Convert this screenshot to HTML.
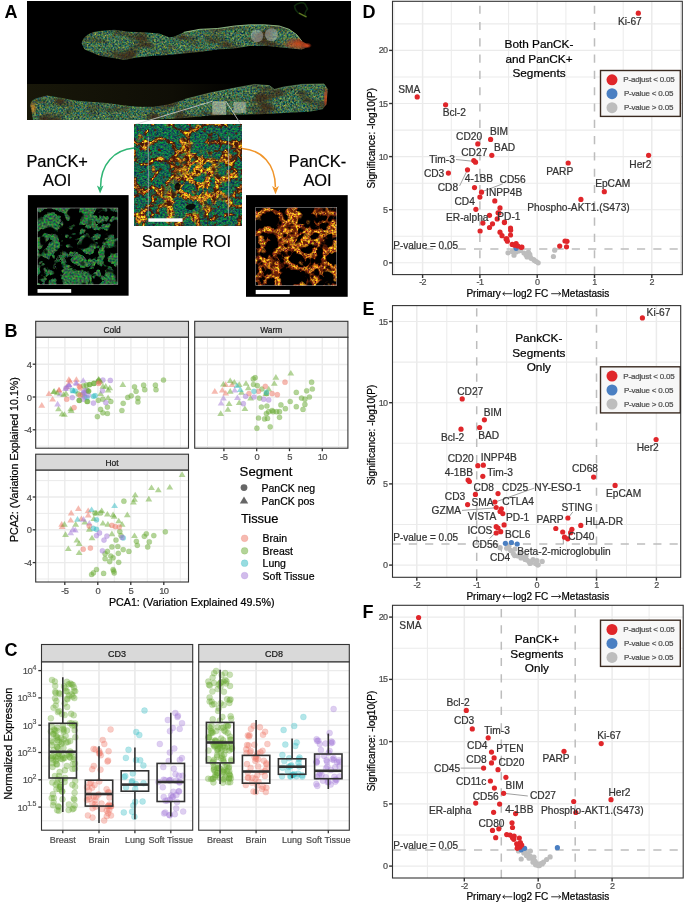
<!DOCTYPE html>
<html><head><meta charset="utf-8"><style>
html,body{margin:0;padding:0;background:#fff;width:685px;height:905px;overflow:hidden}
svg{display:block;will-change:transform;filter:blur(0.3px)}
text{font-family:"Liberation Sans",sans-serif}
</style></head><body>
<svg width="685" height="905" viewBox="0 0 685 905" font-family="Liberation Sans, sans-serif">
<defs>

<filter id="roi" x="0" y="0" width="1" height="1" filterUnits="objectBoundingBox" color-interpolation-filters="sRGB">
 <feTurbulence type="turbulence" baseFrequency="0.055" numOctaves="3" seed="11" result="T"/>
 <feTurbulence type="fractalNoise" baseFrequency="0.07" numOctaves="2" seed="3" result="B"/>
 <feTurbulence type="fractalNoise" baseFrequency="0.22" numOctaves="2" seed="9" result="N"/>
 <feColorMatrix in="T" type="matrix" values="0 0 0 0 0  0 0 0 0 0  0 0 0 0 0  -12 0 0 0 2.05" result="m1"/>
 <feColorMatrix in="B" type="matrix" values="0 0 0 0 0  0 0 0 0 0  0 0 0 0 0  10 0 0 0 -6.6" result="m2"/>
 <feComposite in="m1" in2="m2" operator="arithmetic" k2="1" k3="1" result="mk"/>
 <feColorMatrix in="N" type="matrix" values="0 0 0 0 0  0 0 0 0 0  0 0 0 0 0  6 0 0 0 -1.9" result="brk"/>
 <feComposite in="mk" in2="brk" operator="in" result="mask"/>
 <feColorMatrix in="T" type="matrix" values="0 0 0 0 0  0 0 0 0 0  0 0 0 0 0  -12 0 0 0 3.05" result="m3"/>
 <feComposite in="m3" in2="m2" operator="arithmetic" k2="1" k3="1" result="mask2"/>
 <feColorMatrix in="N" type="matrix" values="0 0 0 0 0  0 0 0 0 0  0 0 0 0 0  0 -8 0 0 2.7" result="dmask"/>
 <feTurbulence type="fractalNoise" baseFrequency="0.5" numOctaves="2" seed="4" result="fine"/>
 <feColorMatrix in="fine" type="matrix" values="1.7 0 0 0 0.0  1.7 0.8 0 0 -0.68  0 0 0.4 0 -0.08  0 0 0 0 1" result="yel"/>
 <feColorMatrix in="fine" type="matrix" values="0.4 0 0 0 -0.12  0 0.9 0 0 -0.05  0 -0.2 0.25 0 0.28  0 0 0 0 1" result="grn"/>
 <feFlood flood-color="#4a1608" result="dr"/>
 <feComposite in="dr" in2="mask2" operator="in" result="drm"/>
 <feFlood flood-color="#5a1608" result="dk"/>
 <feComposite in="dk" in2="dmask" operator="in" result="dkm"/>
 <feComposite in="yel" in2="mask" operator="in" result="ym"/>
 <feComposite in="dkm" in2="grn" operator="over" result="g1"/>
 <feComposite in="drm" in2="g1" operator="over" result="g2"/>
 <feComposite in="ym" in2="g2" operator="over"/>
</filter>
<filter id="roi2" x="0" y="0" width="1" height="1" filterUnits="objectBoundingBox" color-interpolation-filters="sRGB">
 <feTurbulence type="turbulence" baseFrequency="0.055" numOctaves="3" seed="11" result="T"/>
 <feTurbulence type="fractalNoise" baseFrequency="0.07" numOctaves="2" seed="3" result="B"/>
 <feTurbulence type="fractalNoise" baseFrequency="0.22" numOctaves="2" seed="9" result="N"/>
 <feColorMatrix in="T" type="matrix" values="0 0 0 0 0  0 0 0 0 0  0 0 0 0 0  -12 0 0 0 3.9" result="m1"/>
 <feColorMatrix in="B" type="matrix" values="0 0 0 0 0  0 0 0 0 0  0 0 0 0 0  10 0 0 0 -6.0" result="m2"/>
 <feComposite in="m1" in2="m2" operator="arithmetic" k2="1" k3="1" result="mk"/>
 <feColorMatrix in="N" type="matrix" values="0 0 0 0 0  0 0 0 0 0  0 0 0 0 0  6 0 0 0 -1.9" result="brk"/>
 <feComposite in="mk" in2="brk" operator="in" result="mask"/>
 <feColorMatrix in="T" type="matrix" values="0 0 0 0 0  0 0 0 0 0  0 0 0 0 0  -12 0 0 0 4.2" result="m3"/>
 <feComposite in="m3" in2="m2" operator="arithmetic" k2="1" k3="1" result="mask2"/>
 <feColorMatrix in="N" type="matrix" values="0 0 0 0 0  0 0 0 0 0  0 0 0 0 0  0 -8 0 0 2.7" result="dmask"/>
 <feTurbulence type="fractalNoise" baseFrequency="0.5" numOctaves="2" seed="4" result="fine"/>
 <feColorMatrix in="fine" type="matrix" values="1.7 0 0 0 0.0  1.7 0.8 0 0 -0.68  0 0 0.4 0 -0.08  0 0 0 0 1" result="yel"/>
 <feColorMatrix in="fine" type="matrix" values="0.4 0 0 0 -0.12  0 0.9 0 0 -0.05  0 -0.2 0.25 0 0.28  0 0 0 0 1" result="grn"/>
 <feFlood flood-color="#4a1608" result="dr"/>
 <feComposite in="dr" in2="mask2" operator="in" result="drm"/>
 <feFlood flood-color="#5a1608" result="dk"/>
 <feComposite in="dk" in2="dmask" operator="in" result="dkm"/>
 <feComposite in="yel" in2="mask" operator="in" result="ym"/>
 <feComposite in="dkm" in2="grn" operator="over" result="g1"/>
 <feComposite in="drm" in2="g1" operator="over" result="g2"/>
 <feComposite in="ym" in2="g2" operator="over"/>
</filter>
<filter id="aoin" x="0" y="0" width="1" height="1" color-interpolation-filters="sRGB">
 <feTurbulence type="turbulence" baseFrequency="0.055" numOctaves="3" seed="11" result="T"/>
 <feTurbulence type="fractalNoise" baseFrequency="0.07" numOctaves="2" seed="3" result="B"/>
 <feTurbulence type="fractalNoise" baseFrequency="0.22" numOctaves="2" seed="9" result="N"/>
 <feColorMatrix in="T" type="matrix" values="0 0 0 0 0  0 0 0 0 0  0 0 0 0 0  -12 0 0 0 2.45" result="m1"/>
 <feColorMatrix in="B" type="matrix" values="0 0 0 0 0  0 0 0 0 0  0 0 0 0 0  10 0 0 0 -6.0" result="m2"/>
 <feComposite in="m1" in2="m2" operator="arithmetic" k2="1" k3="1" result="mk"/>
 <feColorMatrix in="N" type="matrix" values="0 0 0 0 0  0 0 0 0 0  0 0 0 0 0  6 0 0 0 -1.9" result="brk"/>
 <feComposite in="mk" in2="brk" operator="in" result="mask"/>
 <feColorMatrix in="T" type="matrix" values="0 0 0 0 0  0 0 0 0 0  0 0 0 0 0  -12 0 0 0 3.5" result="m3"/>
 <feComposite in="m3" in2="m2" operator="arithmetic" k2="1" k3="1" result="mask2"/>
 <feColorMatrix in="N" type="matrix" values="0 0 0 0 0  0 0 0 0 0  0 0 0 0 0  0 -8 0 0 3.0" result="dmask"/>
 <feTurbulence type="fractalNoise" baseFrequency="0.5" numOctaves="2" seed="4" result="fine"/>
 <feColorMatrix in="fine" type="matrix" values="1.7 0 0 0 -0.02  1.6 0.8 0 0 -0.7  0 0 0.4 0 -0.08  0 0 0 0 1" result="yel"/>
 <feColorMatrix in="fine" type="matrix" values="0.4 0 0 0 -0.1  0 0.9 0 0 -0.05  0 -0.2 0.25 0 0.2  0 0 0 0 1" result="grn"/>
 <feFlood flood-color="#6a2008" result="dr"/>
 <feComposite in="dr" in2="mask2" operator="in" result="drm"/>
 <feFlood flood-color="#2a0c06" result="dk"/>
 <feComposite in="dk" in2="dmask" operator="in" result="dkm"/>
 <feComposite in="yel" in2="mask" operator="in" result="ym"/>
 <feFlood flood-color="#000" result="g1"/>
 <feComposite in="drm" in2="g1" operator="over" result="g2"/>
 <feComposite in="ym" in2="g2" operator="over"/>
</filter>
<filter id="aoin2" x="0" y="0" width="1" height="1" color-interpolation-filters="sRGB">
 <feTurbulence type="turbulence" baseFrequency="0.055" numOctaves="3" seed="11" result="T"/>
 <feTurbulence type="fractalNoise" baseFrequency="0.07" numOctaves="2" seed="3" result="B"/>
 <feTurbulence type="fractalNoise" baseFrequency="0.22" numOctaves="2" seed="9" result="N"/>
 <feColorMatrix in="T" type="matrix" values="0 0 0 0 0  0 0 0 0 0  0 0 0 0 0  -12 0 0 0 3.05" result="m1"/>
 <feColorMatrix in="B" type="matrix" values="0 0 0 0 0  0 0 0 0 0  0 0 0 0 0  10 0 0 0 -6.0" result="m2"/>
 <feComposite in="m1" in2="m2" operator="arithmetic" k2="1" k3="1" result="mk"/>
 <feColorMatrix in="N" type="matrix" values="0 0 0 0 0  0 0 0 0 0  0 0 0 0 0  6 0 0 0 -1.9" result="brk"/>
 <feComposite in="mk" in2="brk" operator="in" result="mask"/>
 <feColorMatrix in="T" type="matrix" values="0 0 0 0 0  0 0 0 0 0  0 0 0 0 0  -12 0 0 0 3.8" result="m3"/>
 <feComposite in="m3" in2="m2" operator="arithmetic" k2="1" k3="1" result="mask2"/>
 <feColorMatrix in="N" type="matrix" values="0 0 0 0 0  0 0 0 0 0  0 0 0 0 0  0 -8 0 0 3.0" result="dmask"/>
 <feTurbulence type="fractalNoise" baseFrequency="0.5" numOctaves="2" seed="4" result="fine"/>
 <feColorMatrix in="fine" type="matrix" values="1.7 0 0 0 -0.02  1.6 0.8 0 0 -0.7  0 0 0.4 0 -0.08  0 0 0 0 1" result="yel"/>
 <feColorMatrix in="fine" type="matrix" values="0.4 0 0 0 -0.1  0 0.9 0 0 -0.05  0 -0.2 0.25 0 0.2  0 0 0 0 1" result="grn"/>
 <feFlood flood-color="#6a2008" result="dr"/>
 <feComposite in="dr" in2="mask2" operator="in" result="drm"/>
 <feFlood flood-color="#2a0c06" result="dk"/>
 <feComposite in="dk" in2="dmask" operator="in" result="dkm"/>
 <feComposite in="yel" in2="mask" operator="in" result="ym"/>
 <feFlood flood-color="#000" result="g1"/>
 <feComposite in="drm" in2="g1" operator="over" result="g2"/>
 <feComposite in="ym" in2="g2" operator="over"/>
</filter>
<filter id="aoip" x="0" y="0" width="1" height="1" color-interpolation-filters="sRGB">
 <feTurbulence type="turbulence" baseFrequency="0.055" numOctaves="3" seed="11" result="T"/>
 <feTurbulence type="fractalNoise" baseFrequency="0.07" numOctaves="2" seed="3" result="B"/>
 <feColorMatrix in="T" type="matrix" values="0 0 0 0 0  0 0 0 0 0  0 0 0 0 0  12 0 0 0 -2.5" result="m1"/>
 <feColorMatrix in="B" type="matrix" values="0 0 0 0 0  0 0 0 0 0  0 0 0 0 0  -10 0 0 0 6.9" result="m2"/>
 <feComposite in="m1" in2="m2" operator="in" result="mask"/>
 <feTurbulence type="fractalNoise" baseFrequency="0.5" numOctaves="2" seed="4" result="fine"/>
 <feColorMatrix in="fine" type="matrix" values="0.7 0 0 0 -0.17  0 0.9 0 0 0.0  0 -0.2 0.3 0 0.2  0 0 0 0 1" result="grn"/>
 <feComposite in="grn" in2="mask" operator="in" result="gm"/>
 <feFlood flood-color="#000" result="blk"/>
 <feComposite in="gm" in2="blk" operator="over"/>
</filter>



<filter id="tis" x="0" y="0" width="1" height="1" filterUnits="objectBoundingBox" color-interpolation-filters="sRGB">
 <feTurbulence type="fractalNoise" baseFrequency="0.55" numOctaves="2" seed="8" result="fine"/>
 <feColorMatrix in="fine" type="matrix" values="0.9 0.3 0 0 -0.35  0.35 0.7 0 0 -0.1  -0.2 0.2 0.5 0 0.05  0 0 0 0 1" result="c"/>
 <feTurbulence type="fractalNoise" baseFrequency="0.9" numOctaves="1" seed="5" result="sp"/>
 <feColorMatrix in="sp" type="matrix" values="0 0 0 0 0  0 0 0 0 0  0 0 0 0 0  10 0 0 0 -7.2" result="spm"/>
 <feFlood flood-color="#d8b838" result="yl"/>
 <feComposite in="yl" in2="spm" operator="in" result="ys"/>
 <feComposite in="ys" in2="c" operator="over" result="c2"/>
 <feTurbulence type="fractalNoise" baseFrequency="0.04 0.08" numOctaves="2" seed="21" result="low"/>
 <feColorMatrix in="low" type="matrix" values="0 0 0 0 0  0 0 0 0 0  0 0 0 0 0  -4 0 0 0 2.1" result="dk"/>
 <feFlood flood-color="#3a1a0c" flood-opacity="0.7" result="brown"/>
 <feComposite in="brown" in2="dk" operator="in" result="bm"/>
 <feComposite in="bm" in2="c2" operator="over"/>
</filter>
<filter id="blur6" x="-50%" y="-50%" width="200%" height="200%"><feGaussianBlur stdDeviation="6"/></filter>
<mask id="ymask" maskUnits="userSpaceOnUse" x="0" y="0" width="106.2" height="100.7"><path d="M60,22 C72,24 78,40 88,52 C96,62 90,80 76,80 C66,80 60,90 48,92 C34,94 26,86 30,74 C34,62 44,58 48,46 C52,34 50,22 60,22Z" fill="#fff" filter="url(#blur6)"/></mask>
<filter id="blur1" x="-50%" y="-50%" width="200%" height="200%"><feGaussianBlur stdDeviation="0.6"/></filter>
<radialGradient id="redglow" cx="0.5" cy="0.5" r="0.5"><stop offset="0" stop-color="#e04a1a" stop-opacity="0.85"/><stop offset="0.6" stop-color="#c83a18" stop-opacity="0.5"/><stop offset="1" stop-color="#a02a10" stop-opacity="0"/></radialGradient>
<radialGradient id="orglow" cx="0.5" cy="0.5" r="0.5"><stop offset="0" stop-color="#f09a20" stop-opacity="0.8"/><stop offset="1" stop-color="#d06010" stop-opacity="0"/></radialGradient>
<clipPath id="cpU"><path d="M81.6,43.4 C83,36 90,32 99.5,31 L114.4,29.8 L129.2,31.8 L144.1,32.3 L159,33.5 L169,37.2 L173.9,36.7 L183.8,32.3 L199.9,29.3 L217.3,28.5 L234.6,26 L249.5,24.8 L264.4,24.8 L279.3,26 L289.2,29.3 L296.7,34.7 L301.7,41 L310,46 L301.7,49.6 L291.7,48.4 L279.3,47.2 L266.9,45.9 L249.5,45.9 L234.6,48.4 L217.3,49.6 L199.9,52.1 L183.8,53.4 L169,55.1 L154,55.8 L136.7,57.6 L124.3,60 L114.4,58.3 L99.5,55.8 L84.6,49.6 Z"/></clipPath>
<clipPath id="cpL"><path d="M31.2,109.2 C29,104 31,100 37.4,98 L47.3,95.6 L62.2,98 L74.6,100.5 L89.5,101.8 L106.9,103 L124.3,105.5 L139.2,106.7 L154,106.7 L169,104.2 L185,99.3 L209.8,93 L234.6,88.1 L254.5,84.4 L269.4,85.6 L274.4,89.4 L284.3,86.9 L301.7,84.4 L324,83.9 L327.7,89.4 L326.5,104.2 L322.7,109.2 L309.1,111.7 L284.3,112.9 L259.5,114.2 L234.6,114.7 L209.8,115.4 L185,118 L150,120 L100,120 L60,120 L33,120 Z"/></clipPath>
<linearGradient id="olive" x1="0" x2="1" y1="0" y2="0"><stop offset="0" stop-color="#181709"/><stop offset="0.45" stop-color="#0f0e06"/><stop offset="0.7" stop-color="#000"/></linearGradient>
<marker id="ahg" viewBox="0 0 10 10" refX="5" refY="9" markerWidth="6.6" markerHeight="7.5" markerUnits="userSpaceOnUse" orient="auto-start-reverse"><path d="M0,0 L5,3 L10,0 L5,10 Z" fill="#2fb574"/></marker>
</defs>
<text x="4.6" y="12.3" font-size="18" text-anchor="start" fill="#000" font-weight="bold" dominant-baseline="central" >A</text>
<text x="4.6" y="330.8" font-size="18" text-anchor="start" fill="#000" font-weight="bold" dominant-baseline="central" >B</text>
<text x="4.6" y="650.4" font-size="18" text-anchor="start" fill="#000" font-weight="bold" dominant-baseline="central" >C</text>
<text x="362.6" y="12.3" font-size="18" text-anchor="start" fill="#000" font-weight="bold" dominant-baseline="central" >D</text>
<text x="362.6" y="308.8" font-size="18" text-anchor="start" fill="#000" font-weight="bold" dominant-baseline="central" >E</text>
<text x="362.6" y="612.2" font-size="18" text-anchor="start" fill="#000" font-weight="bold" dominant-baseline="central" >F</text>
<rect x="27.0" y="1.0" width="324.0" height="119.0" fill="#000" stroke="none" stroke-width="1" />
<rect x="27.0" y="84.0" width="324.0" height="36.0" fill="url(#olive)" stroke="none" stroke-width="1" />
<g clip-path="url(#cpU)"><rect x="80" y="24" width="232" height="37" fill="#000" filter="url(#tis)"/></g>
<g clip-path="url(#cpL)"><rect x="28" y="83" width="302" height="37" fill="#000" filter="url(#tis)"/></g>
<path d="M183.8,32.3 L199.9,29.3 L217.3,28.5 L234.6,26 L249.5,24.8 L264.4,24.8 L279.3,26 L289.2,29.3 L296.7,34.7 L301.7,41" fill="none" stroke="#b8e8a8" stroke-width="1" opacity="0.7"/>
<path d="M185,99.3 L209.8,93 L234.6,88.1 L254.5,84.4 L269.4,85.6 L274.4,89.4 L284.3,86.9 L301.7,84.4 L324,83.9 L327.7,89.4" fill="none" stroke="#a8e0a0" stroke-width="0.8" opacity="0.45"/>
<path d="M294.5,6 C297,2.5 303,2 305,4 L307.5,9 C305,12 303.5,14.5 306.5,17 L300,14 C297,12.5 295,10 294.5,6Z" fill="none" stroke="#2f7a26" stroke-width="1.6" opacity="0.35" filter="url(#blur1)"/>
<path d="M299,13 L306.5,17" stroke="#a0b030" stroke-width="1.2" opacity="0.6" filter="url(#blur1)"/>
<g clip-path="url(#cpU)"><ellipse cx="298" cy="44" rx="16" ry="7" fill="url(#redglow)"/></g>
<ellipse cx="307" cy="45.5" rx="5" ry="3" fill="url(#redglow)"/>
<g clip-path="url(#cpL)"><ellipse cx="33" cy="108" rx="4" ry="8" fill="url(#orglow)"/><ellipse cx="326" cy="98" rx="3" ry="12" fill="url(#redglow)"/></g>
<circle cx="257" cy="36" r="6.2" fill="#b8c0c0" opacity="0.5"/>
<circle cx="271.4" cy="34.7" r="6.5" fill="#b8c0c0" opacity="0.5"/>
<rect x="212.3" y="101.3" width="13.7" height="13.4" fill="#d0d0c0" stroke="none" stroke-width="1" opacity="0.55"/>
<rect x="233.4" y="101.8" width="12.4" height="11.1" fill="#d0d0c0" stroke="none" stroke-width="1" opacity="0.5"/>
<line x1="212.3" y1="101.3" x2="135.4" y2="124.4" stroke="#d0d0d0" stroke-width="0.8" />
<line x1="226.0" y1="101.3" x2="240.9" y2="124.4" stroke="#d0d0d0" stroke-width="0.8" />
<g transform="translate(134.9,124.5)"><rect x="0" y="0" width="106.2" height="100.7" fill="#000" filter="url(#roi)"/><g mask="url(#ymask)"><rect x="0" y="0" width="106.2" height="100.7" fill="#000" filter="url(#roi2)"/></g><line x1="13.4" y1="12" x2="13.4" y2="92" stroke="#bbb" stroke-width="0.7"/><line x1="93.7" y1="12" x2="93.7" y2="92" stroke="#bbb" stroke-width="0.7"/><path d="M41,59 C44,57.5 46.5,60 45.5,63 C44.5,66 42,66.5 40.5,64.5 C39.5,62.5 39.5,60.5 41,59Z" fill="#0a0604" opacity="0.9"/><path d="M51,82 C53,78.5 58,78.5 60,80.5 C61.5,83 58,86 55,85.5 C52,85 50,84 51,82Z" fill="#0a0604" opacity="0.9"/><rect x="13.4" y="93.8" width="34.2" height="3.5" fill="#fff"/></g>
<rect x="27.9" y="195.1" width="100.7" height="100.6" fill="#000" stroke="none" stroke-width="1" />
<g transform="translate(24.1,196)"><rect x="13.4" y="12" width="80.3" height="76.7" fill="#000" filter="url(#aoip)"/><rect x="13.4" y="12" width="80.3" height="76.7" fill="none" stroke="#9a9a9a" stroke-width="0.6"/></g>
<rect x="37.5" y="289.1" width="33.7" height="3.7" fill="#fff" stroke="none" stroke-width="1" />
<rect x="246.0" y="195.1" width="101.7" height="101.7" fill="#000" stroke="none" stroke-width="1" />
<g transform="translate(242.3,195.3)"><rect x="13.4" y="12" width="81" height="78.3" fill="#000" filter="url(#aoin)"/><g mask="url(#ymask)"><rect x="13.4" y="12" width="81" height="78.3" fill="#000" filter="url(#aoin2)"/></g><rect x="13.4" y="12" width="81" height="78.3" fill="none" stroke="#9a9a9a" stroke-width="0.6"/></g>
<rect x="255.7" y="289.9" width="34.0" height="4.2" fill="#fff" stroke="none" stroke-width="1" />
<path d="M134,148.1 C114,150 100.5,164 100.6,187" fill="none" stroke="#2fb574" stroke-width="1.5"/>
<path d="M96.9,185.6 L100.1,187.6 L103.5,185.6 L100.1,193.6 Z" fill="#2fb574"/>
<path d="M242,148.5 C262,150 275.3,164 275.4,187" fill="none" stroke="#f0952a" stroke-width="1.5"/>
<path d="M272.1,186 L275.5,188 L278.9,186 L275.5,194.2 Z" fill="#f0952a"/>
<text x="57.2" y="161.0" font-size="16.4" text-anchor="middle" fill="#000" font-weight="normal" dominant-baseline="central" stroke="#000" stroke-width="0.22" >PanCK+</text>
<text x="57.2" y="180.4" font-size="16.4" text-anchor="middle" fill="#000" font-weight="normal" dominant-baseline="central" stroke="#000" stroke-width="0.22" >AOI</text>
<text x="317.5" y="160.8" font-size="16.4" text-anchor="middle" fill="#000" font-weight="normal" dominant-baseline="central" stroke="#000" stroke-width="0.22" >PanCK-</text>
<text x="317.5" y="180.0" font-size="16.4" text-anchor="middle" fill="#000" font-weight="normal" dominant-baseline="central" stroke="#000" stroke-width="0.22" >AOI</text>
<text x="186.5" y="240.7" font-size="16.4" text-anchor="middle" fill="#000" font-weight="normal" dominant-baseline="central" stroke="#000" stroke-width="0.22" >Sample ROI</text>
<rect x="35.7" y="321.3" width="152.8" height="16.0" fill="#d9d9d9" stroke="#333333" stroke-width="1.1" />
<text x="112.1" y="329.6" font-size="8.4" text-anchor="middle" fill="#1a1a1a" font-weight="normal" dominant-baseline="central" stroke="#1a1a1a" stroke-width="0.22" >Cold</text>
<rect x="35.7" y="337.3" width="152.8" height="110.9" fill="#fff" stroke="none" stroke-width="1" />
<line x1="48.4" y1="337.3" x2="48.4" y2="448.2" stroke="#ebebeb" stroke-width="1" />
<line x1="64.9" y1="337.3" x2="64.9" y2="448.2" stroke="#ebebeb" stroke-width="1.4" />
<line x1="81.4" y1="337.3" x2="81.4" y2="448.2" stroke="#ebebeb" stroke-width="1" />
<line x1="97.9" y1="337.3" x2="97.9" y2="448.2" stroke="#ebebeb" stroke-width="1.4" />
<line x1="114.4" y1="337.3" x2="114.4" y2="448.2" stroke="#ebebeb" stroke-width="1" />
<line x1="130.9" y1="337.3" x2="130.9" y2="448.2" stroke="#ebebeb" stroke-width="1.4" />
<line x1="147.4" y1="337.3" x2="147.4" y2="448.2" stroke="#ebebeb" stroke-width="1" />
<line x1="163.9" y1="337.3" x2="163.9" y2="448.2" stroke="#ebebeb" stroke-width="1.4" />
<line x1="180.4" y1="337.3" x2="180.4" y2="448.2" stroke="#ebebeb" stroke-width="1" />
<line x1="35.7" y1="446.2" x2="188.5" y2="446.2" stroke="#ebebeb" stroke-width="1" />
<line x1="35.7" y1="429.8" x2="188.5" y2="429.8" stroke="#ebebeb" stroke-width="1.4" />
<line x1="35.7" y1="413.4" x2="188.5" y2="413.4" stroke="#ebebeb" stroke-width="1" />
<line x1="35.7" y1="397.0" x2="188.5" y2="397.0" stroke="#ebebeb" stroke-width="1.4" />
<line x1="35.7" y1="380.6" x2="188.5" y2="380.6" stroke="#ebebeb" stroke-width="1" />
<line x1="35.7" y1="364.2" x2="188.5" y2="364.2" stroke="#ebebeb" stroke-width="1.4" />
<line x1="35.7" y1="347.8" x2="188.5" y2="347.8" stroke="#ebebeb" stroke-width="1" />
<path d="M41.8,402.1 L45.2,407.7 L38.4,407.7Z" fill="#ee7563" fill-opacity="0.5"/>
<path d="M49.0,390.4 L52.4,396.0 L45.6,396.0Z" fill="#ee7563" fill-opacity="0.5"/>
<path d="M52.6,396.0 L56.0,401.6 L49.2,401.6Z" fill="#ee7563" fill-opacity="0.5"/>
<path d="M59.2,387.0 L62.6,392.6 L55.8,392.6Z" fill="#ee7563" fill-opacity="0.5"/>
<path d="M68.9,376.3 L72.3,381.9 L65.5,381.9Z" fill="#ee7563" fill-opacity="0.5"/>
<path d="M76.4,376.3 L79.8,381.9 L73.0,381.9Z" fill="#ee7563" fill-opacity="0.5"/>
<path d="M66.7,383.6 L70.1,389.2 L63.3,389.2Z" fill="#ee7563" fill-opacity="0.5"/>
<path d="M54.2,388.1 L57.6,393.7 L50.8,393.7Z" fill="#68aa32" fill-opacity="0.5"/>
<path d="M58.5,405.7 L61.9,411.3 L55.1,411.3Z" fill="#68aa32" fill-opacity="0.5"/>
<path d="M62.1,410.7 L65.5,416.3 L58.7,416.3Z" fill="#68aa32" fill-opacity="0.5"/>
<path d="M64.4,411.2 L67.8,416.8 L61.0,416.8Z" fill="#68aa32" fill-opacity="0.5"/>
<path d="M70.7,405.7 L74.1,411.3 L67.3,411.3Z" fill="#68aa32" fill-opacity="0.5"/>
<path d="M71.2,407.3 L74.6,412.9 L67.8,412.9Z" fill="#68aa32" fill-opacity="0.5"/>
<path d="M98.8,376.3 L102.2,381.9 L95.4,381.9Z" fill="#68aa32" fill-opacity="0.5"/>
<path d="M102.9,383.1 L106.3,388.7 L99.5,388.7Z" fill="#68aa32" fill-opacity="0.5"/>
<path d="M108.1,387.0 L111.5,392.6 L104.7,392.6Z" fill="#68aa32" fill-opacity="0.5"/>
<path d="M109.7,384.7 L113.1,390.3 L106.3,390.3Z" fill="#68aa32" fill-opacity="0.5"/>
<path d="M122.8,381.3 L126.2,386.9 L119.4,386.9Z" fill="#68aa32" fill-opacity="0.5"/>
<path d="M100.6,390.4 L104.0,396.0 L97.2,396.0Z" fill="#68aa32" fill-opacity="0.5"/>
<path d="M108.1,394.4 L111.5,400.0 L104.7,400.0Z" fill="#68aa32" fill-opacity="0.5"/>
<path d="M57.6,400.8 L61.0,406.4 L54.2,406.4Z" fill="#a47ad8" fill-opacity="0.5"/>
<path d="M83.2,377.2 L86.6,382.8 L79.8,382.8Z" fill="#a47ad8" fill-opacity="0.5"/>
<path d="M68.9,381.3 L72.3,386.9 L65.5,386.9Z" fill="#a47ad8" fill-opacity="0.5"/>
<path d="M65.5,385.4 L68.9,391.0 L62.1,391.0Z" fill="#a47ad8" fill-opacity="0.5"/>
<path d="M76.9,380.2 L80.3,385.8 L73.5,385.8Z" fill="#a47ad8" fill-opacity="0.5"/>
<path d="M73.5,387.6 L76.9,393.2 L70.1,393.2Z" fill="#30b9c2" fill-opacity="0.5"/>
<circle cx="89.3" cy="384.5" r="2.6" fill="#68aa32" fill-opacity="0.5" stroke="#68aa32" stroke-opacity="0.25" stroke-width="0.6"/>
<circle cx="93.8" cy="383.4" r="2.6" fill="#68aa32" fill-opacity="0.5" stroke="#68aa32" stroke-opacity="0.25" stroke-width="0.6"/>
<circle cx="98.3" cy="381.1" r="2.6" fill="#68aa32" fill-opacity="0.5" stroke="#68aa32" stroke-opacity="0.25" stroke-width="0.6"/>
<circle cx="87.0" cy="390.2" r="2.6" fill="#68aa32" fill-opacity="0.5" stroke="#68aa32" stroke-opacity="0.25" stroke-width="0.6"/>
<circle cx="98.3" cy="400.3" r="2.6" fill="#68aa32" fill-opacity="0.5" stroke="#68aa32" stroke-opacity="0.25" stroke-width="0.6"/>
<circle cx="102.9" cy="399.2" r="2.6" fill="#68aa32" fill-opacity="0.5" stroke="#68aa32" stroke-opacity="0.25" stroke-width="0.6"/>
<circle cx="110.8" cy="401.5" r="2.6" fill="#68aa32" fill-opacity="0.5" stroke="#68aa32" stroke-opacity="0.25" stroke-width="0.6"/>
<circle cx="100.6" cy="409.4" r="2.6" fill="#68aa32" fill-opacity="0.5" stroke="#68aa32" stroke-opacity="0.25" stroke-width="0.6"/>
<circle cx="102.9" cy="412.8" r="2.6" fill="#68aa32" fill-opacity="0.5" stroke="#68aa32" stroke-opacity="0.25" stroke-width="0.6"/>
<circle cx="107.4" cy="413.5" r="2.6" fill="#68aa32" fill-opacity="0.5" stroke="#68aa32" stroke-opacity="0.25" stroke-width="0.6"/>
<circle cx="107.4" cy="407.1" r="2.6" fill="#68aa32" fill-opacity="0.5" stroke="#68aa32" stroke-opacity="0.25" stroke-width="0.6"/>
<circle cx="97.4" cy="416.6" r="2.6" fill="#68aa32" fill-opacity="0.5" stroke="#68aa32" stroke-opacity="0.25" stroke-width="0.6"/>
<circle cx="121.9" cy="410.5" r="2.6" fill="#68aa32" fill-opacity="0.5" stroke="#68aa32" stroke-opacity="0.25" stroke-width="0.6"/>
<circle cx="123.2" cy="403.3" r="2.6" fill="#68aa32" fill-opacity="0.5" stroke="#68aa32" stroke-opacity="0.25" stroke-width="0.6"/>
<circle cx="127.8" cy="397.4" r="2.6" fill="#68aa32" fill-opacity="0.5" stroke="#68aa32" stroke-opacity="0.25" stroke-width="0.6"/>
<circle cx="131.2" cy="395.8" r="2.6" fill="#68aa32" fill-opacity="0.5" stroke="#68aa32" stroke-opacity="0.25" stroke-width="0.6"/>
<circle cx="134.5" cy="386.8" r="2.6" fill="#68aa32" fill-opacity="0.5" stroke="#68aa32" stroke-opacity="0.25" stroke-width="0.6"/>
<circle cx="136.1" cy="391.3" r="2.6" fill="#68aa32" fill-opacity="0.5" stroke="#68aa32" stroke-opacity="0.25" stroke-width="0.6"/>
<circle cx="137.9" cy="398.1" r="2.6" fill="#68aa32" fill-opacity="0.5" stroke="#68aa32" stroke-opacity="0.25" stroke-width="0.6"/>
<circle cx="137.9" cy="401.9" r="2.6" fill="#68aa32" fill-opacity="0.5" stroke="#68aa32" stroke-opacity="0.25" stroke-width="0.6"/>
<circle cx="143.6" cy="385.2" r="2.6" fill="#68aa32" fill-opacity="0.5" stroke="#68aa32" stroke-opacity="0.25" stroke-width="0.6"/>
<circle cx="144.7" cy="389.7" r="2.6" fill="#68aa32" fill-opacity="0.5" stroke="#68aa32" stroke-opacity="0.25" stroke-width="0.6"/>
<circle cx="155.4" cy="385.2" r="2.6" fill="#68aa32" fill-opacity="0.5" stroke="#68aa32" stroke-opacity="0.25" stroke-width="0.6"/>
<circle cx="156.0" cy="389.7" r="2.6" fill="#68aa32" fill-opacity="0.5" stroke="#68aa32" stroke-opacity="0.25" stroke-width="0.6"/>
<circle cx="163.5" cy="380.0" r="2.6" fill="#68aa32" fill-opacity="0.5" stroke="#68aa32" stroke-opacity="0.25" stroke-width="0.6"/>
<circle cx="79.1" cy="400.3" r="2.6" fill="#68aa32" fill-opacity="0.5" stroke="#68aa32" stroke-opacity="0.25" stroke-width="0.6"/>
<circle cx="87.0" cy="401.5" r="2.6" fill="#68aa32" fill-opacity="0.5" stroke="#68aa32" stroke-opacity="0.25" stroke-width="0.6"/>
<circle cx="88.2" cy="391.3" r="2.6" fill="#68aa32" fill-opacity="0.5" stroke="#68aa32" stroke-opacity="0.25" stroke-width="0.6"/>
<circle cx="82.5" cy="394.7" r="2.6" fill="#68aa32" fill-opacity="0.5" stroke="#68aa32" stroke-opacity="0.25" stroke-width="0.6"/>
<circle cx="102.9" cy="380.0" r="2.6" fill="#a47ad8" fill-opacity="0.5" stroke="#a47ad8" stroke-opacity="0.25" stroke-width="0.6"/>
<circle cx="110.3" cy="380.4" r="2.6" fill="#a47ad8" fill-opacity="0.5" stroke="#a47ad8" stroke-opacity="0.25" stroke-width="0.6"/>
<circle cx="72.3" cy="397.6" r="2.6" fill="#a47ad8" fill-opacity="0.5" stroke="#a47ad8" stroke-opacity="0.25" stroke-width="0.6"/>
<circle cx="83.6" cy="392.4" r="2.6" fill="#a47ad8" fill-opacity="0.5" stroke="#a47ad8" stroke-opacity="0.25" stroke-width="0.6"/>
<circle cx="93.4" cy="403.1" r="2.6" fill="#a47ad8" fill-opacity="0.5" stroke="#a47ad8" stroke-opacity="0.25" stroke-width="0.6"/>
<circle cx="105.8" cy="402.6" r="2.6" fill="#a47ad8" fill-opacity="0.5" stroke="#a47ad8" stroke-opacity="0.25" stroke-width="0.6"/>
<circle cx="102.4" cy="390.8" r="2.6" fill="#a47ad8" fill-opacity="0.5" stroke="#a47ad8" stroke-opacity="0.25" stroke-width="0.6"/>
<circle cx="84.8" cy="397.0" r="2.6" fill="#a47ad8" fill-opacity="0.5" stroke="#a47ad8" stroke-opacity="0.25" stroke-width="0.6"/>
<circle cx="93.4" cy="396.3" r="2.6" fill="#30b9c2" fill-opacity="0.5" stroke="#30b9c2" stroke-opacity="0.25" stroke-width="0.6"/>
<circle cx="87.0" cy="397.6" r="2.6" fill="#30b9c2" fill-opacity="0.5" stroke="#30b9c2" stroke-opacity="0.25" stroke-width="0.6"/>
<circle cx="66.7" cy="399.2" r="2.6" fill="#ee7563" fill-opacity="0.5" stroke="#ee7563" stroke-opacity="0.25" stroke-width="0.6"/>
<circle cx="74.1" cy="407.6" r="2.6" fill="#ee7563" fill-opacity="0.5" stroke="#ee7563" stroke-opacity="0.25" stroke-width="0.6"/>
<circle cx="99.5" cy="382.2" r="2.6" fill="#ee7563" fill-opacity="0.5" stroke="#ee7563" stroke-opacity="0.25" stroke-width="0.6"/>
<circle cx="80.2" cy="387.9" r="2.6" fill="#ee7563" fill-opacity="0.5" stroke="#ee7563" stroke-opacity="0.25" stroke-width="0.6"/>
<circle cx="66.0" cy="388.1" r="2.6" fill="#a47ad8" fill-opacity="0.5" stroke="#a47ad8" stroke-opacity="0.25" stroke-width="0.6"/>
<circle cx="68.9" cy="386.3" r="2.6" fill="#a47ad8" fill-opacity="0.5" stroke="#a47ad8" stroke-opacity="0.25" stroke-width="0.6"/>
<circle cx="84.0" cy="393.4" r="2.6" fill="#a47ad8" fill-opacity="0.5" stroke="#a47ad8" stroke-opacity="0.25" stroke-width="0.6"/>
<circle cx="85.2" cy="390.4" r="2.6" fill="#a47ad8" fill-opacity="0.5" stroke="#a47ad8" stroke-opacity="0.25" stroke-width="0.6"/>
<circle cx="82.9" cy="399.2" r="2.6" fill="#a47ad8" fill-opacity="0.5" stroke="#a47ad8" stroke-opacity="0.25" stroke-width="0.6"/>
<circle cx="88.1" cy="395.1" r="2.6" fill="#a47ad8" fill-opacity="0.5" stroke="#a47ad8" stroke-opacity="0.25" stroke-width="0.6"/>
<path d="M60.1,390.7 L63.5,396.3 L56.7,396.3Z" fill="#a47ad8" fill-opacity="0.5"/>
<path d="M75.9,379.6 L79.3,385.2 L72.5,385.2Z" fill="#a47ad8" fill-opacity="0.5"/>
<path d="M68.9,381.4 L72.3,387.0 L65.5,387.0Z" fill="#a47ad8" fill-opacity="0.5"/>
<path d="M58.9,386.7 L62.3,392.3 L55.5,392.3Z" fill="#ee7563" fill-opacity="0.5"/>
<path d="M70.0,377.9 L73.4,383.5 L66.6,383.5Z" fill="#ee7563" fill-opacity="0.5"/>
<circle cx="72.4" cy="390.4" r="2.6" fill="#30b9c2" fill-opacity="0.5" stroke="#30b9c2" stroke-opacity="0.25" stroke-width="0.6"/>
<circle cx="75.3" cy="391.0" r="2.6" fill="#30b9c2" fill-opacity="0.5" stroke="#30b9c2" stroke-opacity="0.25" stroke-width="0.6"/>
<circle cx="95.1" cy="395.7" r="2.6" fill="#30b9c2" fill-opacity="0.5" stroke="#30b9c2" stroke-opacity="0.25" stroke-width="0.6"/>
<circle cx="83.5" cy="385.8" r="2.6" fill="#68aa32" fill-opacity="0.5" stroke="#68aa32" stroke-opacity="0.25" stroke-width="0.6"/>
<circle cx="86.4" cy="385.2" r="2.6" fill="#68aa32" fill-opacity="0.5" stroke="#68aa32" stroke-opacity="0.25" stroke-width="0.6"/>
<circle cx="89.9" cy="384.6" r="2.6" fill="#68aa32" fill-opacity="0.5" stroke="#68aa32" stroke-opacity="0.25" stroke-width="0.6"/>
<circle cx="94.0" cy="383.4" r="2.6" fill="#68aa32" fill-opacity="0.5" stroke="#68aa32" stroke-opacity="0.25" stroke-width="0.6"/>
<circle cx="78.2" cy="393.9" r="2.6" fill="#68aa32" fill-opacity="0.5" stroke="#68aa32" stroke-opacity="0.25" stroke-width="0.6"/>
<circle cx="88.7" cy="391.0" r="2.6" fill="#68aa32" fill-opacity="0.5" stroke="#68aa32" stroke-opacity="0.25" stroke-width="0.6"/>
<circle cx="87.6" cy="401.5" r="2.6" fill="#68aa32" fill-opacity="0.5" stroke="#68aa32" stroke-opacity="0.25" stroke-width="0.6"/>
<circle cx="79.4" cy="400.4" r="2.6" fill="#68aa32" fill-opacity="0.5" stroke="#68aa32" stroke-opacity="0.25" stroke-width="0.6"/>
<path d="M53.7,388.4 L57.1,394.0 L50.3,394.0Z" fill="#68aa32" fill-opacity="0.5"/>
<path d="M57.2,389.6 L60.6,395.2 L53.8,395.2Z" fill="#68aa32" fill-opacity="0.5"/>
<path d="M63.6,391.3 L67.0,396.9 L60.2,396.9Z" fill="#68aa32" fill-opacity="0.5"/>
<path d="M66.0,390.2 L69.4,395.8 L62.6,395.8Z" fill="#68aa32" fill-opacity="0.5"/>
<path d="M98.6,376.2 L102.0,381.8 L95.2,381.8Z" fill="#68aa32" fill-opacity="0.5"/>
<path d="M100.4,377.9 L103.8,383.5 L97.0,383.5Z" fill="#68aa32" fill-opacity="0.5"/>
<path d="M105.7,383.1 L109.1,388.7 L102.3,388.7Z" fill="#68aa32" fill-opacity="0.5"/>
<circle cx="79.4" cy="386.3" r="2.6" fill="#ee7563" fill-opacity="0.5" stroke="#ee7563" stroke-opacity="0.25" stroke-width="0.6"/>
<circle cx="80.0" cy="395.1" r="2.6" fill="#ee7563" fill-opacity="0.5" stroke="#ee7563" stroke-opacity="0.25" stroke-width="0.6"/>
<circle cx="98.6" cy="383.4" r="2.6" fill="#ee7563" fill-opacity="0.5" stroke="#ee7563" stroke-opacity="0.25" stroke-width="0.6"/>
<rect x="35.7" y="337.3" width="152.8" height="110.9" fill="none" stroke="#333333" stroke-width="1.1" />
<line x1="32.7" y1="364.2" x2="35.7" y2="364.2" stroke="#333333" stroke-width="1.3" />
<text x="31.4" y="364.2" font-size="9.4" text-anchor="end" fill="#4d4d4d" font-weight="normal" dominant-baseline="central" stroke="#4d4d4d" stroke-width="0.22" letter-spacing="-0.6">4</text>
<line x1="32.7" y1="397.0" x2="35.7" y2="397.0" stroke="#333333" stroke-width="1.3" />
<text x="31.4" y="397.0" font-size="9.4" text-anchor="end" fill="#4d4d4d" font-weight="normal" dominant-baseline="central" stroke="#4d4d4d" stroke-width="0.22" letter-spacing="-0.6">0</text>
<line x1="32.7" y1="429.8" x2="35.7" y2="429.8" stroke="#333333" stroke-width="1.3" />
<text x="31.4" y="429.8" font-size="9.4" text-anchor="end" fill="#4d4d4d" font-weight="normal" dominant-baseline="central" stroke="#4d4d4d" stroke-width="0.22" letter-spacing="-0.6">-4</text>
<rect x="194.7" y="321.3" width="153.2" height="16.0" fill="#d9d9d9" stroke="#333333" stroke-width="1.1" />
<text x="271.3" y="329.6" font-size="8.4" text-anchor="middle" fill="#1a1a1a" font-weight="normal" dominant-baseline="central" stroke="#1a1a1a" stroke-width="0.22" >Warm</text>
<rect x="194.7" y="337.3" width="153.2" height="110.9" fill="#fff" stroke="none" stroke-width="1" />
<line x1="207.5" y1="337.3" x2="207.5" y2="448.2" stroke="#ebebeb" stroke-width="1" />
<line x1="223.9" y1="337.3" x2="223.9" y2="448.2" stroke="#ebebeb" stroke-width="1.4" />
<line x1="240.3" y1="337.3" x2="240.3" y2="448.2" stroke="#ebebeb" stroke-width="1" />
<line x1="256.7" y1="337.3" x2="256.7" y2="448.2" stroke="#ebebeb" stroke-width="1.4" />
<line x1="273.1" y1="337.3" x2="273.1" y2="448.2" stroke="#ebebeb" stroke-width="1" />
<line x1="289.5" y1="337.3" x2="289.5" y2="448.2" stroke="#ebebeb" stroke-width="1.4" />
<line x1="305.9" y1="337.3" x2="305.9" y2="448.2" stroke="#ebebeb" stroke-width="1" />
<line x1="322.3" y1="337.3" x2="322.3" y2="448.2" stroke="#ebebeb" stroke-width="1.4" />
<line x1="338.7" y1="337.3" x2="338.7" y2="448.2" stroke="#ebebeb" stroke-width="1" />
<line x1="194.7" y1="446.5" x2="347.9" y2="446.5" stroke="#ebebeb" stroke-width="1" />
<line x1="194.7" y1="430.1" x2="347.9" y2="430.1" stroke="#ebebeb" stroke-width="1.4" />
<line x1="194.7" y1="413.7" x2="347.9" y2="413.7" stroke="#ebebeb" stroke-width="1" />
<line x1="194.7" y1="397.3" x2="347.9" y2="397.3" stroke="#ebebeb" stroke-width="1.4" />
<line x1="194.7" y1="380.9" x2="347.9" y2="380.9" stroke="#ebebeb" stroke-width="1" />
<line x1="194.7" y1="364.5" x2="347.9" y2="364.5" stroke="#ebebeb" stroke-width="1.4" />
<line x1="194.7" y1="348.1" x2="347.9" y2="348.1" stroke="#ebebeb" stroke-width="1" />
<path d="M214.8,388.1 L218.2,393.7 L211.4,393.7Z" fill="#ee7563" fill-opacity="0.5"/>
<path d="M222.3,387.0 L225.7,392.6 L218.9,392.6Z" fill="#ee7563" fill-opacity="0.5"/>
<path d="M225.7,381.3 L229.1,386.9 L222.3,386.9Z" fill="#ee7563" fill-opacity="0.5"/>
<path d="M232.0,381.3 L235.4,386.9 L228.6,386.9Z" fill="#ee7563" fill-opacity="0.5"/>
<path d="M225.7,389.9 L229.1,395.5 L222.3,395.5Z" fill="#ee7563" fill-opacity="0.5"/>
<path d="M223.4,380.9 L226.8,386.5 L220.0,386.5Z" fill="#68aa32" fill-opacity="0.5"/>
<path d="M230.2,377.5 L233.6,383.1 L226.8,383.1Z" fill="#68aa32" fill-opacity="0.5"/>
<path d="M234.3,379.0 L237.7,384.6 L230.9,384.6Z" fill="#68aa32" fill-opacity="0.5"/>
<path d="M239.2,381.3 L242.6,386.9 L235.8,386.9Z" fill="#68aa32" fill-opacity="0.5"/>
<path d="M246.0,380.2 L249.4,385.8 L242.6,385.8Z" fill="#68aa32" fill-opacity="0.5"/>
<path d="M230.2,388.1 L233.6,393.7 L226.8,393.7Z" fill="#68aa32" fill-opacity="0.5"/>
<path d="M241.5,389.2 L244.9,394.8 L238.1,394.8Z" fill="#68aa32" fill-opacity="0.5"/>
<path d="M248.3,384.7 L251.7,390.3 L244.9,390.3Z" fill="#68aa32" fill-opacity="0.5"/>
<path d="M250.6,394.9 L254.0,400.5 L247.2,400.5Z" fill="#68aa32" fill-opacity="0.5"/>
<path d="M229.1,400.5 L232.5,406.1 L225.7,406.1Z" fill="#68aa32" fill-opacity="0.5"/>
<path d="M227.9,406.2 L231.3,411.8 L224.5,411.8Z" fill="#68aa32" fill-opacity="0.5"/>
<path d="M220.7,410.3 L224.1,415.9 L217.3,415.9Z" fill="#68aa32" fill-opacity="0.5"/>
<path d="M244.9,405.5 L248.3,411.1 L241.5,411.1Z" fill="#68aa32" fill-opacity="0.5"/>
<path d="M239.2,399.4 L242.6,405.0 L235.8,405.0Z" fill="#68aa32" fill-opacity="0.5"/>
<path d="M275.9,374.1 L279.3,379.7 L272.5,379.7Z" fill="#68aa32" fill-opacity="0.5"/>
<path d="M290.8,370.0 L294.2,375.6 L287.4,375.6Z" fill="#68aa32" fill-opacity="0.5"/>
<path d="M274.3,380.2 L277.7,385.8 L270.9,385.8Z" fill="#68aa32" fill-opacity="0.5"/>
<path d="M268.7,385.8 L272.1,391.4 L265.3,391.4Z" fill="#68aa32" fill-opacity="0.5"/>
<path d="M265.9,390.4 L269.3,396.0 L262.5,396.0Z" fill="#68aa32" fill-opacity="0.5"/>
<path d="M221.1,399.9 L224.5,405.5 L217.7,405.5Z" fill="#a47ad8" fill-opacity="0.5"/>
<path d="M223.4,394.9 L226.8,400.5 L220.0,400.5Z" fill="#a47ad8" fill-opacity="0.5"/>
<path d="M237.4,394.4 L240.8,400.0 L234.0,400.0Z" fill="#a47ad8" fill-opacity="0.5"/>
<path d="M234.7,387.0 L238.1,392.6 L231.3,392.6Z" fill="#a47ad8" fill-opacity="0.5"/>
<path d="M240.4,386.3 L243.8,391.9 L237.0,391.9Z" fill="#30b9c2" fill-opacity="0.5"/>
<path d="M237.0,382.4 L240.4,388.0 L233.6,388.0Z" fill="#30b9c2" fill-opacity="0.5"/>
<circle cx="253.3" cy="378.9" r="2.6" fill="#68aa32" fill-opacity="0.5" stroke="#68aa32" stroke-opacity="0.25" stroke-width="0.6"/>
<circle cx="255.1" cy="377.7" r="2.6" fill="#68aa32" fill-opacity="0.5" stroke="#68aa32" stroke-opacity="0.25" stroke-width="0.6"/>
<circle cx="253.5" cy="384.5" r="2.6" fill="#68aa32" fill-opacity="0.5" stroke="#68aa32" stroke-opacity="0.25" stroke-width="0.6"/>
<circle cx="257.3" cy="385.6" r="2.6" fill="#68aa32" fill-opacity="0.5" stroke="#68aa32" stroke-opacity="0.25" stroke-width="0.6"/>
<circle cx="259.6" cy="398.1" r="2.6" fill="#68aa32" fill-opacity="0.5" stroke="#68aa32" stroke-opacity="0.25" stroke-width="0.6"/>
<circle cx="261.9" cy="389.0" r="2.6" fill="#68aa32" fill-opacity="0.5" stroke="#68aa32" stroke-opacity="0.25" stroke-width="0.6"/>
<circle cx="266.4" cy="393.6" r="2.6" fill="#68aa32" fill-opacity="0.5" stroke="#68aa32" stroke-opacity="0.25" stroke-width="0.6"/>
<circle cx="261.4" cy="407.1" r="2.6" fill="#68aa32" fill-opacity="0.5" stroke="#68aa32" stroke-opacity="0.25" stroke-width="0.6"/>
<circle cx="266.9" cy="406.0" r="2.6" fill="#68aa32" fill-opacity="0.5" stroke="#68aa32" stroke-opacity="0.25" stroke-width="0.6"/>
<circle cx="266.4" cy="413.5" r="2.6" fill="#68aa32" fill-opacity="0.5" stroke="#68aa32" stroke-opacity="0.25" stroke-width="0.6"/>
<circle cx="268.7" cy="411.7" r="2.6" fill="#68aa32" fill-opacity="0.5" stroke="#68aa32" stroke-opacity="0.25" stroke-width="0.6"/>
<circle cx="272.1" cy="410.5" r="2.6" fill="#68aa32" fill-opacity="0.5" stroke="#68aa32" stroke-opacity="0.25" stroke-width="0.6"/>
<circle cx="276.6" cy="411.7" r="2.6" fill="#68aa32" fill-opacity="0.5" stroke="#68aa32" stroke-opacity="0.25" stroke-width="0.6"/>
<circle cx="279.5" cy="411.7" r="2.6" fill="#68aa32" fill-opacity="0.5" stroke="#68aa32" stroke-opacity="0.25" stroke-width="0.6"/>
<circle cx="280.9" cy="404.9" r="2.6" fill="#68aa32" fill-opacity="0.5" stroke="#68aa32" stroke-opacity="0.25" stroke-width="0.6"/>
<circle cx="285.4" cy="408.7" r="2.6" fill="#68aa32" fill-opacity="0.5" stroke="#68aa32" stroke-opacity="0.25" stroke-width="0.6"/>
<circle cx="290.2" cy="401.5" r="2.6" fill="#68aa32" fill-opacity="0.5" stroke="#68aa32" stroke-opacity="0.25" stroke-width="0.6"/>
<circle cx="296.3" cy="392.4" r="2.6" fill="#68aa32" fill-opacity="0.5" stroke="#68aa32" stroke-opacity="0.25" stroke-width="0.6"/>
<circle cx="296.3" cy="406.7" r="2.6" fill="#68aa32" fill-opacity="0.5" stroke="#68aa32" stroke-opacity="0.25" stroke-width="0.6"/>
<circle cx="303.0" cy="409.4" r="2.6" fill="#68aa32" fill-opacity="0.5" stroke="#68aa32" stroke-opacity="0.25" stroke-width="0.6"/>
<circle cx="304.9" cy="404.4" r="2.6" fill="#68aa32" fill-opacity="0.5" stroke="#68aa32" stroke-opacity="0.25" stroke-width="0.6"/>
<circle cx="301.5" cy="398.1" r="2.6" fill="#68aa32" fill-opacity="0.5" stroke="#68aa32" stroke-opacity="0.25" stroke-width="0.6"/>
<circle cx="304.9" cy="399.2" r="2.6" fill="#68aa32" fill-opacity="0.5" stroke="#68aa32" stroke-opacity="0.25" stroke-width="0.6"/>
<circle cx="309.4" cy="397.0" r="2.6" fill="#68aa32" fill-opacity="0.5" stroke="#68aa32" stroke-opacity="0.25" stroke-width="0.6"/>
<circle cx="306.7" cy="390.8" r="2.6" fill="#68aa32" fill-opacity="0.5" stroke="#68aa32" stroke-opacity="0.25" stroke-width="0.6"/>
<circle cx="311.6" cy="382.2" r="2.6" fill="#68aa32" fill-opacity="0.5" stroke="#68aa32" stroke-opacity="0.25" stroke-width="0.6"/>
<circle cx="312.3" cy="389.0" r="2.6" fill="#68aa32" fill-opacity="0.5" stroke="#68aa32" stroke-opacity="0.25" stroke-width="0.6"/>
<circle cx="258.5" cy="418.0" r="2.6" fill="#68aa32" fill-opacity="0.5" stroke="#68aa32" stroke-opacity="0.25" stroke-width="0.6"/>
<circle cx="264.6" cy="418.9" r="2.6" fill="#68aa32" fill-opacity="0.5" stroke="#68aa32" stroke-opacity="0.25" stroke-width="0.6"/>
<circle cx="267.5" cy="418.4" r="2.6" fill="#68aa32" fill-opacity="0.5" stroke="#68aa32" stroke-opacity="0.25" stroke-width="0.6"/>
<circle cx="279.5" cy="417.3" r="2.6" fill="#68aa32" fill-opacity="0.5" stroke="#68aa32" stroke-opacity="0.25" stroke-width="0.6"/>
<circle cx="256.9" cy="428.2" r="2.6" fill="#68aa32" fill-opacity="0.5" stroke="#68aa32" stroke-opacity="0.25" stroke-width="0.6"/>
<circle cx="270.2" cy="426.8" r="2.6" fill="#68aa32" fill-opacity="0.5" stroke="#68aa32" stroke-opacity="0.25" stroke-width="0.6"/>
<circle cx="273.2" cy="411.7" r="2.6" fill="#68aa32" fill-opacity="0.5" stroke="#68aa32" stroke-opacity="0.25" stroke-width="0.6"/>
<circle cx="265.3" cy="386.3" r="2.6" fill="#ee7563" fill-opacity="0.5" stroke="#ee7563" stroke-opacity="0.25" stroke-width="0.6"/>
<circle cx="258.5" cy="391.3" r="2.6" fill="#ee7563" fill-opacity="0.5" stroke="#ee7563" stroke-opacity="0.25" stroke-width="0.6"/>
<circle cx="272.1" cy="393.6" r="2.6" fill="#ee7563" fill-opacity="0.5" stroke="#ee7563" stroke-opacity="0.25" stroke-width="0.6"/>
<circle cx="277.3" cy="394.7" r="2.6" fill="#ee7563" fill-opacity="0.5" stroke="#ee7563" stroke-opacity="0.25" stroke-width="0.6"/>
<circle cx="285.0" cy="382.2" r="2.6" fill="#ee7563" fill-opacity="0.5" stroke="#ee7563" stroke-opacity="0.25" stroke-width="0.6"/>
<circle cx="249.0" cy="393.6" r="2.6" fill="#ee7563" fill-opacity="0.5" stroke="#ee7563" stroke-opacity="0.25" stroke-width="0.6"/>
<circle cx="243.3" cy="403.7" r="2.6" fill="#a47ad8" fill-opacity="0.5" stroke="#a47ad8" stroke-opacity="0.25" stroke-width="0.6"/>
<circle cx="245.6" cy="396.3" r="2.6" fill="#a47ad8" fill-opacity="0.5" stroke="#a47ad8" stroke-opacity="0.25" stroke-width="0.6"/>
<circle cx="254.0" cy="397.0" r="2.6" fill="#a47ad8" fill-opacity="0.5" stroke="#a47ad8" stroke-opacity="0.25" stroke-width="0.6"/>
<circle cx="263.7" cy="399.2" r="2.6" fill="#a47ad8" fill-opacity="0.5" stroke="#a47ad8" stroke-opacity="0.25" stroke-width="0.6"/>
<circle cx="268.7" cy="399.9" r="2.6" fill="#a47ad8" fill-opacity="0.5" stroke="#a47ad8" stroke-opacity="0.25" stroke-width="0.6"/>
<circle cx="254.0" cy="391.3" r="2.6" fill="#30b9c2" fill-opacity="0.5" stroke="#30b9c2" stroke-opacity="0.25" stroke-width="0.6"/>
<circle cx="266.4" cy="392.4" r="2.6" fill="#30b9c2" fill-opacity="0.5" stroke="#30b9c2" stroke-opacity="0.25" stroke-width="0.6"/>
<rect x="194.7" y="337.3" width="153.2" height="110.9" fill="none" stroke="#333333" stroke-width="1.1" />
<line x1="223.9" y1="448.2" x2="223.9" y2="451.2" stroke="#333333" stroke-width="1.3" />
<text x="223.9" y="456.8" font-size="9.4" text-anchor="middle" fill="#4d4d4d" font-weight="normal" dominant-baseline="central" stroke="#4d4d4d" stroke-width="0.22" letter-spacing="-0.6">-5</text>
<line x1="256.7" y1="448.2" x2="256.7" y2="451.2" stroke="#333333" stroke-width="1.3" />
<text x="256.7" y="456.8" font-size="9.4" text-anchor="middle" fill="#4d4d4d" font-weight="normal" dominant-baseline="central" stroke="#4d4d4d" stroke-width="0.22" letter-spacing="-0.6">0</text>
<line x1="289.5" y1="448.2" x2="289.5" y2="451.2" stroke="#333333" stroke-width="1.3" />
<text x="289.5" y="456.8" font-size="9.4" text-anchor="middle" fill="#4d4d4d" font-weight="normal" dominant-baseline="central" stroke="#4d4d4d" stroke-width="0.22" letter-spacing="-0.6">5</text>
<line x1="322.3" y1="448.2" x2="322.3" y2="451.2" stroke="#333333" stroke-width="1.3" />
<text x="322.3" y="456.8" font-size="9.4" text-anchor="middle" fill="#4d4d4d" font-weight="normal" dominant-baseline="central" stroke="#4d4d4d" stroke-width="0.22" letter-spacing="-0.6">10</text>
<rect x="35.7" y="454.2" width="152.8" height="16.0" fill="#d9d9d9" stroke="#333333" stroke-width="1.1" />
<text x="112.1" y="462.5" font-size="8.4" text-anchor="middle" fill="#1a1a1a" font-weight="normal" dominant-baseline="central" stroke="#1a1a1a" stroke-width="0.22" >Hot</text>
<rect x="35.7" y="470.2" width="152.8" height="111.8" fill="#fff" stroke="none" stroke-width="1" />
<line x1="48.3" y1="470.2" x2="48.3" y2="582.0" stroke="#ebebeb" stroke-width="1" />
<line x1="64.8" y1="470.2" x2="64.8" y2="582.0" stroke="#ebebeb" stroke-width="1.4" />
<line x1="81.3" y1="470.2" x2="81.3" y2="582.0" stroke="#ebebeb" stroke-width="1" />
<line x1="97.8" y1="470.2" x2="97.8" y2="582.0" stroke="#ebebeb" stroke-width="1.4" />
<line x1="114.3" y1="470.2" x2="114.3" y2="582.0" stroke="#ebebeb" stroke-width="1" />
<line x1="130.8" y1="470.2" x2="130.8" y2="582.0" stroke="#ebebeb" stroke-width="1.4" />
<line x1="147.3" y1="470.2" x2="147.3" y2="582.0" stroke="#ebebeb" stroke-width="1" />
<line x1="163.8" y1="470.2" x2="163.8" y2="582.0" stroke="#ebebeb" stroke-width="1.4" />
<line x1="180.3" y1="470.2" x2="180.3" y2="582.0" stroke="#ebebeb" stroke-width="1" />
<line x1="35.7" y1="579.0" x2="188.5" y2="579.0" stroke="#ebebeb" stroke-width="1" />
<line x1="35.7" y1="562.6" x2="188.5" y2="562.6" stroke="#ebebeb" stroke-width="1.4" />
<line x1="35.7" y1="546.2" x2="188.5" y2="546.2" stroke="#ebebeb" stroke-width="1" />
<line x1="35.7" y1="529.8" x2="188.5" y2="529.8" stroke="#ebebeb" stroke-width="1.4" />
<line x1="35.7" y1="513.4" x2="188.5" y2="513.4" stroke="#ebebeb" stroke-width="1" />
<line x1="35.7" y1="497.0" x2="188.5" y2="497.0" stroke="#ebebeb" stroke-width="1.4" />
<line x1="35.7" y1="480.6" x2="188.5" y2="480.6" stroke="#ebebeb" stroke-width="1" />
<path d="M71.2,509.8 L74.6,515.4 L67.8,515.4Z" fill="#ee7563" fill-opacity="0.5"/>
<path d="M78.4,505.3 L81.8,510.9 L75.0,510.9Z" fill="#ee7563" fill-opacity="0.5"/>
<path d="M88.2,507.5 L91.6,513.1 L84.8,513.1Z" fill="#ee7563" fill-opacity="0.5"/>
<path d="M70.7,517.0 L74.1,522.6 L67.3,522.6Z" fill="#ee7563" fill-opacity="0.5"/>
<path d="M61.7,521.1 L65.1,526.7 L58.3,526.7Z" fill="#ee7563" fill-opacity="0.5"/>
<path d="M62.1,523.4 L65.5,529.0 L58.7,529.0Z" fill="#ee7563" fill-opacity="0.5"/>
<path d="M81.4,515.4 L84.8,521.0 L78.0,521.0Z" fill="#ee7563" fill-opacity="0.5"/>
<path d="M88.2,512.0 L91.6,517.6 L84.8,517.6Z" fill="#ee7563" fill-opacity="0.5"/>
<path d="M182.1,471.3 L185.5,476.9 L178.7,476.9Z" fill="#68aa32" fill-opacity="0.5"/>
<path d="M151.5,484.4 L154.9,490.0 L148.1,490.0Z" fill="#68aa32" fill-opacity="0.5"/>
<path d="M158.3,486.7 L161.7,492.3 L154.9,492.3Z" fill="#68aa32" fill-opacity="0.5"/>
<path d="M169.8,484.0 L173.2,489.6 L166.4,489.6Z" fill="#68aa32" fill-opacity="0.5"/>
<path d="M135.2,491.7 L138.6,497.3 L131.8,497.3Z" fill="#68aa32" fill-opacity="0.5"/>
<path d="M134.5,496.2 L137.9,501.8 L131.1,501.8Z" fill="#68aa32" fill-opacity="0.5"/>
<path d="M133.4,498.9 L136.8,504.5 L130.0,504.5Z" fill="#68aa32" fill-opacity="0.5"/>
<path d="M148.8,495.8 L152.2,501.4 L145.4,501.4Z" fill="#68aa32" fill-opacity="0.5"/>
<path d="M127.3,511.6 L130.7,517.2 L123.9,517.2Z" fill="#68aa32" fill-opacity="0.5"/>
<path d="M114.2,513.2 L117.6,518.8 L110.8,518.8Z" fill="#68aa32" fill-opacity="0.5"/>
<path d="M113.1,511.6 L116.5,517.2 L109.7,517.2Z" fill="#68aa32" fill-opacity="0.5"/>
<path d="M101.7,507.5 L105.1,513.1 L98.3,513.1Z" fill="#68aa32" fill-opacity="0.5"/>
<path d="M96.1,509.8 L99.5,515.4 L92.7,515.4Z" fill="#68aa32" fill-opacity="0.5"/>
<path d="M107.4,510.9 L110.8,516.5 L104.0,516.5Z" fill="#68aa32" fill-opacity="0.5"/>
<path d="M93.8,515.4 L97.2,521.0 L90.4,521.0Z" fill="#68aa32" fill-opacity="0.5"/>
<path d="M84.8,518.8 L88.2,524.4 L81.4,524.4Z" fill="#68aa32" fill-opacity="0.5"/>
<path d="M75.7,521.1 L79.1,526.7 L72.3,526.7Z" fill="#68aa32" fill-opacity="0.5"/>
<path d="M64.4,521.1 L67.8,526.7 L61.0,526.7Z" fill="#68aa32" fill-opacity="0.5"/>
<path d="M65.5,531.3 L68.9,536.9 L62.1,536.9Z" fill="#68aa32" fill-opacity="0.5"/>
<path d="M76.9,536.9 L80.3,542.5 L73.5,542.5Z" fill="#68aa32" fill-opacity="0.5"/>
<path d="M79.1,540.3 L82.5,545.9 L75.7,545.9Z" fill="#68aa32" fill-opacity="0.5"/>
<path d="M68.3,545.5 L71.7,551.1 L64.9,551.1Z" fill="#68aa32" fill-opacity="0.5"/>
<path d="M79.1,549.4 L82.5,555.0 L75.7,555.0Z" fill="#68aa32" fill-opacity="0.5"/>
<path d="M92.0,534.7 L95.4,540.3 L88.6,540.3Z" fill="#68aa32" fill-opacity="0.5"/>
<path d="M102.9,520.0 L106.3,525.6 L99.5,525.6Z" fill="#68aa32" fill-opacity="0.5"/>
<path d="M107.9,521.1 L111.3,526.7 L104.5,526.7Z" fill="#68aa32" fill-opacity="0.5"/>
<path d="M118.7,517.7 L122.1,523.3 L115.3,523.3Z" fill="#68aa32" fill-opacity="0.5"/>
<path d="M122.1,521.1 L125.5,526.7 L118.7,526.7Z" fill="#68aa32" fill-opacity="0.5"/>
<path d="M111.9,530.6 L115.3,536.2 L108.5,536.2Z" fill="#68aa32" fill-opacity="0.5"/>
<path d="M134.5,532.4 L137.9,538.0 L131.1,538.0Z" fill="#68aa32" fill-opacity="0.5"/>
<path d="M89.3,526.1 L92.7,531.7 L85.9,531.7Z" fill="#68aa32" fill-opacity="0.5"/>
<path d="M114.6,502.5 L118.0,508.1 L111.2,508.1Z" fill="#30b9c2" fill-opacity="0.5"/>
<path d="M91.6,506.4 L95.0,512.0 L88.2,512.0Z" fill="#30b9c2" fill-opacity="0.5"/>
<path d="M77.5,516.1 L80.9,521.7 L74.1,521.7Z" fill="#30b9c2" fill-opacity="0.5"/>
<path d="M73.0,526.1 L76.4,531.7 L69.6,531.7Z" fill="#a47ad8" fill-opacity="0.5"/>
<path d="M75.3,526.8 L78.7,532.4 L71.9,532.4Z" fill="#a47ad8" fill-opacity="0.5"/>
<path d="M70.7,529.7 L74.1,535.3 L67.3,535.3Z" fill="#a47ad8" fill-opacity="0.5"/>
<path d="M89.3,520.0 L92.7,525.6 L85.9,525.6Z" fill="#a47ad8" fill-opacity="0.5"/>
<path d="M83.6,516.1 L87.0,521.7 L80.2,521.7Z" fill="#a47ad8" fill-opacity="0.5"/>
<circle cx="123.9" cy="501.2" r="2.6" fill="#68aa32" fill-opacity="0.5" stroke="#68aa32" stroke-opacity="0.25" stroke-width="0.6"/>
<circle cx="95.0" cy="513.0" r="2.6" fill="#68aa32" fill-opacity="0.5" stroke="#68aa32" stroke-opacity="0.25" stroke-width="0.6"/>
<circle cx="100.6" cy="513.0" r="2.6" fill="#68aa32" fill-opacity="0.5" stroke="#68aa32" stroke-opacity="0.25" stroke-width="0.6"/>
<circle cx="119.8" cy="531.5" r="2.6" fill="#68aa32" fill-opacity="0.5" stroke="#68aa32" stroke-opacity="0.25" stroke-width="0.6"/>
<circle cx="121.0" cy="535.6" r="2.6" fill="#68aa32" fill-opacity="0.5" stroke="#68aa32" stroke-opacity="0.25" stroke-width="0.6"/>
<circle cx="136.4" cy="541.3" r="2.6" fill="#68aa32" fill-opacity="0.5" stroke="#68aa32" stroke-opacity="0.25" stroke-width="0.6"/>
<circle cx="137.3" cy="545.3" r="2.6" fill="#68aa32" fill-opacity="0.5" stroke="#68aa32" stroke-opacity="0.25" stroke-width="0.6"/>
<circle cx="144.3" cy="536.3" r="2.6" fill="#68aa32" fill-opacity="0.5" stroke="#68aa32" stroke-opacity="0.25" stroke-width="0.6"/>
<circle cx="146.3" cy="533.8" r="2.6" fill="#68aa32" fill-opacity="0.5" stroke="#68aa32" stroke-opacity="0.25" stroke-width="0.6"/>
<circle cx="149.3" cy="541.9" r="2.6" fill="#68aa32" fill-opacity="0.5" stroke="#68aa32" stroke-opacity="0.25" stroke-width="0.6"/>
<circle cx="147.7" cy="546.9" r="2.6" fill="#68aa32" fill-opacity="0.5" stroke="#68aa32" stroke-opacity="0.25" stroke-width="0.6"/>
<circle cx="153.8" cy="535.6" r="2.6" fill="#68aa32" fill-opacity="0.5" stroke="#68aa32" stroke-opacity="0.25" stroke-width="0.6"/>
<circle cx="165.3" cy="531.8" r="2.6" fill="#68aa32" fill-opacity="0.5" stroke="#68aa32" stroke-opacity="0.25" stroke-width="0.6"/>
<circle cx="111.9" cy="546.9" r="2.6" fill="#68aa32" fill-opacity="0.5" stroke="#68aa32" stroke-opacity="0.25" stroke-width="0.6"/>
<circle cx="117.8" cy="546.5" r="2.6" fill="#68aa32" fill-opacity="0.5" stroke="#68aa32" stroke-opacity="0.25" stroke-width="0.6"/>
<circle cx="118.3" cy="553.3" r="2.6" fill="#68aa32" fill-opacity="0.5" stroke="#68aa32" stroke-opacity="0.25" stroke-width="0.6"/>
<circle cx="123.2" cy="549.6" r="2.6" fill="#68aa32" fill-opacity="0.5" stroke="#68aa32" stroke-opacity="0.25" stroke-width="0.6"/>
<circle cx="128.9" cy="551.4" r="2.6" fill="#68aa32" fill-opacity="0.5" stroke="#68aa32" stroke-opacity="0.25" stroke-width="0.6"/>
<circle cx="105.1" cy="553.7" r="2.6" fill="#68aa32" fill-opacity="0.5" stroke="#68aa32" stroke-opacity="0.25" stroke-width="0.6"/>
<circle cx="107.4" cy="551.4" r="2.6" fill="#68aa32" fill-opacity="0.5" stroke="#68aa32" stroke-opacity="0.25" stroke-width="0.6"/>
<circle cx="110.8" cy="556.0" r="2.6" fill="#68aa32" fill-opacity="0.5" stroke="#68aa32" stroke-opacity="0.25" stroke-width="0.6"/>
<circle cx="113.1" cy="557.8" r="2.6" fill="#68aa32" fill-opacity="0.5" stroke="#68aa32" stroke-opacity="0.25" stroke-width="0.6"/>
<circle cx="105.1" cy="558.7" r="2.6" fill="#68aa32" fill-opacity="0.5" stroke="#68aa32" stroke-opacity="0.25" stroke-width="0.6"/>
<circle cx="109.7" cy="561.6" r="2.6" fill="#68aa32" fill-opacity="0.5" stroke="#68aa32" stroke-opacity="0.25" stroke-width="0.6"/>
<circle cx="118.7" cy="562.3" r="2.6" fill="#68aa32" fill-opacity="0.5" stroke="#68aa32" stroke-opacity="0.25" stroke-width="0.6"/>
<circle cx="96.5" cy="569.5" r="2.6" fill="#68aa32" fill-opacity="0.5" stroke="#68aa32" stroke-opacity="0.25" stroke-width="0.6"/>
<circle cx="103.6" cy="573.4" r="2.6" fill="#68aa32" fill-opacity="0.5" stroke="#68aa32" stroke-opacity="0.25" stroke-width="0.6"/>
<circle cx="113.1" cy="569.5" r="2.6" fill="#68aa32" fill-opacity="0.5" stroke="#68aa32" stroke-opacity="0.25" stroke-width="0.6"/>
<circle cx="114.2" cy="572.9" r="2.6" fill="#68aa32" fill-opacity="0.5" stroke="#68aa32" stroke-opacity="0.25" stroke-width="0.6"/>
<circle cx="91.6" cy="574.5" r="2.6" fill="#68aa32" fill-opacity="0.5" stroke="#68aa32" stroke-opacity="0.25" stroke-width="0.6"/>
<circle cx="93.4" cy="572.9" r="2.6" fill="#68aa32" fill-opacity="0.5" stroke="#68aa32" stroke-opacity="0.25" stroke-width="0.6"/>
<circle cx="113.7" cy="571.1" r="2.6" fill="#68aa32" fill-opacity="0.5" stroke="#68aa32" stroke-opacity="0.25" stroke-width="0.6"/>
<circle cx="116.0" cy="540.1" r="2.6" fill="#68aa32" fill-opacity="0.5" stroke="#68aa32" stroke-opacity="0.25" stroke-width="0.6"/>
<circle cx="83.2" cy="549.2" r="2.6" fill="#ee7563" fill-opacity="0.5" stroke="#ee7563" stroke-opacity="0.25" stroke-width="0.6"/>
<circle cx="90.4" cy="548.1" r="2.6" fill="#ee7563" fill-opacity="0.5" stroke="#ee7563" stroke-opacity="0.25" stroke-width="0.6"/>
<circle cx="111.9" cy="525.4" r="2.6" fill="#ee7563" fill-opacity="0.5" stroke="#ee7563" stroke-opacity="0.25" stroke-width="0.6"/>
<circle cx="115.3" cy="526.6" r="2.6" fill="#ee7563" fill-opacity="0.5" stroke="#ee7563" stroke-opacity="0.25" stroke-width="0.6"/>
<circle cx="119.2" cy="527.0" r="2.6" fill="#ee7563" fill-opacity="0.5" stroke="#ee7563" stroke-opacity="0.25" stroke-width="0.6"/>
<circle cx="89.3" cy="526.1" r="2.6" fill="#ee7563" fill-opacity="0.5" stroke="#ee7563" stroke-opacity="0.25" stroke-width="0.6"/>
<circle cx="96.5" cy="519.8" r="2.6" fill="#30b9c2" fill-opacity="0.5" stroke="#30b9c2" stroke-opacity="0.25" stroke-width="0.6"/>
<circle cx="93.4" cy="528.4" r="2.6" fill="#30b9c2" fill-opacity="0.5" stroke="#30b9c2" stroke-opacity="0.25" stroke-width="0.6"/>
<circle cx="96.5" cy="529.3" r="2.6" fill="#30b9c2" fill-opacity="0.5" stroke="#30b9c2" stroke-opacity="0.25" stroke-width="0.6"/>
<circle cx="123.2" cy="537.9" r="2.6" fill="#30b9c2" fill-opacity="0.5" stroke="#30b9c2" stroke-opacity="0.25" stroke-width="0.6"/>
<circle cx="96.5" cy="535.6" r="2.6" fill="#a47ad8" fill-opacity="0.5" stroke="#a47ad8" stroke-opacity="0.25" stroke-width="0.6"/>
<circle cx="99.5" cy="532.9" r="2.6" fill="#a47ad8" fill-opacity="0.5" stroke="#a47ad8" stroke-opacity="0.25" stroke-width="0.6"/>
<circle cx="104.0" cy="540.1" r="2.6" fill="#a47ad8" fill-opacity="0.5" stroke="#a47ad8" stroke-opacity="0.25" stroke-width="0.6"/>
<circle cx="106.9" cy="536.1" r="2.6" fill="#a47ad8" fill-opacity="0.5" stroke="#a47ad8" stroke-opacity="0.25" stroke-width="0.6"/>
<circle cx="102.4" cy="550.8" r="2.6" fill="#a47ad8" fill-opacity="0.5" stroke="#a47ad8" stroke-opacity="0.25" stroke-width="0.6"/>
<circle cx="122.1" cy="537.4" r="2.6" fill="#a47ad8" fill-opacity="0.5" stroke="#a47ad8" stroke-opacity="0.25" stroke-width="0.6"/>
<rect x="35.7" y="470.2" width="152.8" height="111.8" fill="none" stroke="#333333" stroke-width="1.1" />
<line x1="32.7" y1="497.0" x2="35.7" y2="497.0" stroke="#333333" stroke-width="1.3" />
<text x="31.4" y="497.0" font-size="9.4" text-anchor="end" fill="#4d4d4d" font-weight="normal" dominant-baseline="central" stroke="#4d4d4d" stroke-width="0.22" letter-spacing="-0.6">4</text>
<line x1="32.7" y1="529.8" x2="35.7" y2="529.8" stroke="#333333" stroke-width="1.3" />
<text x="31.4" y="529.8" font-size="9.4" text-anchor="end" fill="#4d4d4d" font-weight="normal" dominant-baseline="central" stroke="#4d4d4d" stroke-width="0.22" letter-spacing="-0.6">0</text>
<line x1="32.7" y1="562.6" x2="35.7" y2="562.6" stroke="#333333" stroke-width="1.3" />
<text x="31.4" y="562.6" font-size="9.4" text-anchor="end" fill="#4d4d4d" font-weight="normal" dominant-baseline="central" stroke="#4d4d4d" stroke-width="0.22" letter-spacing="-0.6">-4</text>
<line x1="64.8" y1="582.0" x2="64.8" y2="585.0" stroke="#333333" stroke-width="1.3" />
<text x="64.8" y="590.6" font-size="9.4" text-anchor="middle" fill="#4d4d4d" font-weight="normal" dominant-baseline="central" stroke="#4d4d4d" stroke-width="0.22" letter-spacing="-0.6">-5</text>
<line x1="97.8" y1="582.0" x2="97.8" y2="585.0" stroke="#333333" stroke-width="1.3" />
<text x="97.8" y="590.6" font-size="9.4" text-anchor="middle" fill="#4d4d4d" font-weight="normal" dominant-baseline="central" stroke="#4d4d4d" stroke-width="0.22" letter-spacing="-0.6">0</text>
<line x1="130.8" y1="582.0" x2="130.8" y2="585.0" stroke="#333333" stroke-width="1.3" />
<text x="130.8" y="590.6" font-size="9.4" text-anchor="middle" fill="#4d4d4d" font-weight="normal" dominant-baseline="central" stroke="#4d4d4d" stroke-width="0.22" letter-spacing="-0.6">5</text>
<line x1="163.8" y1="582.0" x2="163.8" y2="585.0" stroke="#333333" stroke-width="1.3" />
<text x="163.8" y="590.6" font-size="9.4" text-anchor="middle" fill="#4d4d4d" font-weight="normal" dominant-baseline="central" stroke="#4d4d4d" stroke-width="0.22" letter-spacing="-0.6">10</text>
<text x="191.7" y="601.6" font-size="10.7" text-anchor="middle" fill="#000" font-weight="normal" dominant-baseline="central" stroke="#000" stroke-width="0.22" >PCA1: (Variation Explained 49.5%)</text>
<text x="0.0" y="0.0" font-size="10.65" text-anchor="middle" fill="#000" font-weight="normal" dominant-baseline="central" stroke="#000" stroke-width="0.22" transform="translate(13.7,459.6) rotate(-90)">PCA2: (Variation Explained 10.1%)</text>
<text x="239.6" y="471.4" font-size="13.2" text-anchor="start" fill="#000" font-weight="normal" dominant-baseline="central" stroke="#000" stroke-width="0.22" >Segment</text>
<circle cx="244" cy="487.6" r="3.4" fill="#666"/>
<path d="M244,496.6 L248.2,503.4 L239.8,503.4Z" fill="#666"/>
<text x="261.5" y="487.6" font-size="10.5" text-anchor="start" fill="#000" font-weight="normal" dominant-baseline="central" stroke="#000" stroke-width="0.22" >PanCK neg</text>
<text x="261.5" y="500.6" font-size="10.5" text-anchor="start" fill="#000" font-weight="normal" dominant-baseline="central" stroke="#000" stroke-width="0.22" >PanCK pos</text>
<text x="240.9" y="518.7" font-size="12.9" text-anchor="start" fill="#000" font-weight="normal" dominant-baseline="central" stroke="#000" stroke-width="0.22" >Tissue</text>
<circle cx="244.6" cy="538.3" r="3.4" fill="#ee7563" fill-opacity="0.5" stroke="#ee7563" stroke-opacity="0.3" stroke-width="0.7"/>
<text x="262.6" y="538.3" font-size="10.5" text-anchor="start" fill="#000" font-weight="normal" dominant-baseline="central" stroke="#000" stroke-width="0.22" >Brain</text>
<circle cx="244.6" cy="550.8" r="3.4" fill="#68aa32" fill-opacity="0.5" stroke="#68aa32" stroke-opacity="0.3" stroke-width="0.7"/>
<text x="262.6" y="550.8" font-size="10.5" text-anchor="start" fill="#000" font-weight="normal" dominant-baseline="central" stroke="#000" stroke-width="0.22" >Breast</text>
<circle cx="244.6" cy="563.2" r="3.4" fill="#30b9c2" fill-opacity="0.5" stroke="#30b9c2" stroke-opacity="0.3" stroke-width="0.7"/>
<text x="262.6" y="563.2" font-size="10.5" text-anchor="start" fill="#000" font-weight="normal" dominant-baseline="central" stroke="#000" stroke-width="0.22" >Lung</text>
<circle cx="244.6" cy="575.6" r="3.4" fill="#a47ad8" fill-opacity="0.5" stroke="#a47ad8" stroke-opacity="0.3" stroke-width="0.7"/>
<text x="262.6" y="575.6" font-size="10.5" text-anchor="start" fill="#000" font-weight="normal" dominant-baseline="central" stroke="#000" stroke-width="0.22" >Soft Tissue</text>
<rect x="41.5" y="644.5" width="151.2" height="17.5" fill="#d9d9d9" stroke="#333333" stroke-width="1.1" />
<text x="117.1" y="653.5" font-size="9" text-anchor="middle" fill="#1a1a1a" font-weight="normal" dominant-baseline="central" stroke="#1a1a1a" stroke-width="0.22" >CD3</text>
<rect x="41.5" y="662.0" width="151.2" height="168.2" fill="#fff" stroke="none" stroke-width="1" />
<line x1="41.5" y1="670.6" x2="192.7" y2="670.6" stroke="#ebebeb" stroke-width="1.4" />
<line x1="41.5" y1="684.2" x2="192.7" y2="684.2" stroke="#ebebeb" stroke-width="1" />
<line x1="41.5" y1="697.9" x2="192.7" y2="697.9" stroke="#ebebeb" stroke-width="1.4" />
<line x1="41.5" y1="711.6" x2="192.7" y2="711.6" stroke="#ebebeb" stroke-width="1" />
<line x1="41.5" y1="725.2" x2="192.7" y2="725.2" stroke="#ebebeb" stroke-width="1.4" />
<line x1="41.5" y1="738.9" x2="192.7" y2="738.9" stroke="#ebebeb" stroke-width="1" />
<line x1="41.5" y1="752.5" x2="192.7" y2="752.5" stroke="#ebebeb" stroke-width="1.4" />
<line x1="41.5" y1="766.1" x2="192.7" y2="766.1" stroke="#ebebeb" stroke-width="1" />
<line x1="41.5" y1="779.8" x2="192.7" y2="779.8" stroke="#ebebeb" stroke-width="1.4" />
<line x1="41.5" y1="793.5" x2="192.7" y2="793.5" stroke="#ebebeb" stroke-width="1" />
<line x1="41.5" y1="807.1" x2="192.7" y2="807.1" stroke="#ebebeb" stroke-width="1.4" />
<line x1="41.5" y1="820.8" x2="192.7" y2="820.8" stroke="#ebebeb" stroke-width="1" />
<line x1="62.8" y1="662.0" x2="62.8" y2="830.2" stroke="#ebebeb" stroke-width="1.8" />
<line x1="99.0" y1="662.0" x2="99.0" y2="830.2" stroke="#ebebeb" stroke-width="1.8" />
<line x1="134.9" y1="662.0" x2="134.9" y2="830.2" stroke="#ebebeb" stroke-width="1.8" />
<line x1="170.8" y1="662.0" x2="170.8" y2="830.2" stroke="#ebebeb" stroke-width="1.8" />
<circle cx="75.2" cy="781.1" r="3.0" fill="#68aa32" fill-opacity="0.36" stroke="#68aa32" stroke-opacity="0.25" stroke-width="0.6"/>
<circle cx="70.4" cy="683.4" r="3.0" fill="#68aa32" fill-opacity="0.36" stroke="#68aa32" stroke-opacity="0.25" stroke-width="0.6"/>
<circle cx="53.1" cy="805.3" r="3.0" fill="#68aa32" fill-opacity="0.36" stroke="#68aa32" stroke-opacity="0.25" stroke-width="0.6"/>
<circle cx="58.8" cy="807.1" r="3.0" fill="#68aa32" fill-opacity="0.36" stroke="#68aa32" stroke-opacity="0.25" stroke-width="0.6"/>
<circle cx="74.3" cy="698.1" r="3.0" fill="#68aa32" fill-opacity="0.36" stroke="#68aa32" stroke-opacity="0.25" stroke-width="0.6"/>
<circle cx="75.0" cy="763.4" r="3.0" fill="#68aa32" fill-opacity="0.36" stroke="#68aa32" stroke-opacity="0.25" stroke-width="0.6"/>
<circle cx="57.2" cy="747.0" r="3.0" fill="#68aa32" fill-opacity="0.36" stroke="#68aa32" stroke-opacity="0.25" stroke-width="0.6"/>
<circle cx="68.7" cy="684.2" r="3.0" fill="#68aa32" fill-opacity="0.36" stroke="#68aa32" stroke-opacity="0.25" stroke-width="0.6"/>
<circle cx="65.2" cy="778.0" r="3.0" fill="#68aa32" fill-opacity="0.36" stroke="#68aa32" stroke-opacity="0.25" stroke-width="0.6"/>
<circle cx="53.6" cy="733.7" r="3.0" fill="#68aa32" fill-opacity="0.36" stroke="#68aa32" stroke-opacity="0.25" stroke-width="0.6"/>
<circle cx="61.4" cy="744.1" r="3.0" fill="#68aa32" fill-opacity="0.36" stroke="#68aa32" stroke-opacity="0.25" stroke-width="0.6"/>
<circle cx="74.1" cy="687.4" r="3.0" fill="#68aa32" fill-opacity="0.36" stroke="#68aa32" stroke-opacity="0.25" stroke-width="0.6"/>
<circle cx="57.9" cy="712.1" r="3.0" fill="#68aa32" fill-opacity="0.36" stroke="#68aa32" stroke-opacity="0.25" stroke-width="0.6"/>
<circle cx="52.0" cy="679.9" r="3.0" fill="#68aa32" fill-opacity="0.36" stroke="#68aa32" stroke-opacity="0.25" stroke-width="0.6"/>
<circle cx="67.9" cy="742.1" r="3.0" fill="#68aa32" fill-opacity="0.36" stroke="#68aa32" stroke-opacity="0.25" stroke-width="0.6"/>
<circle cx="59.1" cy="741.9" r="3.0" fill="#68aa32" fill-opacity="0.36" stroke="#68aa32" stroke-opacity="0.25" stroke-width="0.6"/>
<circle cx="56.4" cy="789.2" r="3.0" fill="#68aa32" fill-opacity="0.36" stroke="#68aa32" stroke-opacity="0.25" stroke-width="0.6"/>
<circle cx="62.6" cy="759.2" r="3.0" fill="#68aa32" fill-opacity="0.36" stroke="#68aa32" stroke-opacity="0.25" stroke-width="0.6"/>
<circle cx="54.9" cy="776.0" r="3.0" fill="#68aa32" fill-opacity="0.36" stroke="#68aa32" stroke-opacity="0.25" stroke-width="0.6"/>
<circle cx="50.9" cy="731.5" r="3.0" fill="#68aa32" fill-opacity="0.36" stroke="#68aa32" stroke-opacity="0.25" stroke-width="0.6"/>
<circle cx="57.9" cy="779.2" r="3.0" fill="#68aa32" fill-opacity="0.36" stroke="#68aa32" stroke-opacity="0.25" stroke-width="0.6"/>
<circle cx="57.7" cy="738.2" r="3.0" fill="#68aa32" fill-opacity="0.36" stroke="#68aa32" stroke-opacity="0.25" stroke-width="0.6"/>
<circle cx="62.9" cy="725.7" r="3.0" fill="#68aa32" fill-opacity="0.36" stroke="#68aa32" stroke-opacity="0.25" stroke-width="0.6"/>
<circle cx="73.7" cy="715.2" r="3.0" fill="#68aa32" fill-opacity="0.36" stroke="#68aa32" stroke-opacity="0.25" stroke-width="0.6"/>
<circle cx="55.7" cy="784.7" r="3.0" fill="#68aa32" fill-opacity="0.36" stroke="#68aa32" stroke-opacity="0.25" stroke-width="0.6"/>
<circle cx="72.7" cy="764.2" r="3.0" fill="#68aa32" fill-opacity="0.36" stroke="#68aa32" stroke-opacity="0.25" stroke-width="0.6"/>
<circle cx="66.8" cy="765.9" r="3.0" fill="#68aa32" fill-opacity="0.36" stroke="#68aa32" stroke-opacity="0.25" stroke-width="0.6"/>
<circle cx="55.9" cy="736.0" r="3.0" fill="#68aa32" fill-opacity="0.36" stroke="#68aa32" stroke-opacity="0.25" stroke-width="0.6"/>
<circle cx="57.1" cy="746.9" r="3.0" fill="#68aa32" fill-opacity="0.36" stroke="#68aa32" stroke-opacity="0.25" stroke-width="0.6"/>
<circle cx="51.7" cy="798.0" r="3.0" fill="#68aa32" fill-opacity="0.36" stroke="#68aa32" stroke-opacity="0.25" stroke-width="0.6"/>
<circle cx="57.6" cy="740.2" r="3.0" fill="#68aa32" fill-opacity="0.36" stroke="#68aa32" stroke-opacity="0.25" stroke-width="0.6"/>
<circle cx="50.9" cy="718.3" r="3.0" fill="#68aa32" fill-opacity="0.36" stroke="#68aa32" stroke-opacity="0.25" stroke-width="0.6"/>
<circle cx="75.2" cy="691.3" r="3.0" fill="#68aa32" fill-opacity="0.36" stroke="#68aa32" stroke-opacity="0.25" stroke-width="0.6"/>
<circle cx="75.2" cy="723.5" r="3.0" fill="#68aa32" fill-opacity="0.36" stroke="#68aa32" stroke-opacity="0.25" stroke-width="0.6"/>
<circle cx="71.4" cy="753.1" r="3.0" fill="#68aa32" fill-opacity="0.36" stroke="#68aa32" stroke-opacity="0.25" stroke-width="0.6"/>
<circle cx="58.8" cy="693.0" r="3.0" fill="#68aa32" fill-opacity="0.36" stroke="#68aa32" stroke-opacity="0.25" stroke-width="0.6"/>
<circle cx="55.7" cy="693.0" r="3.0" fill="#68aa32" fill-opacity="0.36" stroke="#68aa32" stroke-opacity="0.25" stroke-width="0.6"/>
<circle cx="55.7" cy="761.0" r="3.0" fill="#68aa32" fill-opacity="0.36" stroke="#68aa32" stroke-opacity="0.25" stroke-width="0.6"/>
<circle cx="57.3" cy="727.8" r="3.0" fill="#68aa32" fill-opacity="0.36" stroke="#68aa32" stroke-opacity="0.25" stroke-width="0.6"/>
<circle cx="72.7" cy="696.5" r="3.0" fill="#68aa32" fill-opacity="0.36" stroke="#68aa32" stroke-opacity="0.25" stroke-width="0.6"/>
<circle cx="55.7" cy="705.5" r="3.0" fill="#68aa32" fill-opacity="0.36" stroke="#68aa32" stroke-opacity="0.25" stroke-width="0.6"/>
<circle cx="71.1" cy="713.8" r="3.0" fill="#68aa32" fill-opacity="0.36" stroke="#68aa32" stroke-opacity="0.25" stroke-width="0.6"/>
<circle cx="70.2" cy="741.1" r="3.0" fill="#68aa32" fill-opacity="0.36" stroke="#68aa32" stroke-opacity="0.25" stroke-width="0.6"/>
<circle cx="58.9" cy="753.7" r="3.0" fill="#68aa32" fill-opacity="0.36" stroke="#68aa32" stroke-opacity="0.25" stroke-width="0.6"/>
<circle cx="68.6" cy="810.1" r="3.0" fill="#68aa32" fill-opacity="0.36" stroke="#68aa32" stroke-opacity="0.25" stroke-width="0.6"/>
<circle cx="53.0" cy="742.3" r="3.0" fill="#68aa32" fill-opacity="0.36" stroke="#68aa32" stroke-opacity="0.25" stroke-width="0.6"/>
<circle cx="59.6" cy="772.1" r="3.0" fill="#68aa32" fill-opacity="0.36" stroke="#68aa32" stroke-opacity="0.25" stroke-width="0.6"/>
<circle cx="58.2" cy="806.2" r="3.0" fill="#68aa32" fill-opacity="0.36" stroke="#68aa32" stroke-opacity="0.25" stroke-width="0.6"/>
<circle cx="51.5" cy="758.1" r="3.0" fill="#68aa32" fill-opacity="0.36" stroke="#68aa32" stroke-opacity="0.25" stroke-width="0.6"/>
<circle cx="59.4" cy="789.2" r="3.0" fill="#68aa32" fill-opacity="0.36" stroke="#68aa32" stroke-opacity="0.25" stroke-width="0.6"/>
<circle cx="70.4" cy="757.7" r="3.0" fill="#68aa32" fill-opacity="0.36" stroke="#68aa32" stroke-opacity="0.25" stroke-width="0.6"/>
<circle cx="66.1" cy="691.2" r="3.0" fill="#68aa32" fill-opacity="0.36" stroke="#68aa32" stroke-opacity="0.25" stroke-width="0.6"/>
<circle cx="67.1" cy="707.0" r="3.0" fill="#68aa32" fill-opacity="0.36" stroke="#68aa32" stroke-opacity="0.25" stroke-width="0.6"/>
<circle cx="67.1" cy="698.5" r="3.0" fill="#68aa32" fill-opacity="0.36" stroke="#68aa32" stroke-opacity="0.25" stroke-width="0.6"/>
<circle cx="68.9" cy="804.4" r="3.0" fill="#68aa32" fill-opacity="0.36" stroke="#68aa32" stroke-opacity="0.25" stroke-width="0.6"/>
<circle cx="53.0" cy="759.6" r="3.0" fill="#68aa32" fill-opacity="0.36" stroke="#68aa32" stroke-opacity="0.25" stroke-width="0.6"/>
<circle cx="59.0" cy="776.0" r="3.0" fill="#68aa32" fill-opacity="0.36" stroke="#68aa32" stroke-opacity="0.25" stroke-width="0.6"/>
<circle cx="58.8" cy="810.7" r="3.0" fill="#68aa32" fill-opacity="0.36" stroke="#68aa32" stroke-opacity="0.25" stroke-width="0.6"/>
<circle cx="57.2" cy="810.3" r="3.0" fill="#68aa32" fill-opacity="0.36" stroke="#68aa32" stroke-opacity="0.25" stroke-width="0.6"/>
<circle cx="53.5" cy="707.7" r="3.0" fill="#68aa32" fill-opacity="0.36" stroke="#68aa32" stroke-opacity="0.25" stroke-width="0.6"/>
<circle cx="69.8" cy="723.2" r="3.0" fill="#68aa32" fill-opacity="0.36" stroke="#68aa32" stroke-opacity="0.25" stroke-width="0.6"/>
<circle cx="52.7" cy="763.3" r="3.0" fill="#68aa32" fill-opacity="0.36" stroke="#68aa32" stroke-opacity="0.25" stroke-width="0.6"/>
<circle cx="67.0" cy="730.4" r="3.0" fill="#68aa32" fill-opacity="0.36" stroke="#68aa32" stroke-opacity="0.25" stroke-width="0.6"/>
<circle cx="67.7" cy="755.3" r="3.0" fill="#68aa32" fill-opacity="0.36" stroke="#68aa32" stroke-opacity="0.25" stroke-width="0.6"/>
<circle cx="55.2" cy="685.9" r="3.0" fill="#68aa32" fill-opacity="0.36" stroke="#68aa32" stroke-opacity="0.25" stroke-width="0.6"/>
<circle cx="63.5" cy="731.8" r="3.0" fill="#68aa32" fill-opacity="0.36" stroke="#68aa32" stroke-opacity="0.25" stroke-width="0.6"/>
<circle cx="64.7" cy="757.9" r="3.0" fill="#68aa32" fill-opacity="0.36" stroke="#68aa32" stroke-opacity="0.25" stroke-width="0.6"/>
<circle cx="61.9" cy="714.1" r="3.0" fill="#68aa32" fill-opacity="0.36" stroke="#68aa32" stroke-opacity="0.25" stroke-width="0.6"/>
<circle cx="67.3" cy="691.6" r="3.0" fill="#68aa32" fill-opacity="0.36" stroke="#68aa32" stroke-opacity="0.25" stroke-width="0.6"/>
<circle cx="60.0" cy="694.0" r="3.0" fill="#68aa32" fill-opacity="0.36" stroke="#68aa32" stroke-opacity="0.25" stroke-width="0.6"/>
<circle cx="71.7" cy="723.2" r="3.0" fill="#68aa32" fill-opacity="0.36" stroke="#68aa32" stroke-opacity="0.25" stroke-width="0.6"/>
<circle cx="58.5" cy="753.6" r="3.0" fill="#68aa32" fill-opacity="0.36" stroke="#68aa32" stroke-opacity="0.25" stroke-width="0.6"/>
<circle cx="53.6" cy="802.3" r="3.0" fill="#68aa32" fill-opacity="0.36" stroke="#68aa32" stroke-opacity="0.25" stroke-width="0.6"/>
<circle cx="59.1" cy="711.0" r="3.0" fill="#68aa32" fill-opacity="0.36" stroke="#68aa32" stroke-opacity="0.25" stroke-width="0.6"/>
<circle cx="67.5" cy="699.3" r="3.0" fill="#68aa32" fill-opacity="0.36" stroke="#68aa32" stroke-opacity="0.25" stroke-width="0.6"/>
<circle cx="71.7" cy="694.5" r="3.0" fill="#68aa32" fill-opacity="0.36" stroke="#68aa32" stroke-opacity="0.25" stroke-width="0.6"/>
<circle cx="53.9" cy="797.9" r="3.0" fill="#68aa32" fill-opacity="0.36" stroke="#68aa32" stroke-opacity="0.25" stroke-width="0.6"/>
<circle cx="56.5" cy="764.0" r="3.0" fill="#68aa32" fill-opacity="0.36" stroke="#68aa32" stroke-opacity="0.25" stroke-width="0.6"/>
<circle cx="57.4" cy="782.8" r="3.0" fill="#68aa32" fill-opacity="0.36" stroke="#68aa32" stroke-opacity="0.25" stroke-width="0.6"/>
<circle cx="59.9" cy="786.6" r="3.0" fill="#68aa32" fill-opacity="0.36" stroke="#68aa32" stroke-opacity="0.25" stroke-width="0.6"/>
<circle cx="60.9" cy="758.8" r="3.0" fill="#68aa32" fill-opacity="0.36" stroke="#68aa32" stroke-opacity="0.25" stroke-width="0.6"/>
<circle cx="54.8" cy="681.5" r="3.0" fill="#68aa32" fill-opacity="0.36" stroke="#68aa32" stroke-opacity="0.25" stroke-width="0.6"/>
<circle cx="62.0" cy="755.4" r="3.0" fill="#68aa32" fill-opacity="0.36" stroke="#68aa32" stroke-opacity="0.25" stroke-width="0.6"/>
<circle cx="74.4" cy="799.8" r="3.0" fill="#68aa32" fill-opacity="0.36" stroke="#68aa32" stroke-opacity="0.25" stroke-width="0.6"/>
<circle cx="64.7" cy="715.1" r="3.0" fill="#68aa32" fill-opacity="0.36" stroke="#68aa32" stroke-opacity="0.25" stroke-width="0.6"/>
<circle cx="55.2" cy="691.8" r="3.0" fill="#68aa32" fill-opacity="0.36" stroke="#68aa32" stroke-opacity="0.25" stroke-width="0.6"/>
<circle cx="57.5" cy="758.7" r="3.0" fill="#68aa32" fill-opacity="0.36" stroke="#68aa32" stroke-opacity="0.25" stroke-width="0.6"/>
<circle cx="63.6" cy="730.0" r="3.0" fill="#68aa32" fill-opacity="0.36" stroke="#68aa32" stroke-opacity="0.25" stroke-width="0.6"/>
<circle cx="63.5" cy="747.9" r="3.0" fill="#68aa32" fill-opacity="0.36" stroke="#68aa32" stroke-opacity="0.25" stroke-width="0.6"/>
<circle cx="66.3" cy="742.5" r="3.0" fill="#68aa32" fill-opacity="0.36" stroke="#68aa32" stroke-opacity="0.25" stroke-width="0.6"/>
<circle cx="71.6" cy="684.6" r="3.0" fill="#68aa32" fill-opacity="0.36" stroke="#68aa32" stroke-opacity="0.25" stroke-width="0.6"/>
<circle cx="64.0" cy="686.3" r="3.0" fill="#68aa32" fill-opacity="0.36" stroke="#68aa32" stroke-opacity="0.25" stroke-width="0.6"/>
<circle cx="55.6" cy="757.3" r="3.0" fill="#68aa32" fill-opacity="0.36" stroke="#68aa32" stroke-opacity="0.25" stroke-width="0.6"/>
<circle cx="69.0" cy="753.9" r="3.0" fill="#68aa32" fill-opacity="0.36" stroke="#68aa32" stroke-opacity="0.25" stroke-width="0.6"/>
<circle cx="72.8" cy="684.8" r="3.0" fill="#68aa32" fill-opacity="0.36" stroke="#68aa32" stroke-opacity="0.25" stroke-width="0.6"/>
<circle cx="53.0" cy="734.3" r="3.0" fill="#68aa32" fill-opacity="0.36" stroke="#68aa32" stroke-opacity="0.25" stroke-width="0.6"/>
<circle cx="74.0" cy="690.9" r="3.0" fill="#68aa32" fill-opacity="0.36" stroke="#68aa32" stroke-opacity="0.25" stroke-width="0.6"/>
<circle cx="74.9" cy="768.7" r="3.0" fill="#68aa32" fill-opacity="0.36" stroke="#68aa32" stroke-opacity="0.25" stroke-width="0.6"/>
<circle cx="65.4" cy="687.8" r="3.0" fill="#68aa32" fill-opacity="0.36" stroke="#68aa32" stroke-opacity="0.25" stroke-width="0.6"/>
<circle cx="63.9" cy="739.2" r="3.0" fill="#68aa32" fill-opacity="0.36" stroke="#68aa32" stroke-opacity="0.25" stroke-width="0.6"/>
<circle cx="65.6" cy="735.9" r="3.0" fill="#68aa32" fill-opacity="0.36" stroke="#68aa32" stroke-opacity="0.25" stroke-width="0.6"/>
<circle cx="74.7" cy="805.4" r="3.0" fill="#68aa32" fill-opacity="0.36" stroke="#68aa32" stroke-opacity="0.25" stroke-width="0.6"/>
<circle cx="58.2" cy="756.0" r="3.0" fill="#68aa32" fill-opacity="0.36" stroke="#68aa32" stroke-opacity="0.25" stroke-width="0.6"/>
<circle cx="75.3" cy="737.2" r="3.0" fill="#68aa32" fill-opacity="0.36" stroke="#68aa32" stroke-opacity="0.25" stroke-width="0.6"/>
<circle cx="53.6" cy="749.9" r="3.0" fill="#68aa32" fill-opacity="0.36" stroke="#68aa32" stroke-opacity="0.25" stroke-width="0.6"/>
<circle cx="73.8" cy="798.5" r="3.0" fill="#68aa32" fill-opacity="0.36" stroke="#68aa32" stroke-opacity="0.25" stroke-width="0.6"/>
<circle cx="66.9" cy="681.8" r="3.0" fill="#68aa32" fill-opacity="0.36" stroke="#68aa32" stroke-opacity="0.25" stroke-width="0.6"/>
<circle cx="52.0" cy="726.8" r="3.0" fill="#68aa32" fill-opacity="0.36" stroke="#68aa32" stroke-opacity="0.25" stroke-width="0.6"/>
<circle cx="55.0" cy="730.6" r="3.0" fill="#68aa32" fill-opacity="0.36" stroke="#68aa32" stroke-opacity="0.25" stroke-width="0.6"/>
<circle cx="61.2" cy="737.8" r="3.0" fill="#68aa32" fill-opacity="0.36" stroke="#68aa32" stroke-opacity="0.25" stroke-width="0.6"/>
<circle cx="56.8" cy="730.8" r="3.0" fill="#68aa32" fill-opacity="0.36" stroke="#68aa32" stroke-opacity="0.25" stroke-width="0.6"/>
<circle cx="51.8" cy="745.2" r="3.0" fill="#68aa32" fill-opacity="0.36" stroke="#68aa32" stroke-opacity="0.25" stroke-width="0.6"/>
<circle cx="69.5" cy="756.8" r="3.0" fill="#68aa32" fill-opacity="0.36" stroke="#68aa32" stroke-opacity="0.25" stroke-width="0.6"/>
<circle cx="69.1" cy="695.6" r="3.0" fill="#68aa32" fill-opacity="0.36" stroke="#68aa32" stroke-opacity="0.25" stroke-width="0.6"/>
<circle cx="51.7" cy="740.5" r="3.0" fill="#68aa32" fill-opacity="0.36" stroke="#68aa32" stroke-opacity="0.25" stroke-width="0.6"/>
<circle cx="63.2" cy="728.8" r="3.0" fill="#68aa32" fill-opacity="0.36" stroke="#68aa32" stroke-opacity="0.25" stroke-width="0.6"/>
<circle cx="58.2" cy="748.2" r="3.0" fill="#68aa32" fill-opacity="0.36" stroke="#68aa32" stroke-opacity="0.25" stroke-width="0.6"/>
<circle cx="53.0" cy="756.0" r="3.0" fill="#68aa32" fill-opacity="0.36" stroke="#68aa32" stroke-opacity="0.25" stroke-width="0.6"/>
<circle cx="52.9" cy="794.3" r="3.0" fill="#68aa32" fill-opacity="0.36" stroke="#68aa32" stroke-opacity="0.25" stroke-width="0.6"/>
<circle cx="74.7" cy="730.2" r="3.0" fill="#68aa32" fill-opacity="0.36" stroke="#68aa32" stroke-opacity="0.25" stroke-width="0.6"/>
<circle cx="72.4" cy="768.9" r="3.0" fill="#68aa32" fill-opacity="0.36" stroke="#68aa32" stroke-opacity="0.25" stroke-width="0.6"/>
<circle cx="74.6" cy="792.8" r="3.0" fill="#68aa32" fill-opacity="0.36" stroke="#68aa32" stroke-opacity="0.25" stroke-width="0.6"/>
<circle cx="60.5" cy="785.1" r="3.0" fill="#68aa32" fill-opacity="0.36" stroke="#68aa32" stroke-opacity="0.25" stroke-width="0.6"/>
<circle cx="62.5" cy="799.3" r="3.0" fill="#68aa32" fill-opacity="0.36" stroke="#68aa32" stroke-opacity="0.25" stroke-width="0.6"/>
<circle cx="72.2" cy="725.4" r="3.0" fill="#68aa32" fill-opacity="0.36" stroke="#68aa32" stroke-opacity="0.25" stroke-width="0.6"/>
<circle cx="62.0" cy="791.6" r="3.0" fill="#68aa32" fill-opacity="0.36" stroke="#68aa32" stroke-opacity="0.25" stroke-width="0.6"/>
<circle cx="70.2" cy="751.5" r="3.0" fill="#68aa32" fill-opacity="0.36" stroke="#68aa32" stroke-opacity="0.25" stroke-width="0.6"/>
<circle cx="64.6" cy="781.9" r="3.0" fill="#68aa32" fill-opacity="0.36" stroke="#68aa32" stroke-opacity="0.25" stroke-width="0.6"/>
<circle cx="64.9" cy="770.3" r="3.0" fill="#68aa32" fill-opacity="0.36" stroke="#68aa32" stroke-opacity="0.25" stroke-width="0.6"/>
<circle cx="52.6" cy="766.9" r="3.0" fill="#68aa32" fill-opacity="0.36" stroke="#68aa32" stroke-opacity="0.25" stroke-width="0.6"/>
<circle cx="73.9" cy="757.1" r="3.0" fill="#68aa32" fill-opacity="0.36" stroke="#68aa32" stroke-opacity="0.25" stroke-width="0.6"/>
<circle cx="57.2" cy="736.9" r="3.0" fill="#68aa32" fill-opacity="0.36" stroke="#68aa32" stroke-opacity="0.25" stroke-width="0.6"/>
<circle cx="62.3" cy="791.3" r="3.0" fill="#68aa32" fill-opacity="0.36" stroke="#68aa32" stroke-opacity="0.25" stroke-width="0.6"/>
<circle cx="63.5" cy="757.8" r="3.0" fill="#68aa32" fill-opacity="0.36" stroke="#68aa32" stroke-opacity="0.25" stroke-width="0.6"/>
<circle cx="74.7" cy="725.4" r="3.0" fill="#68aa32" fill-opacity="0.36" stroke="#68aa32" stroke-opacity="0.25" stroke-width="0.6"/>
<circle cx="61.9" cy="742.4" r="3.0" fill="#68aa32" fill-opacity="0.36" stroke="#68aa32" stroke-opacity="0.25" stroke-width="0.6"/>
<circle cx="55.0" cy="698.4" r="3.0" fill="#68aa32" fill-opacity="0.36" stroke="#68aa32" stroke-opacity="0.25" stroke-width="0.6"/>
<circle cx="52.3" cy="782.5" r="3.0" fill="#68aa32" fill-opacity="0.36" stroke="#68aa32" stroke-opacity="0.25" stroke-width="0.6"/>
<circle cx="73.6" cy="808.6" r="3.0" fill="#68aa32" fill-opacity="0.36" stroke="#68aa32" stroke-opacity="0.25" stroke-width="0.6"/>
<circle cx="57.0" cy="764.5" r="3.0" fill="#68aa32" fill-opacity="0.36" stroke="#68aa32" stroke-opacity="0.25" stroke-width="0.6"/>
<circle cx="72.5" cy="809.3" r="3.0" fill="#68aa32" fill-opacity="0.36" stroke="#68aa32" stroke-opacity="0.25" stroke-width="0.6"/>
<circle cx="52.5" cy="756.4" r="3.0" fill="#68aa32" fill-opacity="0.36" stroke="#68aa32" stroke-opacity="0.25" stroke-width="0.6"/>
<circle cx="64.6" cy="703.4" r="3.0" fill="#68aa32" fill-opacity="0.36" stroke="#68aa32" stroke-opacity="0.25" stroke-width="0.6"/>
<circle cx="61.5" cy="779.9" r="3.0" fill="#68aa32" fill-opacity="0.36" stroke="#68aa32" stroke-opacity="0.25" stroke-width="0.6"/>
<circle cx="56.4" cy="701.1" r="3.0" fill="#68aa32" fill-opacity="0.36" stroke="#68aa32" stroke-opacity="0.25" stroke-width="0.6"/>
<circle cx="72.4" cy="784.8" r="3.0" fill="#68aa32" fill-opacity="0.36" stroke="#68aa32" stroke-opacity="0.25" stroke-width="0.6"/>
<circle cx="75.1" cy="786.8" r="3.0" fill="#68aa32" fill-opacity="0.36" stroke="#68aa32" stroke-opacity="0.25" stroke-width="0.6"/>
<circle cx="73.5" cy="759.2" r="3.0" fill="#68aa32" fill-opacity="0.36" stroke="#68aa32" stroke-opacity="0.25" stroke-width="0.6"/>
<circle cx="60.6" cy="787.1" r="3.0" fill="#68aa32" fill-opacity="0.36" stroke="#68aa32" stroke-opacity="0.25" stroke-width="0.6"/>
<circle cx="54.1" cy="729.6" r="3.0" fill="#68aa32" fill-opacity="0.36" stroke="#68aa32" stroke-opacity="0.25" stroke-width="0.6"/>
<line x1="62.8" y1="677.3" x2="62.8" y2="723.3" stroke="#333" stroke-width="1.6" />
<line x1="62.8" y1="778.0" x2="62.8" y2="812.0" stroke="#333" stroke-width="1.6" />
<rect x="49.1" y="723.3" width="27.4" height="54.7" fill="none" stroke="#333" stroke-width="1.6" />
<line x1="49.1" y1="751.8" x2="76.5" y2="751.8" stroke="#333" stroke-width="2.6" />
<circle cx="95.5" cy="806.7" r="3.0" fill="#ee7563" fill-opacity="0.36" stroke="#ee7563" stroke-opacity="0.25" stroke-width="0.6"/>
<circle cx="92.2" cy="787.7" r="3.0" fill="#ee7563" fill-opacity="0.36" stroke="#ee7563" stroke-opacity="0.25" stroke-width="0.6"/>
<circle cx="87.1" cy="787.2" r="3.0" fill="#ee7563" fill-opacity="0.36" stroke="#ee7563" stroke-opacity="0.25" stroke-width="0.6"/>
<circle cx="93.5" cy="748.9" r="3.0" fill="#ee7563" fill-opacity="0.36" stroke="#ee7563" stroke-opacity="0.25" stroke-width="0.6"/>
<circle cx="92.6" cy="808.3" r="3.0" fill="#ee7563" fill-opacity="0.36" stroke="#ee7563" stroke-opacity="0.25" stroke-width="0.6"/>
<circle cx="95.3" cy="800.2" r="3.0" fill="#ee7563" fill-opacity="0.36" stroke="#ee7563" stroke-opacity="0.25" stroke-width="0.6"/>
<circle cx="106.8" cy="816.2" r="3.0" fill="#ee7563" fill-opacity="0.36" stroke="#ee7563" stroke-opacity="0.25" stroke-width="0.6"/>
<circle cx="99.3" cy="781.4" r="3.0" fill="#ee7563" fill-opacity="0.36" stroke="#ee7563" stroke-opacity="0.25" stroke-width="0.6"/>
<circle cx="108.2" cy="813.2" r="3.0" fill="#ee7563" fill-opacity="0.36" stroke="#ee7563" stroke-opacity="0.25" stroke-width="0.6"/>
<circle cx="110.9" cy="806.2" r="3.0" fill="#ee7563" fill-opacity="0.36" stroke="#ee7563" stroke-opacity="0.25" stroke-width="0.6"/>
<circle cx="107.9" cy="792.4" r="3.0" fill="#ee7563" fill-opacity="0.36" stroke="#ee7563" stroke-opacity="0.25" stroke-width="0.6"/>
<circle cx="87.1" cy="800.0" r="3.0" fill="#ee7563" fill-opacity="0.36" stroke="#ee7563" stroke-opacity="0.25" stroke-width="0.6"/>
<circle cx="106.7" cy="810.7" r="3.0" fill="#ee7563" fill-opacity="0.36" stroke="#ee7563" stroke-opacity="0.25" stroke-width="0.6"/>
<circle cx="99.1" cy="753.5" r="3.0" fill="#ee7563" fill-opacity="0.36" stroke="#ee7563" stroke-opacity="0.25" stroke-width="0.6"/>
<circle cx="100.5" cy="769.7" r="3.0" fill="#ee7563" fill-opacity="0.36" stroke="#ee7563" stroke-opacity="0.25" stroke-width="0.6"/>
<circle cx="100.8" cy="755.3" r="3.0" fill="#ee7563" fill-opacity="0.36" stroke="#ee7563" stroke-opacity="0.25" stroke-width="0.6"/>
<circle cx="95.5" cy="749.5" r="3.0" fill="#ee7563" fill-opacity="0.36" stroke="#ee7563" stroke-opacity="0.25" stroke-width="0.6"/>
<circle cx="89.3" cy="798.9" r="3.0" fill="#ee7563" fill-opacity="0.36" stroke="#ee7563" stroke-opacity="0.25" stroke-width="0.6"/>
<circle cx="98.5" cy="794.6" r="3.0" fill="#ee7563" fill-opacity="0.36" stroke="#ee7563" stroke-opacity="0.25" stroke-width="0.6"/>
<circle cx="93.8" cy="765.9" r="3.0" fill="#ee7563" fill-opacity="0.36" stroke="#ee7563" stroke-opacity="0.25" stroke-width="0.6"/>
<circle cx="108.8" cy="792.3" r="3.0" fill="#ee7563" fill-opacity="0.36" stroke="#ee7563" stroke-opacity="0.25" stroke-width="0.6"/>
<circle cx="109.3" cy="804.5" r="3.0" fill="#ee7563" fill-opacity="0.36" stroke="#ee7563" stroke-opacity="0.25" stroke-width="0.6"/>
<circle cx="92.5" cy="817.6" r="3.0" fill="#ee7563" fill-opacity="0.36" stroke="#ee7563" stroke-opacity="0.25" stroke-width="0.6"/>
<circle cx="94.9" cy="804.2" r="3.0" fill="#ee7563" fill-opacity="0.36" stroke="#ee7563" stroke-opacity="0.25" stroke-width="0.6"/>
<circle cx="99.1" cy="751.0" r="3.0" fill="#ee7563" fill-opacity="0.36" stroke="#ee7563" stroke-opacity="0.25" stroke-width="0.6"/>
<circle cx="89.5" cy="783.7" r="3.0" fill="#ee7563" fill-opacity="0.36" stroke="#ee7563" stroke-opacity="0.25" stroke-width="0.6"/>
<circle cx="108.1" cy="805.9" r="3.0" fill="#ee7563" fill-opacity="0.36" stroke="#ee7563" stroke-opacity="0.25" stroke-width="0.6"/>
<circle cx="95.9" cy="797.1" r="3.0" fill="#ee7563" fill-opacity="0.36" stroke="#ee7563" stroke-opacity="0.25" stroke-width="0.6"/>
<circle cx="94.6" cy="784.9" r="3.0" fill="#ee7563" fill-opacity="0.36" stroke="#ee7563" stroke-opacity="0.25" stroke-width="0.6"/>
<circle cx="108.6" cy="751.2" r="3.0" fill="#ee7563" fill-opacity="0.36" stroke="#ee7563" stroke-opacity="0.25" stroke-width="0.6"/>
<circle cx="93.6" cy="796.7" r="3.0" fill="#ee7563" fill-opacity="0.36" stroke="#ee7563" stroke-opacity="0.25" stroke-width="0.6"/>
<circle cx="101.5" cy="803.6" r="3.0" fill="#ee7563" fill-opacity="0.36" stroke="#ee7563" stroke-opacity="0.25" stroke-width="0.6"/>
<circle cx="87.9" cy="815.4" r="3.0" fill="#ee7563" fill-opacity="0.36" stroke="#ee7563" stroke-opacity="0.25" stroke-width="0.6"/>
<circle cx="109.5" cy="797.6" r="3.0" fill="#ee7563" fill-opacity="0.36" stroke="#ee7563" stroke-opacity="0.25" stroke-width="0.6"/>
<circle cx="107.5" cy="761.5" r="3.0" fill="#ee7563" fill-opacity="0.36" stroke="#ee7563" stroke-opacity="0.25" stroke-width="0.6"/>
<circle cx="109.8" cy="805.8" r="3.0" fill="#ee7563" fill-opacity="0.36" stroke="#ee7563" stroke-opacity="0.25" stroke-width="0.6"/>
<circle cx="90.9" cy="782.8" r="3.0" fill="#ee7563" fill-opacity="0.36" stroke="#ee7563" stroke-opacity="0.25" stroke-width="0.6"/>
<circle cx="104.2" cy="820.6" r="3.0" fill="#ee7563" fill-opacity="0.36" stroke="#ee7563" stroke-opacity="0.25" stroke-width="0.6"/>
<circle cx="92.4" cy="803.5" r="3.0" fill="#ee7563" fill-opacity="0.36" stroke="#ee7563" stroke-opacity="0.25" stroke-width="0.6"/>
<circle cx="108.1" cy="760.6" r="3.0" fill="#ee7563" fill-opacity="0.36" stroke="#ee7563" stroke-opacity="0.25" stroke-width="0.6"/>
<circle cx="92.2" cy="769.3" r="3.0" fill="#ee7563" fill-opacity="0.36" stroke="#ee7563" stroke-opacity="0.25" stroke-width="0.6"/>
<circle cx="109.3" cy="810.0" r="3.0" fill="#ee7563" fill-opacity="0.36" stroke="#ee7563" stroke-opacity="0.25" stroke-width="0.6"/>
<circle cx="107.7" cy="806.5" r="3.0" fill="#ee7563" fill-opacity="0.36" stroke="#ee7563" stroke-opacity="0.25" stroke-width="0.6"/>
<circle cx="111.0" cy="815.5" r="3.0" fill="#ee7563" fill-opacity="0.36" stroke="#ee7563" stroke-opacity="0.25" stroke-width="0.6"/>
<circle cx="102.0" cy="809.0" r="3.0" fill="#ee7563" fill-opacity="0.36" stroke="#ee7563" stroke-opacity="0.25" stroke-width="0.6"/>
<circle cx="88.9" cy="796.7" r="3.0" fill="#ee7563" fill-opacity="0.36" stroke="#ee7563" stroke-opacity="0.25" stroke-width="0.6"/>
<circle cx="99.9" cy="752.9" r="3.0" fill="#ee7563" fill-opacity="0.36" stroke="#ee7563" stroke-opacity="0.25" stroke-width="0.6"/>
<circle cx="111.1" cy="806.5" r="3.0" fill="#ee7563" fill-opacity="0.36" stroke="#ee7563" stroke-opacity="0.25" stroke-width="0.6"/>
<circle cx="89.0" cy="790.3" r="3.0" fill="#ee7563" fill-opacity="0.36" stroke="#ee7563" stroke-opacity="0.25" stroke-width="0.6"/>
<circle cx="106.6" cy="789.2" r="3.0" fill="#ee7563" fill-opacity="0.36" stroke="#ee7563" stroke-opacity="0.25" stroke-width="0.6"/>
<circle cx="110.6" cy="729.4" r="3.0" fill="#ee7563" fill-opacity="0.36" stroke="#ee7563" stroke-opacity="0.25" stroke-width="0.6"/>
<circle cx="102.7" cy="740.0" r="3.0" fill="#ee7563" fill-opacity="0.36" stroke="#ee7563" stroke-opacity="0.25" stroke-width="0.6"/>
<circle cx="104.3" cy="744.0" r="3.0" fill="#ee7563" fill-opacity="0.36" stroke="#ee7563" stroke-opacity="0.25" stroke-width="0.6"/>
<line x1="99.0" y1="746.3" x2="99.0" y2="780.2" stroke="#333" stroke-width="1.6" />
<line x1="99.0" y1="806.1" x2="99.0" y2="823.0" stroke="#333" stroke-width="1.6" />
<rect x="85.3" y="780.2" width="27.4" height="25.9" fill="none" stroke="#333" stroke-width="1.6" />
<line x1="85.3" y1="794.0" x2="112.7" y2="794.0" stroke="#333" stroke-width="2.6" />
<circle cx="143.5" cy="783.2" r="3.0" fill="#30b9c2" fill-opacity="0.36" stroke="#30b9c2" stroke-opacity="0.25" stroke-width="0.6"/>
<circle cx="124.2" cy="777.1" r="3.0" fill="#30b9c2" fill-opacity="0.36" stroke="#30b9c2" stroke-opacity="0.25" stroke-width="0.6"/>
<circle cx="142.6" cy="801.5" r="3.0" fill="#30b9c2" fill-opacity="0.36" stroke="#30b9c2" stroke-opacity="0.25" stroke-width="0.6"/>
<circle cx="133.3" cy="805.6" r="3.0" fill="#30b9c2" fill-opacity="0.36" stroke="#30b9c2" stroke-opacity="0.25" stroke-width="0.6"/>
<circle cx="132.2" cy="781.1" r="3.0" fill="#30b9c2" fill-opacity="0.36" stroke="#30b9c2" stroke-opacity="0.25" stroke-width="0.6"/>
<circle cx="125.9" cy="757.9" r="3.0" fill="#30b9c2" fill-opacity="0.36" stroke="#30b9c2" stroke-opacity="0.25" stroke-width="0.6"/>
<circle cx="136.0" cy="760.1" r="3.0" fill="#30b9c2" fill-opacity="0.36" stroke="#30b9c2" stroke-opacity="0.25" stroke-width="0.6"/>
<circle cx="143.4" cy="765.4" r="3.0" fill="#30b9c2" fill-opacity="0.36" stroke="#30b9c2" stroke-opacity="0.25" stroke-width="0.6"/>
<circle cx="125.3" cy="776.1" r="3.0" fill="#30b9c2" fill-opacity="0.36" stroke="#30b9c2" stroke-opacity="0.25" stroke-width="0.6"/>
<circle cx="140.2" cy="760.3" r="3.0" fill="#30b9c2" fill-opacity="0.36" stroke="#30b9c2" stroke-opacity="0.25" stroke-width="0.6"/>
<circle cx="135.8" cy="784.0" r="3.0" fill="#30b9c2" fill-opacity="0.36" stroke="#30b9c2" stroke-opacity="0.25" stroke-width="0.6"/>
<circle cx="134.4" cy="816.8" r="3.0" fill="#30b9c2" fill-opacity="0.36" stroke="#30b9c2" stroke-opacity="0.25" stroke-width="0.6"/>
<circle cx="135.2" cy="789.1" r="3.0" fill="#30b9c2" fill-opacity="0.36" stroke="#30b9c2" stroke-opacity="0.25" stroke-width="0.6"/>
<circle cx="132.8" cy="773.4" r="3.0" fill="#30b9c2" fill-opacity="0.36" stroke="#30b9c2" stroke-opacity="0.25" stroke-width="0.6"/>
<circle cx="123.8" cy="812.4" r="3.0" fill="#30b9c2" fill-opacity="0.36" stroke="#30b9c2" stroke-opacity="0.25" stroke-width="0.6"/>
<circle cx="135.2" cy="801.8" r="3.0" fill="#30b9c2" fill-opacity="0.36" stroke="#30b9c2" stroke-opacity="0.25" stroke-width="0.6"/>
<circle cx="131.8" cy="782.5" r="3.0" fill="#30b9c2" fill-opacity="0.36" stroke="#30b9c2" stroke-opacity="0.25" stroke-width="0.6"/>
<circle cx="132.1" cy="811.7" r="3.0" fill="#30b9c2" fill-opacity="0.36" stroke="#30b9c2" stroke-opacity="0.25" stroke-width="0.6"/>
<circle cx="126.0" cy="787.4" r="3.0" fill="#30b9c2" fill-opacity="0.36" stroke="#30b9c2" stroke-opacity="0.25" stroke-width="0.6"/>
<circle cx="128.5" cy="749.8" r="3.0" fill="#30b9c2" fill-opacity="0.36" stroke="#30b9c2" stroke-opacity="0.25" stroke-width="0.6"/>
<circle cx="144.5" cy="710.6" r="3.0" fill="#30b9c2" fill-opacity="0.36" stroke="#30b9c2" stroke-opacity="0.25" stroke-width="0.6"/>
<circle cx="136.2" cy="732.0" r="3.0" fill="#30b9c2" fill-opacity="0.36" stroke="#30b9c2" stroke-opacity="0.25" stroke-width="0.6"/>
<circle cx="139.3" cy="735.0" r="3.0" fill="#30b9c2" fill-opacity="0.36" stroke="#30b9c2" stroke-opacity="0.25" stroke-width="0.6"/>
<line x1="134.9" y1="747.4" x2="134.9" y2="770.8" stroke="#333" stroke-width="1.6" />
<line x1="134.9" y1="791.2" x2="134.9" y2="819.2" stroke="#333" stroke-width="1.6" />
<rect x="121.2" y="770.8" width="27.4" height="20.4" fill="none" stroke="#333" stroke-width="1.6" />
<line x1="121.2" y1="784.6" x2="148.6" y2="784.6" stroke="#333" stroke-width="2.6" />
<circle cx="169.3" cy="780.2" r="3.0" fill="#a47ad8" fill-opacity="0.36" stroke="#a47ad8" stroke-opacity="0.25" stroke-width="0.6"/>
<circle cx="177.9" cy="715.7" r="3.0" fill="#a47ad8" fill-opacity="0.36" stroke="#a47ad8" stroke-opacity="0.25" stroke-width="0.6"/>
<circle cx="183.2" cy="811.6" r="3.0" fill="#a47ad8" fill-opacity="0.36" stroke="#a47ad8" stroke-opacity="0.25" stroke-width="0.6"/>
<circle cx="165.2" cy="780.2" r="3.0" fill="#a47ad8" fill-opacity="0.36" stroke="#a47ad8" stroke-opacity="0.25" stroke-width="0.6"/>
<circle cx="179.0" cy="775.8" r="3.0" fill="#a47ad8" fill-opacity="0.36" stroke="#a47ad8" stroke-opacity="0.25" stroke-width="0.6"/>
<circle cx="169.8" cy="815.3" r="3.0" fill="#a47ad8" fill-opacity="0.36" stroke="#a47ad8" stroke-opacity="0.25" stroke-width="0.6"/>
<circle cx="173.1" cy="796.7" r="3.0" fill="#a47ad8" fill-opacity="0.36" stroke="#a47ad8" stroke-opacity="0.25" stroke-width="0.6"/>
<circle cx="177.0" cy="802.1" r="3.0" fill="#a47ad8" fill-opacity="0.36" stroke="#a47ad8" stroke-opacity="0.25" stroke-width="0.6"/>
<circle cx="172.2" cy="797.6" r="3.0" fill="#a47ad8" fill-opacity="0.36" stroke="#a47ad8" stroke-opacity="0.25" stroke-width="0.6"/>
<circle cx="179.7" cy="728.9" r="3.0" fill="#a47ad8" fill-opacity="0.36" stroke="#a47ad8" stroke-opacity="0.25" stroke-width="0.6"/>
<circle cx="174.3" cy="748.5" r="3.0" fill="#a47ad8" fill-opacity="0.36" stroke="#a47ad8" stroke-opacity="0.25" stroke-width="0.6"/>
<circle cx="174.8" cy="814.2" r="3.0" fill="#a47ad8" fill-opacity="0.36" stroke="#a47ad8" stroke-opacity="0.25" stroke-width="0.6"/>
<circle cx="162.8" cy="787.3" r="3.0" fill="#a47ad8" fill-opacity="0.36" stroke="#a47ad8" stroke-opacity="0.25" stroke-width="0.6"/>
<circle cx="179.5" cy="781.8" r="3.0" fill="#a47ad8" fill-opacity="0.36" stroke="#a47ad8" stroke-opacity="0.25" stroke-width="0.6"/>
<circle cx="169.3" cy="814.9" r="3.0" fill="#a47ad8" fill-opacity="0.36" stroke="#a47ad8" stroke-opacity="0.25" stroke-width="0.6"/>
<circle cx="167.8" cy="720.0" r="3.0" fill="#a47ad8" fill-opacity="0.36" stroke="#a47ad8" stroke-opacity="0.25" stroke-width="0.6"/>
<circle cx="163.6" cy="779.7" r="3.0" fill="#a47ad8" fill-opacity="0.36" stroke="#a47ad8" stroke-opacity="0.25" stroke-width="0.6"/>
<circle cx="170.9" cy="779.9" r="3.0" fill="#a47ad8" fill-opacity="0.36" stroke="#a47ad8" stroke-opacity="0.25" stroke-width="0.6"/>
<circle cx="175.5" cy="774.2" r="3.0" fill="#a47ad8" fill-opacity="0.36" stroke="#a47ad8" stroke-opacity="0.25" stroke-width="0.6"/>
<circle cx="163.7" cy="797.0" r="3.0" fill="#a47ad8" fill-opacity="0.36" stroke="#a47ad8" stroke-opacity="0.25" stroke-width="0.6"/>
<circle cx="168.7" cy="761.1" r="3.0" fill="#a47ad8" fill-opacity="0.36" stroke="#a47ad8" stroke-opacity="0.25" stroke-width="0.6"/>
<circle cx="179.0" cy="791.3" r="3.0" fill="#a47ad8" fill-opacity="0.36" stroke="#a47ad8" stroke-opacity="0.25" stroke-width="0.6"/>
<circle cx="169.4" cy="780.6" r="3.0" fill="#a47ad8" fill-opacity="0.36" stroke="#a47ad8" stroke-opacity="0.25" stroke-width="0.6"/>
<circle cx="181.9" cy="758.1" r="3.0" fill="#a47ad8" fill-opacity="0.36" stroke="#a47ad8" stroke-opacity="0.25" stroke-width="0.6"/>
<circle cx="165.5" cy="800.7" r="3.0" fill="#a47ad8" fill-opacity="0.36" stroke="#a47ad8" stroke-opacity="0.25" stroke-width="0.6"/>
<circle cx="182.0" cy="723.2" r="3.0" fill="#a47ad8" fill-opacity="0.36" stroke="#a47ad8" stroke-opacity="0.25" stroke-width="0.6"/>
<circle cx="165.2" cy="812.6" r="3.0" fill="#a47ad8" fill-opacity="0.36" stroke="#a47ad8" stroke-opacity="0.25" stroke-width="0.6"/>
<circle cx="169.8" cy="752.5" r="3.0" fill="#a47ad8" fill-opacity="0.36" stroke="#a47ad8" stroke-opacity="0.25" stroke-width="0.6"/>
<circle cx="169.9" cy="799.8" r="3.0" fill="#a47ad8" fill-opacity="0.36" stroke="#a47ad8" stroke-opacity="0.25" stroke-width="0.6"/>
<circle cx="169.9" cy="731.2" r="3.0" fill="#a47ad8" fill-opacity="0.36" stroke="#a47ad8" stroke-opacity="0.25" stroke-width="0.6"/>
<circle cx="176.3" cy="780.8" r="3.0" fill="#a47ad8" fill-opacity="0.36" stroke="#a47ad8" stroke-opacity="0.25" stroke-width="0.6"/>
<circle cx="158.5" cy="782.1" r="3.0" fill="#a47ad8" fill-opacity="0.36" stroke="#a47ad8" stroke-opacity="0.25" stroke-width="0.6"/>
<circle cx="173.3" cy="791.7" r="3.0" fill="#a47ad8" fill-opacity="0.36" stroke="#a47ad8" stroke-opacity="0.25" stroke-width="0.6"/>
<circle cx="179.5" cy="782.6" r="3.0" fill="#a47ad8" fill-opacity="0.36" stroke="#a47ad8" stroke-opacity="0.25" stroke-width="0.6"/>
<circle cx="171.2" cy="795.5" r="3.0" fill="#a47ad8" fill-opacity="0.36" stroke="#a47ad8" stroke-opacity="0.25" stroke-width="0.6"/>
<circle cx="182.5" cy="775.7" r="3.0" fill="#a47ad8" fill-opacity="0.36" stroke="#a47ad8" stroke-opacity="0.25" stroke-width="0.6"/>
<circle cx="176.2" cy="808.4" r="3.0" fill="#a47ad8" fill-opacity="0.36" stroke="#a47ad8" stroke-opacity="0.25" stroke-width="0.6"/>
<circle cx="164.1" cy="813.4" r="3.0" fill="#a47ad8" fill-opacity="0.36" stroke="#a47ad8" stroke-opacity="0.25" stroke-width="0.6"/>
<circle cx="179.8" cy="759.9" r="3.0" fill="#a47ad8" fill-opacity="0.36" stroke="#a47ad8" stroke-opacity="0.25" stroke-width="0.6"/>
<circle cx="167.3" cy="800.6" r="3.0" fill="#a47ad8" fill-opacity="0.36" stroke="#a47ad8" stroke-opacity="0.25" stroke-width="0.6"/>
<circle cx="163.3" cy="767.1" r="3.0" fill="#a47ad8" fill-opacity="0.36" stroke="#a47ad8" stroke-opacity="0.25" stroke-width="0.6"/>
<circle cx="178.7" cy="791.5" r="3.0" fill="#a47ad8" fill-opacity="0.36" stroke="#a47ad8" stroke-opacity="0.25" stroke-width="0.6"/>
<circle cx="176.4" cy="795.1" r="3.0" fill="#a47ad8" fill-opacity="0.36" stroke="#a47ad8" stroke-opacity="0.25" stroke-width="0.6"/>
<circle cx="159.8" cy="744.0" r="3.0" fill="#a47ad8" fill-opacity="0.36" stroke="#a47ad8" stroke-opacity="0.25" stroke-width="0.6"/>
<circle cx="173.8" cy="768.7" r="3.0" fill="#a47ad8" fill-opacity="0.36" stroke="#a47ad8" stroke-opacity="0.25" stroke-width="0.6"/>
<circle cx="175.3" cy="713.0" r="3.0" fill="#a47ad8" fill-opacity="0.36" stroke="#a47ad8" stroke-opacity="0.25" stroke-width="0.6"/>
<circle cx="177.5" cy="717.0" r="3.0" fill="#a47ad8" fill-opacity="0.36" stroke="#a47ad8" stroke-opacity="0.25" stroke-width="0.6"/>
<circle cx="172.8" cy="728.0" r="3.0" fill="#a47ad8" fill-opacity="0.36" stroke="#a47ad8" stroke-opacity="0.25" stroke-width="0.6"/>
<line x1="170.8" y1="712.8" x2="170.8" y2="763.4" stroke="#333" stroke-width="1.6" />
<line x1="170.8" y1="801.5" x2="170.8" y2="816.4" stroke="#333" stroke-width="1.6" />
<rect x="157.1" y="763.4" width="27.4" height="38.1" fill="none" stroke="#333" stroke-width="1.6" />
<line x1="157.1" y1="782.0" x2="184.5" y2="782.0" stroke="#333" stroke-width="2.6" />
<rect x="41.5" y="662.0" width="151.2" height="168.2" fill="none" stroke="#333333" stroke-width="1.1" />
<line x1="62.8" y1="830.2" x2="62.8" y2="833.2" stroke="#333333" stroke-width="1.3" />
<line x1="99.0" y1="830.2" x2="99.0" y2="833.2" stroke="#333333" stroke-width="1.3" />
<line x1="134.9" y1="830.2" x2="134.9" y2="833.2" stroke="#333333" stroke-width="1.3" />
<line x1="170.8" y1="830.2" x2="170.8" y2="833.2" stroke="#333333" stroke-width="1.3" />
<text x="62.8" y="839.8" font-size="9" text-anchor="middle" fill="#4d4d4d" font-weight="normal" dominant-baseline="central" stroke="#4d4d4d" stroke-width="0.22" >Breast</text>
<text x="99.0" y="839.8" font-size="9" text-anchor="middle" fill="#4d4d4d" font-weight="normal" dominant-baseline="central" stroke="#4d4d4d" stroke-width="0.22" >Brain</text>
<text x="134.9" y="839.8" font-size="9" text-anchor="middle" fill="#4d4d4d" font-weight="normal" dominant-baseline="central" stroke="#4d4d4d" stroke-width="0.22" >Lung</text>
<text x="170.8" y="839.8" font-size="9" text-anchor="middle" fill="#4d4d4d" font-weight="normal" dominant-baseline="central" stroke="#4d4d4d" stroke-width="0.22" >Soft Tissue</text>
<rect x="198.7" y="644.5" width="150.6" height="17.5" fill="#d9d9d9" stroke="#333333" stroke-width="1.1" />
<text x="274.0" y="653.5" font-size="9" text-anchor="middle" fill="#1a1a1a" font-weight="normal" dominant-baseline="central" stroke="#1a1a1a" stroke-width="0.22" >CD8</text>
<rect x="198.7" y="662.0" width="150.6" height="168.2" fill="#fff" stroke="none" stroke-width="1" />
<line x1="198.7" y1="670.6" x2="349.3" y2="670.6" stroke="#ebebeb" stroke-width="1.4" />
<line x1="198.7" y1="684.2" x2="349.3" y2="684.2" stroke="#ebebeb" stroke-width="1" />
<line x1="198.7" y1="697.9" x2="349.3" y2="697.9" stroke="#ebebeb" stroke-width="1.4" />
<line x1="198.7" y1="711.6" x2="349.3" y2="711.6" stroke="#ebebeb" stroke-width="1" />
<line x1="198.7" y1="725.2" x2="349.3" y2="725.2" stroke="#ebebeb" stroke-width="1.4" />
<line x1="198.7" y1="738.9" x2="349.3" y2="738.9" stroke="#ebebeb" stroke-width="1" />
<line x1="198.7" y1="752.5" x2="349.3" y2="752.5" stroke="#ebebeb" stroke-width="1.4" />
<line x1="198.7" y1="766.1" x2="349.3" y2="766.1" stroke="#ebebeb" stroke-width="1" />
<line x1="198.7" y1="779.8" x2="349.3" y2="779.8" stroke="#ebebeb" stroke-width="1.4" />
<line x1="198.7" y1="793.5" x2="349.3" y2="793.5" stroke="#ebebeb" stroke-width="1" />
<line x1="198.7" y1="807.1" x2="349.3" y2="807.1" stroke="#ebebeb" stroke-width="1.4" />
<line x1="198.7" y1="820.8" x2="349.3" y2="820.8" stroke="#ebebeb" stroke-width="1" />
<line x1="220.1" y1="662.0" x2="220.1" y2="830.2" stroke="#ebebeb" stroke-width="1.8" />
<line x1="256.1" y1="662.0" x2="256.1" y2="830.2" stroke="#ebebeb" stroke-width="1.8" />
<line x1="292.1" y1="662.0" x2="292.1" y2="830.2" stroke="#ebebeb" stroke-width="1.8" />
<line x1="328.3" y1="662.0" x2="328.3" y2="830.2" stroke="#ebebeb" stroke-width="1.8" />
<circle cx="229.3" cy="771.4" r="3.0" fill="#68aa32" fill-opacity="0.36" stroke="#68aa32" stroke-opacity="0.25" stroke-width="0.6"/>
<circle cx="223.3" cy="760.5" r="3.0" fill="#68aa32" fill-opacity="0.36" stroke="#68aa32" stroke-opacity="0.25" stroke-width="0.6"/>
<circle cx="223.4" cy="727.4" r="3.0" fill="#68aa32" fill-opacity="0.36" stroke="#68aa32" stroke-opacity="0.25" stroke-width="0.6"/>
<circle cx="212.7" cy="732.7" r="3.0" fill="#68aa32" fill-opacity="0.36" stroke="#68aa32" stroke-opacity="0.25" stroke-width="0.6"/>
<circle cx="223.3" cy="771.6" r="3.0" fill="#68aa32" fill-opacity="0.36" stroke="#68aa32" stroke-opacity="0.25" stroke-width="0.6"/>
<circle cx="217.2" cy="772.8" r="3.0" fill="#68aa32" fill-opacity="0.36" stroke="#68aa32" stroke-opacity="0.25" stroke-width="0.6"/>
<circle cx="213.9" cy="766.7" r="3.0" fill="#68aa32" fill-opacity="0.36" stroke="#68aa32" stroke-opacity="0.25" stroke-width="0.6"/>
<circle cx="213.8" cy="770.0" r="3.0" fill="#68aa32" fill-opacity="0.36" stroke="#68aa32" stroke-opacity="0.25" stroke-width="0.6"/>
<circle cx="229.5" cy="774.9" r="3.0" fill="#68aa32" fill-opacity="0.36" stroke="#68aa32" stroke-opacity="0.25" stroke-width="0.6"/>
<circle cx="214.8" cy="776.9" r="3.0" fill="#68aa32" fill-opacity="0.36" stroke="#68aa32" stroke-opacity="0.25" stroke-width="0.6"/>
<circle cx="223.9" cy="762.2" r="3.0" fill="#68aa32" fill-opacity="0.36" stroke="#68aa32" stroke-opacity="0.25" stroke-width="0.6"/>
<circle cx="220.8" cy="682.3" r="3.0" fill="#68aa32" fill-opacity="0.36" stroke="#68aa32" stroke-opacity="0.25" stroke-width="0.6"/>
<circle cx="230.9" cy="740.0" r="3.0" fill="#68aa32" fill-opacity="0.36" stroke="#68aa32" stroke-opacity="0.25" stroke-width="0.6"/>
<circle cx="217.9" cy="766.0" r="3.0" fill="#68aa32" fill-opacity="0.36" stroke="#68aa32" stroke-opacity="0.25" stroke-width="0.6"/>
<circle cx="225.0" cy="747.7" r="3.0" fill="#68aa32" fill-opacity="0.36" stroke="#68aa32" stroke-opacity="0.25" stroke-width="0.6"/>
<circle cx="220.7" cy="743.0" r="3.0" fill="#68aa32" fill-opacity="0.36" stroke="#68aa32" stroke-opacity="0.25" stroke-width="0.6"/>
<circle cx="223.2" cy="758.6" r="3.0" fill="#68aa32" fill-opacity="0.36" stroke="#68aa32" stroke-opacity="0.25" stroke-width="0.6"/>
<circle cx="217.1" cy="755.1" r="3.0" fill="#68aa32" fill-opacity="0.36" stroke="#68aa32" stroke-opacity="0.25" stroke-width="0.6"/>
<circle cx="209.6" cy="701.5" r="3.0" fill="#68aa32" fill-opacity="0.36" stroke="#68aa32" stroke-opacity="0.25" stroke-width="0.6"/>
<circle cx="220.2" cy="683.3" r="3.0" fill="#68aa32" fill-opacity="0.36" stroke="#68aa32" stroke-opacity="0.25" stroke-width="0.6"/>
<circle cx="227.8" cy="732.9" r="3.0" fill="#68aa32" fill-opacity="0.36" stroke="#68aa32" stroke-opacity="0.25" stroke-width="0.6"/>
<circle cx="231.7" cy="748.9" r="3.0" fill="#68aa32" fill-opacity="0.36" stroke="#68aa32" stroke-opacity="0.25" stroke-width="0.6"/>
<circle cx="231.7" cy="747.1" r="3.0" fill="#68aa32" fill-opacity="0.36" stroke="#68aa32" stroke-opacity="0.25" stroke-width="0.6"/>
<circle cx="209.3" cy="737.3" r="3.0" fill="#68aa32" fill-opacity="0.36" stroke="#68aa32" stroke-opacity="0.25" stroke-width="0.6"/>
<circle cx="217.7" cy="727.2" r="3.0" fill="#68aa32" fill-opacity="0.36" stroke="#68aa32" stroke-opacity="0.25" stroke-width="0.6"/>
<circle cx="212.1" cy="731.9" r="3.0" fill="#68aa32" fill-opacity="0.36" stroke="#68aa32" stroke-opacity="0.25" stroke-width="0.6"/>
<circle cx="220.6" cy="703.2" r="3.0" fill="#68aa32" fill-opacity="0.36" stroke="#68aa32" stroke-opacity="0.25" stroke-width="0.6"/>
<circle cx="208.2" cy="778.7" r="3.0" fill="#68aa32" fill-opacity="0.36" stroke="#68aa32" stroke-opacity="0.25" stroke-width="0.6"/>
<circle cx="223.9" cy="770.2" r="3.0" fill="#68aa32" fill-opacity="0.36" stroke="#68aa32" stroke-opacity="0.25" stroke-width="0.6"/>
<circle cx="227.0" cy="771.2" r="3.0" fill="#68aa32" fill-opacity="0.36" stroke="#68aa32" stroke-opacity="0.25" stroke-width="0.6"/>
<circle cx="222.9" cy="782.7" r="3.0" fill="#68aa32" fill-opacity="0.36" stroke="#68aa32" stroke-opacity="0.25" stroke-width="0.6"/>
<circle cx="224.0" cy="773.2" r="3.0" fill="#68aa32" fill-opacity="0.36" stroke="#68aa32" stroke-opacity="0.25" stroke-width="0.6"/>
<circle cx="223.9" cy="691.8" r="3.0" fill="#68aa32" fill-opacity="0.36" stroke="#68aa32" stroke-opacity="0.25" stroke-width="0.6"/>
<circle cx="214.0" cy="682.9" r="3.0" fill="#68aa32" fill-opacity="0.36" stroke="#68aa32" stroke-opacity="0.25" stroke-width="0.6"/>
<circle cx="223.1" cy="772.1" r="3.0" fill="#68aa32" fill-opacity="0.36" stroke="#68aa32" stroke-opacity="0.25" stroke-width="0.6"/>
<circle cx="217.0" cy="757.1" r="3.0" fill="#68aa32" fill-opacity="0.36" stroke="#68aa32" stroke-opacity="0.25" stroke-width="0.6"/>
<circle cx="216.2" cy="731.1" r="3.0" fill="#68aa32" fill-opacity="0.36" stroke="#68aa32" stroke-opacity="0.25" stroke-width="0.6"/>
<circle cx="217.4" cy="773.1" r="3.0" fill="#68aa32" fill-opacity="0.36" stroke="#68aa32" stroke-opacity="0.25" stroke-width="0.6"/>
<circle cx="211.6" cy="701.6" r="3.0" fill="#68aa32" fill-opacity="0.36" stroke="#68aa32" stroke-opacity="0.25" stroke-width="0.6"/>
<circle cx="229.6" cy="700.3" r="3.0" fill="#68aa32" fill-opacity="0.36" stroke="#68aa32" stroke-opacity="0.25" stroke-width="0.6"/>
<circle cx="213.1" cy="761.5" r="3.0" fill="#68aa32" fill-opacity="0.36" stroke="#68aa32" stroke-opacity="0.25" stroke-width="0.6"/>
<circle cx="230.0" cy="736.6" r="3.0" fill="#68aa32" fill-opacity="0.36" stroke="#68aa32" stroke-opacity="0.25" stroke-width="0.6"/>
<circle cx="227.7" cy="726.6" r="3.0" fill="#68aa32" fill-opacity="0.36" stroke="#68aa32" stroke-opacity="0.25" stroke-width="0.6"/>
<circle cx="227.1" cy="699.2" r="3.0" fill="#68aa32" fill-opacity="0.36" stroke="#68aa32" stroke-opacity="0.25" stroke-width="0.6"/>
<circle cx="221.9" cy="755.9" r="3.0" fill="#68aa32" fill-opacity="0.36" stroke="#68aa32" stroke-opacity="0.25" stroke-width="0.6"/>
<circle cx="231.2" cy="718.7" r="3.0" fill="#68aa32" fill-opacity="0.36" stroke="#68aa32" stroke-opacity="0.25" stroke-width="0.6"/>
<circle cx="209.8" cy="685.5" r="3.0" fill="#68aa32" fill-opacity="0.36" stroke="#68aa32" stroke-opacity="0.25" stroke-width="0.6"/>
<circle cx="230.6" cy="716.2" r="3.0" fill="#68aa32" fill-opacity="0.36" stroke="#68aa32" stroke-opacity="0.25" stroke-width="0.6"/>
<circle cx="230.3" cy="775.9" r="3.0" fill="#68aa32" fill-opacity="0.36" stroke="#68aa32" stroke-opacity="0.25" stroke-width="0.6"/>
<circle cx="208.7" cy="737.9" r="3.0" fill="#68aa32" fill-opacity="0.36" stroke="#68aa32" stroke-opacity="0.25" stroke-width="0.6"/>
<circle cx="211.1" cy="779.1" r="3.0" fill="#68aa32" fill-opacity="0.36" stroke="#68aa32" stroke-opacity="0.25" stroke-width="0.6"/>
<circle cx="221.4" cy="727.8" r="3.0" fill="#68aa32" fill-opacity="0.36" stroke="#68aa32" stroke-opacity="0.25" stroke-width="0.6"/>
<circle cx="227.2" cy="746.7" r="3.0" fill="#68aa32" fill-opacity="0.36" stroke="#68aa32" stroke-opacity="0.25" stroke-width="0.6"/>
<circle cx="229.2" cy="750.4" r="3.0" fill="#68aa32" fill-opacity="0.36" stroke="#68aa32" stroke-opacity="0.25" stroke-width="0.6"/>
<circle cx="220.9" cy="744.5" r="3.0" fill="#68aa32" fill-opacity="0.36" stroke="#68aa32" stroke-opacity="0.25" stroke-width="0.6"/>
<circle cx="218.1" cy="710.9" r="3.0" fill="#68aa32" fill-opacity="0.36" stroke="#68aa32" stroke-opacity="0.25" stroke-width="0.6"/>
<circle cx="212.6" cy="677.6" r="3.0" fill="#68aa32" fill-opacity="0.36" stroke="#68aa32" stroke-opacity="0.25" stroke-width="0.6"/>
<circle cx="219.7" cy="768.8" r="3.0" fill="#68aa32" fill-opacity="0.36" stroke="#68aa32" stroke-opacity="0.25" stroke-width="0.6"/>
<circle cx="213.9" cy="768.8" r="3.0" fill="#68aa32" fill-opacity="0.36" stroke="#68aa32" stroke-opacity="0.25" stroke-width="0.6"/>
<circle cx="227.0" cy="743.8" r="3.0" fill="#68aa32" fill-opacity="0.36" stroke="#68aa32" stroke-opacity="0.25" stroke-width="0.6"/>
<circle cx="222.4" cy="716.9" r="3.0" fill="#68aa32" fill-opacity="0.36" stroke="#68aa32" stroke-opacity="0.25" stroke-width="0.6"/>
<circle cx="220.8" cy="752.9" r="3.0" fill="#68aa32" fill-opacity="0.36" stroke="#68aa32" stroke-opacity="0.25" stroke-width="0.6"/>
<circle cx="225.5" cy="777.1" r="3.0" fill="#68aa32" fill-opacity="0.36" stroke="#68aa32" stroke-opacity="0.25" stroke-width="0.6"/>
<circle cx="222.9" cy="746.3" r="3.0" fill="#68aa32" fill-opacity="0.36" stroke="#68aa32" stroke-opacity="0.25" stroke-width="0.6"/>
<circle cx="209.0" cy="684.8" r="3.0" fill="#68aa32" fill-opacity="0.36" stroke="#68aa32" stroke-opacity="0.25" stroke-width="0.6"/>
<circle cx="208.5" cy="750.6" r="3.0" fill="#68aa32" fill-opacity="0.36" stroke="#68aa32" stroke-opacity="0.25" stroke-width="0.6"/>
<circle cx="212.6" cy="779.1" r="3.0" fill="#68aa32" fill-opacity="0.36" stroke="#68aa32" stroke-opacity="0.25" stroke-width="0.6"/>
<circle cx="212.1" cy="741.9" r="3.0" fill="#68aa32" fill-opacity="0.36" stroke="#68aa32" stroke-opacity="0.25" stroke-width="0.6"/>
<circle cx="210.9" cy="733.1" r="3.0" fill="#68aa32" fill-opacity="0.36" stroke="#68aa32" stroke-opacity="0.25" stroke-width="0.6"/>
<circle cx="215.4" cy="740.3" r="3.0" fill="#68aa32" fill-opacity="0.36" stroke="#68aa32" stroke-opacity="0.25" stroke-width="0.6"/>
<circle cx="231.2" cy="743.3" r="3.0" fill="#68aa32" fill-opacity="0.36" stroke="#68aa32" stroke-opacity="0.25" stroke-width="0.6"/>
<circle cx="231.2" cy="761.1" r="3.0" fill="#68aa32" fill-opacity="0.36" stroke="#68aa32" stroke-opacity="0.25" stroke-width="0.6"/>
<circle cx="231.3" cy="759.6" r="3.0" fill="#68aa32" fill-opacity="0.36" stroke="#68aa32" stroke-opacity="0.25" stroke-width="0.6"/>
<circle cx="229.1" cy="778.7" r="3.0" fill="#68aa32" fill-opacity="0.36" stroke="#68aa32" stroke-opacity="0.25" stroke-width="0.6"/>
<circle cx="213.5" cy="744.7" r="3.0" fill="#68aa32" fill-opacity="0.36" stroke="#68aa32" stroke-opacity="0.25" stroke-width="0.6"/>
<circle cx="208.3" cy="681.6" r="3.0" fill="#68aa32" fill-opacity="0.36" stroke="#68aa32" stroke-opacity="0.25" stroke-width="0.6"/>
<circle cx="219.8" cy="777.8" r="3.0" fill="#68aa32" fill-opacity="0.36" stroke="#68aa32" stroke-opacity="0.25" stroke-width="0.6"/>
<circle cx="219.8" cy="720.6" r="3.0" fill="#68aa32" fill-opacity="0.36" stroke="#68aa32" stroke-opacity="0.25" stroke-width="0.6"/>
<circle cx="216.1" cy="670.9" r="3.0" fill="#68aa32" fill-opacity="0.36" stroke="#68aa32" stroke-opacity="0.25" stroke-width="0.6"/>
<circle cx="219.4" cy="745.8" r="3.0" fill="#68aa32" fill-opacity="0.36" stroke="#68aa32" stroke-opacity="0.25" stroke-width="0.6"/>
<circle cx="227.1" cy="765.7" r="3.0" fill="#68aa32" fill-opacity="0.36" stroke="#68aa32" stroke-opacity="0.25" stroke-width="0.6"/>
<circle cx="210.8" cy="731.1" r="3.0" fill="#68aa32" fill-opacity="0.36" stroke="#68aa32" stroke-opacity="0.25" stroke-width="0.6"/>
<circle cx="231.9" cy="748.4" r="3.0" fill="#68aa32" fill-opacity="0.36" stroke="#68aa32" stroke-opacity="0.25" stroke-width="0.6"/>
<circle cx="216.0" cy="741.4" r="3.0" fill="#68aa32" fill-opacity="0.36" stroke="#68aa32" stroke-opacity="0.25" stroke-width="0.6"/>
<circle cx="221.2" cy="758.5" r="3.0" fill="#68aa32" fill-opacity="0.36" stroke="#68aa32" stroke-opacity="0.25" stroke-width="0.6"/>
<circle cx="212.4" cy="691.6" r="3.0" fill="#68aa32" fill-opacity="0.36" stroke="#68aa32" stroke-opacity="0.25" stroke-width="0.6"/>
<circle cx="214.8" cy="745.9" r="3.0" fill="#68aa32" fill-opacity="0.36" stroke="#68aa32" stroke-opacity="0.25" stroke-width="0.6"/>
<circle cx="230.0" cy="685.9" r="3.0" fill="#68aa32" fill-opacity="0.36" stroke="#68aa32" stroke-opacity="0.25" stroke-width="0.6"/>
<circle cx="215.2" cy="771.8" r="3.0" fill="#68aa32" fill-opacity="0.36" stroke="#68aa32" stroke-opacity="0.25" stroke-width="0.6"/>
<circle cx="209.2" cy="726.8" r="3.0" fill="#68aa32" fill-opacity="0.36" stroke="#68aa32" stroke-opacity="0.25" stroke-width="0.6"/>
<circle cx="221.1" cy="738.5" r="3.0" fill="#68aa32" fill-opacity="0.36" stroke="#68aa32" stroke-opacity="0.25" stroke-width="0.6"/>
<circle cx="217.7" cy="689.1" r="3.0" fill="#68aa32" fill-opacity="0.36" stroke="#68aa32" stroke-opacity="0.25" stroke-width="0.6"/>
<circle cx="229.0" cy="766.7" r="3.0" fill="#68aa32" fill-opacity="0.36" stroke="#68aa32" stroke-opacity="0.25" stroke-width="0.6"/>
<circle cx="226.5" cy="681.3" r="3.0" fill="#68aa32" fill-opacity="0.36" stroke="#68aa32" stroke-opacity="0.25" stroke-width="0.6"/>
<circle cx="225.6" cy="750.2" r="3.0" fill="#68aa32" fill-opacity="0.36" stroke="#68aa32" stroke-opacity="0.25" stroke-width="0.6"/>
<circle cx="216.5" cy="745.4" r="3.0" fill="#68aa32" fill-opacity="0.36" stroke="#68aa32" stroke-opacity="0.25" stroke-width="0.6"/>
<circle cx="209.6" cy="697.4" r="3.0" fill="#68aa32" fill-opacity="0.36" stroke="#68aa32" stroke-opacity="0.25" stroke-width="0.6"/>
<circle cx="229.8" cy="674.7" r="3.0" fill="#68aa32" fill-opacity="0.36" stroke="#68aa32" stroke-opacity="0.25" stroke-width="0.6"/>
<circle cx="217.5" cy="750.7" r="3.0" fill="#68aa32" fill-opacity="0.36" stroke="#68aa32" stroke-opacity="0.25" stroke-width="0.6"/>
<circle cx="217.4" cy="767.9" r="3.0" fill="#68aa32" fill-opacity="0.36" stroke="#68aa32" stroke-opacity="0.25" stroke-width="0.6"/>
<circle cx="221.7" cy="749.7" r="3.0" fill="#68aa32" fill-opacity="0.36" stroke="#68aa32" stroke-opacity="0.25" stroke-width="0.6"/>
<circle cx="214.1" cy="759.8" r="3.0" fill="#68aa32" fill-opacity="0.36" stroke="#68aa32" stroke-opacity="0.25" stroke-width="0.6"/>
<circle cx="219.2" cy="768.0" r="3.0" fill="#68aa32" fill-opacity="0.36" stroke="#68aa32" stroke-opacity="0.25" stroke-width="0.6"/>
<circle cx="230.3" cy="739.4" r="3.0" fill="#68aa32" fill-opacity="0.36" stroke="#68aa32" stroke-opacity="0.25" stroke-width="0.6"/>
<circle cx="218.7" cy="684.6" r="3.0" fill="#68aa32" fill-opacity="0.36" stroke="#68aa32" stroke-opacity="0.25" stroke-width="0.6"/>
<circle cx="219.9" cy="744.1" r="3.0" fill="#68aa32" fill-opacity="0.36" stroke="#68aa32" stroke-opacity="0.25" stroke-width="0.6"/>
<circle cx="224.3" cy="778.8" r="3.0" fill="#68aa32" fill-opacity="0.36" stroke="#68aa32" stroke-opacity="0.25" stroke-width="0.6"/>
<circle cx="213.4" cy="778.5" r="3.0" fill="#68aa32" fill-opacity="0.36" stroke="#68aa32" stroke-opacity="0.25" stroke-width="0.6"/>
<circle cx="214.1" cy="746.5" r="3.0" fill="#68aa32" fill-opacity="0.36" stroke="#68aa32" stroke-opacity="0.25" stroke-width="0.6"/>
<circle cx="225.3" cy="766.9" r="3.0" fill="#68aa32" fill-opacity="0.36" stroke="#68aa32" stroke-opacity="0.25" stroke-width="0.6"/>
<circle cx="213.4" cy="782.4" r="3.0" fill="#68aa32" fill-opacity="0.36" stroke="#68aa32" stroke-opacity="0.25" stroke-width="0.6"/>
<circle cx="217.4" cy="749.2" r="3.0" fill="#68aa32" fill-opacity="0.36" stroke="#68aa32" stroke-opacity="0.25" stroke-width="0.6"/>
<circle cx="212.7" cy="719.3" r="3.0" fill="#68aa32" fill-opacity="0.36" stroke="#68aa32" stroke-opacity="0.25" stroke-width="0.6"/>
<circle cx="212.7" cy="762.8" r="3.0" fill="#68aa32" fill-opacity="0.36" stroke="#68aa32" stroke-opacity="0.25" stroke-width="0.6"/>
<circle cx="229.0" cy="777.9" r="3.0" fill="#68aa32" fill-opacity="0.36" stroke="#68aa32" stroke-opacity="0.25" stroke-width="0.6"/>
<circle cx="224.2" cy="730.5" r="3.0" fill="#68aa32" fill-opacity="0.36" stroke="#68aa32" stroke-opacity="0.25" stroke-width="0.6"/>
<circle cx="226.4" cy="725.4" r="3.0" fill="#68aa32" fill-opacity="0.36" stroke="#68aa32" stroke-opacity="0.25" stroke-width="0.6"/>
<circle cx="229.3" cy="774.0" r="3.0" fill="#68aa32" fill-opacity="0.36" stroke="#68aa32" stroke-opacity="0.25" stroke-width="0.6"/>
<circle cx="224.1" cy="743.2" r="3.0" fill="#68aa32" fill-opacity="0.36" stroke="#68aa32" stroke-opacity="0.25" stroke-width="0.6"/>
<circle cx="221.7" cy="674.9" r="3.0" fill="#68aa32" fill-opacity="0.36" stroke="#68aa32" stroke-opacity="0.25" stroke-width="0.6"/>
<circle cx="224.2" cy="754.6" r="3.0" fill="#68aa32" fill-opacity="0.36" stroke="#68aa32" stroke-opacity="0.25" stroke-width="0.6"/>
<circle cx="225.5" cy="731.6" r="3.0" fill="#68aa32" fill-opacity="0.36" stroke="#68aa32" stroke-opacity="0.25" stroke-width="0.6"/>
<circle cx="225.2" cy="673.1" r="3.0" fill="#68aa32" fill-opacity="0.36" stroke="#68aa32" stroke-opacity="0.25" stroke-width="0.6"/>
<circle cx="223.5" cy="681.6" r="3.0" fill="#68aa32" fill-opacity="0.36" stroke="#68aa32" stroke-opacity="0.25" stroke-width="0.6"/>
<circle cx="230.9" cy="778.5" r="3.0" fill="#68aa32" fill-opacity="0.36" stroke="#68aa32" stroke-opacity="0.25" stroke-width="0.6"/>
<circle cx="214.9" cy="741.0" r="3.0" fill="#68aa32" fill-opacity="0.36" stroke="#68aa32" stroke-opacity="0.25" stroke-width="0.6"/>
<circle cx="230.5" cy="699.4" r="3.0" fill="#68aa32" fill-opacity="0.36" stroke="#68aa32" stroke-opacity="0.25" stroke-width="0.6"/>
<circle cx="223.1" cy="740.2" r="3.0" fill="#68aa32" fill-opacity="0.36" stroke="#68aa32" stroke-opacity="0.25" stroke-width="0.6"/>
<circle cx="226.1" cy="683.5" r="3.0" fill="#68aa32" fill-opacity="0.36" stroke="#68aa32" stroke-opacity="0.25" stroke-width="0.6"/>
<circle cx="225.3" cy="679.9" r="3.0" fill="#68aa32" fill-opacity="0.36" stroke="#68aa32" stroke-opacity="0.25" stroke-width="0.6"/>
<circle cx="228.0" cy="725.6" r="3.0" fill="#68aa32" fill-opacity="0.36" stroke="#68aa32" stroke-opacity="0.25" stroke-width="0.6"/>
<circle cx="228.6" cy="768.2" r="3.0" fill="#68aa32" fill-opacity="0.36" stroke="#68aa32" stroke-opacity="0.25" stroke-width="0.6"/>
<circle cx="218.3" cy="748.8" r="3.0" fill="#68aa32" fill-opacity="0.36" stroke="#68aa32" stroke-opacity="0.25" stroke-width="0.6"/>
<circle cx="220.6" cy="686.4" r="3.0" fill="#68aa32" fill-opacity="0.36" stroke="#68aa32" stroke-opacity="0.25" stroke-width="0.6"/>
<circle cx="208.4" cy="759.1" r="3.0" fill="#68aa32" fill-opacity="0.36" stroke="#68aa32" stroke-opacity="0.25" stroke-width="0.6"/>
<circle cx="222.9" cy="779.5" r="3.0" fill="#68aa32" fill-opacity="0.36" stroke="#68aa32" stroke-opacity="0.25" stroke-width="0.6"/>
<circle cx="214.1" cy="673.2" r="3.0" fill="#68aa32" fill-opacity="0.36" stroke="#68aa32" stroke-opacity="0.25" stroke-width="0.6"/>
<circle cx="211.6" cy="725.9" r="3.0" fill="#68aa32" fill-opacity="0.36" stroke="#68aa32" stroke-opacity="0.25" stroke-width="0.6"/>
<circle cx="228.3" cy="782.3" r="3.0" fill="#68aa32" fill-opacity="0.36" stroke="#68aa32" stroke-opacity="0.25" stroke-width="0.6"/>
<circle cx="212.3" cy="704.8" r="3.0" fill="#68aa32" fill-opacity="0.36" stroke="#68aa32" stroke-opacity="0.25" stroke-width="0.6"/>
<circle cx="229.4" cy="702.9" r="3.0" fill="#68aa32" fill-opacity="0.36" stroke="#68aa32" stroke-opacity="0.25" stroke-width="0.6"/>
<circle cx="220.1" cy="747.6" r="3.0" fill="#68aa32" fill-opacity="0.36" stroke="#68aa32" stroke-opacity="0.25" stroke-width="0.6"/>
<circle cx="218.8" cy="708.3" r="3.0" fill="#68aa32" fill-opacity="0.36" stroke="#68aa32" stroke-opacity="0.25" stroke-width="0.6"/>
<circle cx="208.5" cy="736.9" r="3.0" fill="#68aa32" fill-opacity="0.36" stroke="#68aa32" stroke-opacity="0.25" stroke-width="0.6"/>
<circle cx="217.3" cy="775.3" r="3.0" fill="#68aa32" fill-opacity="0.36" stroke="#68aa32" stroke-opacity="0.25" stroke-width="0.6"/>
<circle cx="230.2" cy="782.3" r="3.0" fill="#68aa32" fill-opacity="0.36" stroke="#68aa32" stroke-opacity="0.25" stroke-width="0.6"/>
<circle cx="214.2" cy="704.0" r="3.0" fill="#68aa32" fill-opacity="0.36" stroke="#68aa32" stroke-opacity="0.25" stroke-width="0.6"/>
<circle cx="215.5" cy="775.1" r="3.0" fill="#68aa32" fill-opacity="0.36" stroke="#68aa32" stroke-opacity="0.25" stroke-width="0.6"/>
<circle cx="223.7" cy="705.0" r="3.0" fill="#68aa32" fill-opacity="0.36" stroke="#68aa32" stroke-opacity="0.25" stroke-width="0.6"/>
<circle cx="210.6" cy="728.2" r="3.0" fill="#68aa32" fill-opacity="0.36" stroke="#68aa32" stroke-opacity="0.25" stroke-width="0.6"/>
<line x1="220.1" y1="669.8" x2="220.1" y2="722.4" stroke="#333" stroke-width="1.6" />
<line x1="220.1" y1="762.9" x2="220.1" y2="784.0" stroke="#333" stroke-width="1.6" />
<rect x="206.4" y="722.4" width="27.4" height="40.5" fill="none" stroke="#333" stroke-width="1.6" />
<line x1="206.4" y1="742.5" x2="233.8" y2="742.5" stroke="#333" stroke-width="2.6" />
<circle cx="245.8" cy="785.1" r="3.0" fill="#ee7563" fill-opacity="0.36" stroke="#ee7563" stroke-opacity="0.25" stroke-width="0.6"/>
<circle cx="265.8" cy="792.1" r="3.0" fill="#ee7563" fill-opacity="0.36" stroke="#ee7563" stroke-opacity="0.25" stroke-width="0.6"/>
<circle cx="266.4" cy="787.8" r="3.0" fill="#ee7563" fill-opacity="0.36" stroke="#ee7563" stroke-opacity="0.25" stroke-width="0.6"/>
<circle cx="265.1" cy="731.8" r="3.0" fill="#ee7563" fill-opacity="0.36" stroke="#ee7563" stroke-opacity="0.25" stroke-width="0.6"/>
<circle cx="247.0" cy="764.1" r="3.0" fill="#ee7563" fill-opacity="0.36" stroke="#ee7563" stroke-opacity="0.25" stroke-width="0.6"/>
<circle cx="247.8" cy="735.4" r="3.0" fill="#ee7563" fill-opacity="0.36" stroke="#ee7563" stroke-opacity="0.25" stroke-width="0.6"/>
<circle cx="260.4" cy="752.3" r="3.0" fill="#ee7563" fill-opacity="0.36" stroke="#ee7563" stroke-opacity="0.25" stroke-width="0.6"/>
<circle cx="249.5" cy="735.3" r="3.0" fill="#ee7563" fill-opacity="0.36" stroke="#ee7563" stroke-opacity="0.25" stroke-width="0.6"/>
<circle cx="263.0" cy="734.8" r="3.0" fill="#ee7563" fill-opacity="0.36" stroke="#ee7563" stroke-opacity="0.25" stroke-width="0.6"/>
<circle cx="257.4" cy="753.5" r="3.0" fill="#ee7563" fill-opacity="0.36" stroke="#ee7563" stroke-opacity="0.25" stroke-width="0.6"/>
<circle cx="246.2" cy="749.3" r="3.0" fill="#ee7563" fill-opacity="0.36" stroke="#ee7563" stroke-opacity="0.25" stroke-width="0.6"/>
<circle cx="250.8" cy="751.1" r="3.0" fill="#ee7563" fill-opacity="0.36" stroke="#ee7563" stroke-opacity="0.25" stroke-width="0.6"/>
<circle cx="247.7" cy="777.7" r="3.0" fill="#ee7563" fill-opacity="0.36" stroke="#ee7563" stroke-opacity="0.25" stroke-width="0.6"/>
<circle cx="266.5" cy="764.4" r="3.0" fill="#ee7563" fill-opacity="0.36" stroke="#ee7563" stroke-opacity="0.25" stroke-width="0.6"/>
<circle cx="256.1" cy="756.6" r="3.0" fill="#ee7563" fill-opacity="0.36" stroke="#ee7563" stroke-opacity="0.25" stroke-width="0.6"/>
<circle cx="256.0" cy="758.8" r="3.0" fill="#ee7563" fill-opacity="0.36" stroke="#ee7563" stroke-opacity="0.25" stroke-width="0.6"/>
<circle cx="262.0" cy="789.0" r="3.0" fill="#ee7563" fill-opacity="0.36" stroke="#ee7563" stroke-opacity="0.25" stroke-width="0.6"/>
<circle cx="248.4" cy="777.7" r="3.0" fill="#ee7563" fill-opacity="0.36" stroke="#ee7563" stroke-opacity="0.25" stroke-width="0.6"/>
<circle cx="254.4" cy="744.7" r="3.0" fill="#ee7563" fill-opacity="0.36" stroke="#ee7563" stroke-opacity="0.25" stroke-width="0.6"/>
<circle cx="262.5" cy="750.8" r="3.0" fill="#ee7563" fill-opacity="0.36" stroke="#ee7563" stroke-opacity="0.25" stroke-width="0.6"/>
<circle cx="247.1" cy="745.1" r="3.0" fill="#ee7563" fill-opacity="0.36" stroke="#ee7563" stroke-opacity="0.25" stroke-width="0.6"/>
<circle cx="252.0" cy="782.8" r="3.0" fill="#ee7563" fill-opacity="0.36" stroke="#ee7563" stroke-opacity="0.25" stroke-width="0.6"/>
<circle cx="258.1" cy="759.4" r="3.0" fill="#ee7563" fill-opacity="0.36" stroke="#ee7563" stroke-opacity="0.25" stroke-width="0.6"/>
<circle cx="264.8" cy="776.0" r="3.0" fill="#ee7563" fill-opacity="0.36" stroke="#ee7563" stroke-opacity="0.25" stroke-width="0.6"/>
<circle cx="250.6" cy="767.9" r="3.0" fill="#ee7563" fill-opacity="0.36" stroke="#ee7563" stroke-opacity="0.25" stroke-width="0.6"/>
<circle cx="258.5" cy="781.8" r="3.0" fill="#ee7563" fill-opacity="0.36" stroke="#ee7563" stroke-opacity="0.25" stroke-width="0.6"/>
<circle cx="258.1" cy="766.5" r="3.0" fill="#ee7563" fill-opacity="0.36" stroke="#ee7563" stroke-opacity="0.25" stroke-width="0.6"/>
<circle cx="246.5" cy="753.0" r="3.0" fill="#ee7563" fill-opacity="0.36" stroke="#ee7563" stroke-opacity="0.25" stroke-width="0.6"/>
<circle cx="266.1" cy="769.1" r="3.0" fill="#ee7563" fill-opacity="0.36" stroke="#ee7563" stroke-opacity="0.25" stroke-width="0.6"/>
<circle cx="250.9" cy="728.9" r="3.0" fill="#ee7563" fill-opacity="0.36" stroke="#ee7563" stroke-opacity="0.25" stroke-width="0.6"/>
<circle cx="266.4" cy="763.2" r="3.0" fill="#ee7563" fill-opacity="0.36" stroke="#ee7563" stroke-opacity="0.25" stroke-width="0.6"/>
<circle cx="255.5" cy="778.8" r="3.0" fill="#ee7563" fill-opacity="0.36" stroke="#ee7563" stroke-opacity="0.25" stroke-width="0.6"/>
<circle cx="247.8" cy="772.6" r="3.0" fill="#ee7563" fill-opacity="0.36" stroke="#ee7563" stroke-opacity="0.25" stroke-width="0.6"/>
<circle cx="253.7" cy="725.8" r="3.0" fill="#ee7563" fill-opacity="0.36" stroke="#ee7563" stroke-opacity="0.25" stroke-width="0.6"/>
<circle cx="259.9" cy="727.2" r="3.0" fill="#ee7563" fill-opacity="0.36" stroke="#ee7563" stroke-opacity="0.25" stroke-width="0.6"/>
<circle cx="267.4" cy="744.0" r="3.0" fill="#ee7563" fill-opacity="0.36" stroke="#ee7563" stroke-opacity="0.25" stroke-width="0.6"/>
<circle cx="257.3" cy="775.3" r="3.0" fill="#ee7563" fill-opacity="0.36" stroke="#ee7563" stroke-opacity="0.25" stroke-width="0.6"/>
<circle cx="248.7" cy="745.4" r="3.0" fill="#ee7563" fill-opacity="0.36" stroke="#ee7563" stroke-opacity="0.25" stroke-width="0.6"/>
<circle cx="263.1" cy="786.7" r="3.0" fill="#ee7563" fill-opacity="0.36" stroke="#ee7563" stroke-opacity="0.25" stroke-width="0.6"/>
<circle cx="253.5" cy="791.4" r="3.0" fill="#ee7563" fill-opacity="0.36" stroke="#ee7563" stroke-opacity="0.25" stroke-width="0.6"/>
<circle cx="261.7" cy="771.9" r="3.0" fill="#ee7563" fill-opacity="0.36" stroke="#ee7563" stroke-opacity="0.25" stroke-width="0.6"/>
<circle cx="252.4" cy="777.8" r="3.0" fill="#ee7563" fill-opacity="0.36" stroke="#ee7563" stroke-opacity="0.25" stroke-width="0.6"/>
<circle cx="255.8" cy="792.0" r="3.0" fill="#ee7563" fill-opacity="0.36" stroke="#ee7563" stroke-opacity="0.25" stroke-width="0.6"/>
<circle cx="255.3" cy="760.9" r="3.0" fill="#ee7563" fill-opacity="0.36" stroke="#ee7563" stroke-opacity="0.25" stroke-width="0.6"/>
<circle cx="264.9" cy="771.1" r="3.0" fill="#ee7563" fill-opacity="0.36" stroke="#ee7563" stroke-opacity="0.25" stroke-width="0.6"/>
<circle cx="263.8" cy="760.7" r="3.0" fill="#ee7563" fill-opacity="0.36" stroke="#ee7563" stroke-opacity="0.25" stroke-width="0.6"/>
<circle cx="257.2" cy="785.6" r="3.0" fill="#ee7563" fill-opacity="0.36" stroke="#ee7563" stroke-opacity="0.25" stroke-width="0.6"/>
<circle cx="250.0" cy="752.5" r="3.0" fill="#ee7563" fill-opacity="0.36" stroke="#ee7563" stroke-opacity="0.25" stroke-width="0.6"/>
<circle cx="254.6" cy="757.2" r="3.0" fill="#ee7563" fill-opacity="0.36" stroke="#ee7563" stroke-opacity="0.25" stroke-width="0.6"/>
<circle cx="249.0" cy="736.5" r="3.0" fill="#ee7563" fill-opacity="0.36" stroke="#ee7563" stroke-opacity="0.25" stroke-width="0.6"/>
<line x1="256.1" y1="719.9" x2="256.1" y2="755.4" stroke="#333" stroke-width="1.6" />
<line x1="256.1" y1="783.2" x2="256.1" y2="793.9" stroke="#333" stroke-width="1.6" />
<rect x="242.4" y="755.4" width="27.4" height="27.8" fill="none" stroke="#333" stroke-width="1.6" />
<line x1="242.4" y1="771.5" x2="269.8" y2="771.5" stroke="#333" stroke-width="2.6" />
<circle cx="282.5" cy="767.7" r="3.0" fill="#30b9c2" fill-opacity="0.36" stroke="#30b9c2" stroke-opacity="0.25" stroke-width="0.6"/>
<circle cx="302.3" cy="776.6" r="3.0" fill="#30b9c2" fill-opacity="0.36" stroke="#30b9c2" stroke-opacity="0.25" stroke-width="0.6"/>
<circle cx="288.7" cy="766.7" r="3.0" fill="#30b9c2" fill-opacity="0.36" stroke="#30b9c2" stroke-opacity="0.25" stroke-width="0.6"/>
<circle cx="299.5" cy="757.6" r="3.0" fill="#30b9c2" fill-opacity="0.36" stroke="#30b9c2" stroke-opacity="0.25" stroke-width="0.6"/>
<circle cx="282.0" cy="776.3" r="3.0" fill="#30b9c2" fill-opacity="0.36" stroke="#30b9c2" stroke-opacity="0.25" stroke-width="0.6"/>
<circle cx="298.9" cy="759.3" r="3.0" fill="#30b9c2" fill-opacity="0.36" stroke="#30b9c2" stroke-opacity="0.25" stroke-width="0.6"/>
<circle cx="284.3" cy="761.1" r="3.0" fill="#30b9c2" fill-opacity="0.36" stroke="#30b9c2" stroke-opacity="0.25" stroke-width="0.6"/>
<circle cx="296.7" cy="742.5" r="3.0" fill="#30b9c2" fill-opacity="0.36" stroke="#30b9c2" stroke-opacity="0.25" stroke-width="0.6"/>
<circle cx="289.2" cy="758.3" r="3.0" fill="#30b9c2" fill-opacity="0.36" stroke="#30b9c2" stroke-opacity="0.25" stroke-width="0.6"/>
<circle cx="298.5" cy="763.0" r="3.0" fill="#30b9c2" fill-opacity="0.36" stroke="#30b9c2" stroke-opacity="0.25" stroke-width="0.6"/>
<circle cx="290.9" cy="775.9" r="3.0" fill="#30b9c2" fill-opacity="0.36" stroke="#30b9c2" stroke-opacity="0.25" stroke-width="0.6"/>
<circle cx="287.8" cy="770.9" r="3.0" fill="#30b9c2" fill-opacity="0.36" stroke="#30b9c2" stroke-opacity="0.25" stroke-width="0.6"/>
<circle cx="291.3" cy="765.3" r="3.0" fill="#30b9c2" fill-opacity="0.36" stroke="#30b9c2" stroke-opacity="0.25" stroke-width="0.6"/>
<circle cx="292.7" cy="774.8" r="3.0" fill="#30b9c2" fill-opacity="0.36" stroke="#30b9c2" stroke-opacity="0.25" stroke-width="0.6"/>
<circle cx="290.5" cy="766.2" r="3.0" fill="#30b9c2" fill-opacity="0.36" stroke="#30b9c2" stroke-opacity="0.25" stroke-width="0.6"/>
<circle cx="298.2" cy="773.7" r="3.0" fill="#30b9c2" fill-opacity="0.36" stroke="#30b9c2" stroke-opacity="0.25" stroke-width="0.6"/>
<circle cx="282.4" cy="755.0" r="3.0" fill="#30b9c2" fill-opacity="0.36" stroke="#30b9c2" stroke-opacity="0.25" stroke-width="0.6"/>
<circle cx="294.3" cy="774.2" r="3.0" fill="#30b9c2" fill-opacity="0.36" stroke="#30b9c2" stroke-opacity="0.25" stroke-width="0.6"/>
<circle cx="302.1" cy="775.2" r="3.0" fill="#30b9c2" fill-opacity="0.36" stroke="#30b9c2" stroke-opacity="0.25" stroke-width="0.6"/>
<circle cx="299.3" cy="766.6" r="3.0" fill="#30b9c2" fill-opacity="0.36" stroke="#30b9c2" stroke-opacity="0.25" stroke-width="0.6"/>
<circle cx="290.3" cy="776.6" r="3.0" fill="#30b9c2" fill-opacity="0.36" stroke="#30b9c2" stroke-opacity="0.25" stroke-width="0.6"/>
<circle cx="296.3" cy="776.3" r="3.0" fill="#30b9c2" fill-opacity="0.36" stroke="#30b9c2" stroke-opacity="0.25" stroke-width="0.6"/>
<circle cx="285.3" cy="744.6" r="3.0" fill="#30b9c2" fill-opacity="0.36" stroke="#30b9c2" stroke-opacity="0.25" stroke-width="0.6"/>
<circle cx="292.8" cy="775.1" r="3.0" fill="#30b9c2" fill-opacity="0.36" stroke="#30b9c2" stroke-opacity="0.25" stroke-width="0.6"/>
<circle cx="295.3" cy="745.9" r="3.0" fill="#30b9c2" fill-opacity="0.36" stroke="#30b9c2" stroke-opacity="0.25" stroke-width="0.6"/>
<circle cx="303.4" cy="717.0" r="3.0" fill="#30b9c2" fill-opacity="0.36" stroke="#30b9c2" stroke-opacity="0.25" stroke-width="0.6"/>
<circle cx="294.2" cy="726.0" r="3.0" fill="#30b9c2" fill-opacity="0.36" stroke="#30b9c2" stroke-opacity="0.25" stroke-width="0.6"/>
<circle cx="283.6" cy="730.0" r="3.0" fill="#30b9c2" fill-opacity="0.36" stroke="#30b9c2" stroke-opacity="0.25" stroke-width="0.6"/>
<line x1="292.1" y1="738.6" x2="292.1" y2="758.8" stroke="#333" stroke-width="1.6" />
<line x1="292.1" y1="774.3" x2="292.1" y2="778.0" stroke="#333" stroke-width="1.6" />
<rect x="278.4" y="758.8" width="27.4" height="15.5" fill="none" stroke="#333" stroke-width="1.6" />
<line x1="278.4" y1="766.7" x2="305.8" y2="766.7" stroke="#333" stroke-width="2.6" />
<circle cx="331.4" cy="741.6" r="3.0" fill="#a47ad8" fill-opacity="0.36" stroke="#a47ad8" stroke-opacity="0.25" stroke-width="0.6"/>
<circle cx="334.4" cy="776.8" r="3.0" fill="#a47ad8" fill-opacity="0.36" stroke="#a47ad8" stroke-opacity="0.25" stroke-width="0.6"/>
<circle cx="316.7" cy="761.2" r="3.0" fill="#a47ad8" fill-opacity="0.36" stroke="#a47ad8" stroke-opacity="0.25" stroke-width="0.6"/>
<circle cx="317.3" cy="785.9" r="3.0" fill="#a47ad8" fill-opacity="0.36" stroke="#a47ad8" stroke-opacity="0.25" stroke-width="0.6"/>
<circle cx="331.0" cy="770.1" r="3.0" fill="#a47ad8" fill-opacity="0.36" stroke="#a47ad8" stroke-opacity="0.25" stroke-width="0.6"/>
<circle cx="325.9" cy="777.3" r="3.0" fill="#a47ad8" fill-opacity="0.36" stroke="#a47ad8" stroke-opacity="0.25" stroke-width="0.6"/>
<circle cx="319.8" cy="744.0" r="3.0" fill="#a47ad8" fill-opacity="0.36" stroke="#a47ad8" stroke-opacity="0.25" stroke-width="0.6"/>
<circle cx="336.5" cy="780.0" r="3.0" fill="#a47ad8" fill-opacity="0.36" stroke="#a47ad8" stroke-opacity="0.25" stroke-width="0.6"/>
<circle cx="339.0" cy="760.2" r="3.0" fill="#a47ad8" fill-opacity="0.36" stroke="#a47ad8" stroke-opacity="0.25" stroke-width="0.6"/>
<circle cx="333.7" cy="760.0" r="3.0" fill="#a47ad8" fill-opacity="0.36" stroke="#a47ad8" stroke-opacity="0.25" stroke-width="0.6"/>
<circle cx="327.7" cy="782.3" r="3.0" fill="#a47ad8" fill-opacity="0.36" stroke="#a47ad8" stroke-opacity="0.25" stroke-width="0.6"/>
<circle cx="337.0" cy="762.3" r="3.0" fill="#a47ad8" fill-opacity="0.36" stroke="#a47ad8" stroke-opacity="0.25" stroke-width="0.6"/>
<circle cx="328.7" cy="753.0" r="3.0" fill="#a47ad8" fill-opacity="0.36" stroke="#a47ad8" stroke-opacity="0.25" stroke-width="0.6"/>
<circle cx="339.3" cy="762.1" r="3.0" fill="#a47ad8" fill-opacity="0.36" stroke="#a47ad8" stroke-opacity="0.25" stroke-width="0.6"/>
<circle cx="326.5" cy="760.2" r="3.0" fill="#a47ad8" fill-opacity="0.36" stroke="#a47ad8" stroke-opacity="0.25" stroke-width="0.6"/>
<circle cx="316.6" cy="739.2" r="3.0" fill="#a47ad8" fill-opacity="0.36" stroke="#a47ad8" stroke-opacity="0.25" stroke-width="0.6"/>
<circle cx="339.5" cy="766.2" r="3.0" fill="#a47ad8" fill-opacity="0.36" stroke="#a47ad8" stroke-opacity="0.25" stroke-width="0.6"/>
<circle cx="328.6" cy="781.9" r="3.0" fill="#a47ad8" fill-opacity="0.36" stroke="#a47ad8" stroke-opacity="0.25" stroke-width="0.6"/>
<circle cx="319.1" cy="775.3" r="3.0" fill="#a47ad8" fill-opacity="0.36" stroke="#a47ad8" stroke-opacity="0.25" stroke-width="0.6"/>
<circle cx="318.3" cy="740.7" r="3.0" fill="#a47ad8" fill-opacity="0.36" stroke="#a47ad8" stroke-opacity="0.25" stroke-width="0.6"/>
<circle cx="335.6" cy="779.6" r="3.0" fill="#a47ad8" fill-opacity="0.36" stroke="#a47ad8" stroke-opacity="0.25" stroke-width="0.6"/>
<circle cx="333.6" cy="758.1" r="3.0" fill="#a47ad8" fill-opacity="0.36" stroke="#a47ad8" stroke-opacity="0.25" stroke-width="0.6"/>
<circle cx="324.2" cy="755.9" r="3.0" fill="#a47ad8" fill-opacity="0.36" stroke="#a47ad8" stroke-opacity="0.25" stroke-width="0.6"/>
<circle cx="332.4" cy="742.4" r="3.0" fill="#a47ad8" fill-opacity="0.36" stroke="#a47ad8" stroke-opacity="0.25" stroke-width="0.6"/>
<circle cx="317.2" cy="741.0" r="3.0" fill="#a47ad8" fill-opacity="0.36" stroke="#a47ad8" stroke-opacity="0.25" stroke-width="0.6"/>
<circle cx="316.7" cy="762.5" r="3.0" fill="#a47ad8" fill-opacity="0.36" stroke="#a47ad8" stroke-opacity="0.25" stroke-width="0.6"/>
<circle cx="316.9" cy="776.9" r="3.0" fill="#a47ad8" fill-opacity="0.36" stroke="#a47ad8" stroke-opacity="0.25" stroke-width="0.6"/>
<circle cx="335.3" cy="781.7" r="3.0" fill="#a47ad8" fill-opacity="0.36" stroke="#a47ad8" stroke-opacity="0.25" stroke-width="0.6"/>
<circle cx="316.3" cy="784.1" r="3.0" fill="#a47ad8" fill-opacity="0.36" stroke="#a47ad8" stroke-opacity="0.25" stroke-width="0.6"/>
<circle cx="325.6" cy="743.5" r="3.0" fill="#a47ad8" fill-opacity="0.36" stroke="#a47ad8" stroke-opacity="0.25" stroke-width="0.6"/>
<circle cx="331.1" cy="743.2" r="3.0" fill="#a47ad8" fill-opacity="0.36" stroke="#a47ad8" stroke-opacity="0.25" stroke-width="0.6"/>
<circle cx="321.5" cy="774.7" r="3.0" fill="#a47ad8" fill-opacity="0.36" stroke="#a47ad8" stroke-opacity="0.25" stroke-width="0.6"/>
<circle cx="317.3" cy="756.6" r="3.0" fill="#a47ad8" fill-opacity="0.36" stroke="#a47ad8" stroke-opacity="0.25" stroke-width="0.6"/>
<circle cx="327.3" cy="766.6" r="3.0" fill="#a47ad8" fill-opacity="0.36" stroke="#a47ad8" stroke-opacity="0.25" stroke-width="0.6"/>
<circle cx="332.4" cy="759.3" r="3.0" fill="#a47ad8" fill-opacity="0.36" stroke="#a47ad8" stroke-opacity="0.25" stroke-width="0.6"/>
<circle cx="339.6" cy="776.5" r="3.0" fill="#a47ad8" fill-opacity="0.36" stroke="#a47ad8" stroke-opacity="0.25" stroke-width="0.6"/>
<circle cx="329.6" cy="750.9" r="3.0" fill="#a47ad8" fill-opacity="0.36" stroke="#a47ad8" stroke-opacity="0.25" stroke-width="0.6"/>
<circle cx="330.7" cy="784.6" r="3.0" fill="#a47ad8" fill-opacity="0.36" stroke="#a47ad8" stroke-opacity="0.25" stroke-width="0.6"/>
<circle cx="319.8" cy="773.0" r="3.0" fill="#a47ad8" fill-opacity="0.36" stroke="#a47ad8" stroke-opacity="0.25" stroke-width="0.6"/>
<circle cx="327.1" cy="761.8" r="3.0" fill="#a47ad8" fill-opacity="0.36" stroke="#a47ad8" stroke-opacity="0.25" stroke-width="0.6"/>
<circle cx="323.0" cy="780.8" r="3.0" fill="#a47ad8" fill-opacity="0.36" stroke="#a47ad8" stroke-opacity="0.25" stroke-width="0.6"/>
<circle cx="335.2" cy="767.2" r="3.0" fill="#a47ad8" fill-opacity="0.36" stroke="#a47ad8" stroke-opacity="0.25" stroke-width="0.6"/>
<circle cx="316.6" cy="762.3" r="3.0" fill="#a47ad8" fill-opacity="0.36" stroke="#a47ad8" stroke-opacity="0.25" stroke-width="0.6"/>
<circle cx="326.1" cy="768.3" r="3.0" fill="#a47ad8" fill-opacity="0.36" stroke="#a47ad8" stroke-opacity="0.25" stroke-width="0.6"/>
<circle cx="320.9" cy="750.1" r="3.0" fill="#a47ad8" fill-opacity="0.36" stroke="#a47ad8" stroke-opacity="0.25" stroke-width="0.6"/>
<circle cx="333.6" cy="709.0" r="3.0" fill="#a47ad8" fill-opacity="0.36" stroke="#a47ad8" stroke-opacity="0.25" stroke-width="0.6"/>
<circle cx="329.6" cy="733.0" r="3.0" fill="#a47ad8" fill-opacity="0.36" stroke="#a47ad8" stroke-opacity="0.25" stroke-width="0.6"/>
<line x1="328.3" y1="733.6" x2="328.3" y2="754.0" stroke="#333" stroke-width="1.6" />
<line x1="328.3" y1="778.7" x2="328.3" y2="789.0" stroke="#333" stroke-width="1.6" />
<rect x="314.6" y="754.0" width="27.4" height="24.7" fill="none" stroke="#333" stroke-width="1.6" />
<line x1="314.6" y1="770.8" x2="342.0" y2="770.8" stroke="#333" stroke-width="2.6" />
<rect x="198.7" y="662.0" width="150.6" height="168.2" fill="none" stroke="#333333" stroke-width="1.1" />
<line x1="220.1" y1="830.2" x2="220.1" y2="833.2" stroke="#333333" stroke-width="1.3" />
<line x1="256.1" y1="830.2" x2="256.1" y2="833.2" stroke="#333333" stroke-width="1.3" />
<line x1="292.1" y1="830.2" x2="292.1" y2="833.2" stroke="#333333" stroke-width="1.3" />
<line x1="328.3" y1="830.2" x2="328.3" y2="833.2" stroke="#333333" stroke-width="1.3" />
<text x="220.1" y="839.8" font-size="9" text-anchor="middle" fill="#4d4d4d" font-weight="normal" dominant-baseline="central" stroke="#4d4d4d" stroke-width="0.22" >Breast</text>
<text x="256.1" y="839.8" font-size="9" text-anchor="middle" fill="#4d4d4d" font-weight="normal" dominant-baseline="central" stroke="#4d4d4d" stroke-width="0.22" >Brain</text>
<text x="292.1" y="839.8" font-size="9" text-anchor="middle" fill="#4d4d4d" font-weight="normal" dominant-baseline="central" stroke="#4d4d4d" stroke-width="0.22" >Lung</text>
<text x="328.3" y="839.8" font-size="9" text-anchor="middle" fill="#4d4d4d" font-weight="normal" dominant-baseline="central" stroke="#4d4d4d" stroke-width="0.22" >Soft Tissue</text>
<line x1="38.3" y1="670.6" x2="41.5" y2="670.6" stroke="#333333" stroke-width="1.3" />
<text x="36" y="674.1" font-size="9.6" text-anchor="end" fill="#4d4d4d" stroke="#4d4d4d" stroke-width="0.15" letter-spacing="-0.55">10<tspan dy="-4.3" font-size="7" letter-spacing="-0.3">4</tspan></text>
<line x1="38.3" y1="697.9" x2="41.5" y2="697.9" stroke="#333333" stroke-width="1.3" />
<text x="36" y="701.4" font-size="9.6" text-anchor="end" fill="#4d4d4d" stroke="#4d4d4d" stroke-width="0.15" letter-spacing="-0.55">10<tspan dy="-4.3" font-size="7" letter-spacing="-0.3">3.5</tspan></text>
<line x1="38.3" y1="725.2" x2="41.5" y2="725.2" stroke="#333333" stroke-width="1.3" />
<text x="36" y="728.7" font-size="9.6" text-anchor="end" fill="#4d4d4d" stroke="#4d4d4d" stroke-width="0.15" letter-spacing="-0.55">10<tspan dy="-4.3" font-size="7" letter-spacing="-0.3">3</tspan></text>
<line x1="38.3" y1="752.5" x2="41.5" y2="752.5" stroke="#333333" stroke-width="1.3" />
<text x="36" y="756.0" font-size="9.6" text-anchor="end" fill="#4d4d4d" stroke="#4d4d4d" stroke-width="0.15" letter-spacing="-0.55">10<tspan dy="-4.3" font-size="7" letter-spacing="-0.3">2.5</tspan></text>
<line x1="38.3" y1="779.8" x2="41.5" y2="779.8" stroke="#333333" stroke-width="1.3" />
<text x="36" y="783.3" font-size="9.6" text-anchor="end" fill="#4d4d4d" stroke="#4d4d4d" stroke-width="0.15" letter-spacing="-0.55">10<tspan dy="-4.3" font-size="7" letter-spacing="-0.3">2</tspan></text>
<line x1="38.3" y1="807.1" x2="41.5" y2="807.1" stroke="#333333" stroke-width="1.3" />
<text x="36" y="810.6" font-size="9.6" text-anchor="end" fill="#4d4d4d" stroke="#4d4d4d" stroke-width="0.15" letter-spacing="-0.55">10<tspan dy="-4.3" font-size="7" letter-spacing="-0.3">1.5</tspan></text>
<text x="0.0" y="0.0" font-size="10.9" text-anchor="middle" fill="#000" font-weight="normal" dominant-baseline="central" stroke="#000" stroke-width="0.22" transform="translate(8,743.7) rotate(-90)">Normalized Expression</text>
<rect x="392.5" y="1.3" width="289.8" height="273.3" fill="#fff" stroke="none" stroke-width="1" />
<line x1="394.0" y1="1.3" x2="394.0" y2="274.6" stroke="#ebebeb" stroke-width="1" />
<line x1="451.3" y1="1.3" x2="451.3" y2="274.6" stroke="#ebebeb" stroke-width="1" />
<line x1="508.6" y1="1.3" x2="508.6" y2="274.6" stroke="#ebebeb" stroke-width="1" />
<line x1="565.9" y1="1.3" x2="565.9" y2="274.6" stroke="#ebebeb" stroke-width="1" />
<line x1="623.2" y1="1.3" x2="623.2" y2="274.6" stroke="#ebebeb" stroke-width="1" />
<line x1="680.5" y1="1.3" x2="680.5" y2="274.6" stroke="#ebebeb" stroke-width="1" />
<line x1="422.6" y1="1.3" x2="422.6" y2="274.6" stroke="#ebebeb" stroke-width="1.5" />
<line x1="537.2" y1="1.3" x2="537.2" y2="274.6" stroke="#ebebeb" stroke-width="1.5" />
<line x1="651.8" y1="1.3" x2="651.8" y2="274.6" stroke="#ebebeb" stroke-width="1.5" />
<line x1="392.5" y1="262.8" x2="682.3" y2="262.8" stroke="#ebebeb" stroke-width="1.1" />
<line x1="392.5" y1="236.2" x2="682.3" y2="236.2" stroke="#ebebeb" stroke-width="1.1" />
<line x1="392.5" y1="209.7" x2="682.3" y2="209.7" stroke="#ebebeb" stroke-width="1.1" />
<line x1="392.5" y1="183.2" x2="682.3" y2="183.2" stroke="#ebebeb" stroke-width="1.1" />
<line x1="392.5" y1="156.6" x2="682.3" y2="156.6" stroke="#ebebeb" stroke-width="1.1" />
<line x1="392.5" y1="130.1" x2="682.3" y2="130.1" stroke="#ebebeb" stroke-width="1.1" />
<line x1="392.5" y1="103.5" x2="682.3" y2="103.5" stroke="#ebebeb" stroke-width="1.1" />
<line x1="392.5" y1="77.0" x2="682.3" y2="77.0" stroke="#ebebeb" stroke-width="1.1" />
<line x1="392.5" y1="50.4" x2="682.3" y2="50.4" stroke="#ebebeb" stroke-width="1.1" />
<line x1="392.5" y1="23.9" x2="682.3" y2="23.9" stroke="#ebebeb" stroke-width="1.1" />
<line x1="479.9" y1="274.6" x2="479.9" y2="1.3" stroke="#bdbdbd" stroke-width="1.5" stroke-dasharray="8.15,8.15"/>
<line x1="594.5" y1="274.6" x2="594.5" y2="1.3" stroke="#bdbdbd" stroke-width="1.5" stroke-dasharray="8.15,8.15"/>
<line x1="392.5" y1="249.0" x2="682.3" y2="249.0" stroke="#bdbdbd" stroke-width="1.5" stroke-dasharray="8.15,8.15"/>
<text x="539.0" y="44.3" font-size="11.8" text-anchor="middle" fill="#000" font-weight="normal" dominant-baseline="central" stroke="#000" stroke-width="0.22" >Both PanCK-</text>
<text x="539.0" y="58.5" font-size="11.8" text-anchor="middle" fill="#000" font-weight="normal" dominant-baseline="central" stroke="#000" stroke-width="0.22" >and PanCK+</text>
<text x="539.0" y="72.7" font-size="11.8" text-anchor="middle" fill="#000" font-weight="normal" dominant-baseline="central" stroke="#000" stroke-width="0.22" >Segments</text>
<line x1="456.0" y1="159.5" x2="474.3" y2="161.4" stroke="#a0a0a0" stroke-width="1" />
<line x1="502.8" y1="183.8" x2="481.8" y2="191.8" stroke="#a0a0a0" stroke-width="1" />
<line x1="459.6" y1="185.9" x2="467.5" y2="169.8" stroke="#a0a0a0" stroke-width="1" />
<circle cx="508.0" cy="252.8" r="2.6" fill="#bdbdbd"/>
<circle cx="514.0" cy="255.2" r="2.6" fill="#bdbdbd"/>
<circle cx="516.1" cy="252.0" r="2.6" fill="#bdbdbd"/>
<circle cx="518.7" cy="251.0" r="2.6" fill="#bdbdbd"/>
<circle cx="527.1" cy="257.0" r="2.6" fill="#bdbdbd"/>
<circle cx="528.4" cy="252.0" r="2.6" fill="#bdbdbd"/>
<circle cx="529.8" cy="254.4" r="2.6" fill="#bdbdbd"/>
<circle cx="531.1" cy="258.3" r="2.6" fill="#bdbdbd"/>
<circle cx="533.7" cy="259.6" r="2.6" fill="#bdbdbd"/>
<circle cx="536.3" cy="261.5" r="2.6" fill="#bdbdbd"/>
<circle cx="538.2" cy="262.8" r="2.6" fill="#bdbdbd"/>
<circle cx="553.4" cy="256.5" r="2.6" fill="#bdbdbd"/>
<circle cx="554.7" cy="250.2" r="2.6" fill="#bdbdbd"/>
<circle cx="524.0" cy="253.0" r="2.6" fill="#bdbdbd"/>
<circle cx="526.0" cy="255.0" r="2.6" fill="#bdbdbd"/>
<circle cx="530.0" cy="256.5" r="2.6" fill="#bdbdbd"/>
<circle cx="534.5" cy="260.6" r="2.6" fill="#bdbdbd"/>
<circle cx="520.5" cy="250.5" r="2.6" fill="#bdbdbd"/>
<circle cx="512.0" cy="251.5" r="2.6" fill="#bdbdbd"/>
<circle cx="516.1" cy="248.3" r="2.6" fill="#4a7fc2"/>
<circle cx="417.2" cy="96.9" r="2.6" fill="#e0262a"/>
<circle cx="445.6" cy="104.8" r="2.6" fill="#e0262a"/>
<circle cx="638.3" cy="13.2" r="2.6" fill="#e0262a"/>
<circle cx="648.6" cy="155.3" r="2.6" fill="#e0262a"/>
<circle cx="568.2" cy="163.0" r="2.6" fill="#e0262a"/>
<circle cx="604.3" cy="191.7" r="2.6" fill="#e0262a"/>
<circle cx="580.9" cy="199.4" r="2.6" fill="#e0262a"/>
<circle cx="490.6" cy="139.4" r="2.6" fill="#e0262a"/>
<circle cx="477.8" cy="143.9" r="2.6" fill="#e0262a"/>
<circle cx="491.8" cy="155.3" r="2.6" fill="#e0262a"/>
<circle cx="473.8" cy="160.6" r="2.6" fill="#e0262a"/>
<circle cx="475.5" cy="162.2" r="2.6" fill="#e0262a"/>
<circle cx="467.5" cy="169.8" r="2.6" fill="#e0262a"/>
<circle cx="448.4" cy="173.1" r="2.6" fill="#e0262a"/>
<circle cx="474.5" cy="187.6" r="2.6" fill="#e0262a"/>
<circle cx="481.5" cy="192.2" r="2.6" fill="#e0262a"/>
<circle cx="479.9" cy="197.1" r="2.6" fill="#e0262a"/>
<circle cx="494.8" cy="200.9" r="2.6" fill="#e0262a"/>
<circle cx="500.0" cy="207.9" r="2.6" fill="#e0262a"/>
<circle cx="475.9" cy="209.3" r="2.6" fill="#e0262a"/>
<circle cx="498.1" cy="212.8" r="2.6" fill="#e0262a"/>
<circle cx="489.5" cy="215.3" r="2.6" fill="#e0262a"/>
<circle cx="497.2" cy="218.9" r="2.6" fill="#e0262a"/>
<circle cx="504.4" cy="222.6" r="2.6" fill="#e0262a"/>
<circle cx="482.9" cy="223.1" r="2.6" fill="#e0262a"/>
<circle cx="492.5" cy="223.8" r="2.6" fill="#e0262a"/>
<circle cx="489.5" cy="227.5" r="2.6" fill="#e0262a"/>
<circle cx="510.5" cy="228.0" r="2.6" fill="#e0262a"/>
<circle cx="480.1" cy="231.0" r="2.6" fill="#e0262a"/>
<circle cx="500.0" cy="232.2" r="2.6" fill="#e0262a"/>
<circle cx="502.0" cy="235.7" r="2.6" fill="#e0262a"/>
<circle cx="510.5" cy="235.0" r="2.6" fill="#e0262a"/>
<circle cx="506.8" cy="238.9" r="2.6" fill="#e0262a"/>
<circle cx="499.0" cy="213.1" r="2.6" fill="#e0262a"/>
<circle cx="504.5" cy="222.0" r="2.6" fill="#e0262a"/>
<circle cx="506.1" cy="238.9" r="2.6" fill="#e0262a"/>
<circle cx="507.4" cy="241.2" r="2.6" fill="#e0262a"/>
<circle cx="510.6" cy="230.2" r="2.6" fill="#e0262a"/>
<circle cx="512.2" cy="244.4" r="2.6" fill="#e0262a"/>
<circle cx="514.5" cy="245.2" r="2.6" fill="#e0262a"/>
<circle cx="516.1" cy="243.6" r="2.6" fill="#e0262a"/>
<circle cx="517.9" cy="246.0" r="2.6" fill="#e0262a"/>
<circle cx="521.9" cy="247.0" r="2.6" fill="#e0262a"/>
<circle cx="565.0" cy="241.0" r="2.6" fill="#e0262a"/>
<circle cx="567.0" cy="241.3" r="2.6" fill="#e0262a"/>
<circle cx="566.5" cy="246.8" r="2.6" fill="#e0262a"/>
<circle cx="559.7" cy="246.1" r="2.6" fill="#e0262a"/>
<circle cx="521.2" cy="247.3" r="2.6" fill="#e0262a"/>
<text x="409.2" y="89.4" font-size="10.2" text-anchor="middle" fill="#333333" font-weight="normal" dominant-baseline="central" stroke="#333333" stroke-width="0.22" >SMA</text>
<text x="454.3" y="112.8" font-size="10.2" text-anchor="middle" fill="#333333" font-weight="normal" dominant-baseline="central" stroke="#333333" stroke-width="0.22" >Bcl-2</text>
<text x="629.9" y="21.6" font-size="10.2" text-anchor="middle" fill="#333333" font-weight="normal" dominant-baseline="central" stroke="#333333" stroke-width="0.22" >Ki-67</text>
<text x="640.4" y="164.2" font-size="10.2" text-anchor="middle" fill="#333333" font-weight="normal" dominant-baseline="central" stroke="#333333" stroke-width="0.22" >Her2</text>
<text x="559.7" y="171.0" font-size="10.2" text-anchor="middle" fill="#333333" font-weight="normal" dominant-baseline="central" stroke="#333333" stroke-width="0.22" >PARP</text>
<text x="612.7" y="183.5" font-size="10.2" text-anchor="middle" fill="#333333" font-weight="normal" dominant-baseline="central" stroke="#333333" stroke-width="0.22" >EpCAM</text>
<text x="578.5" y="207.6" font-size="10.2" text-anchor="middle" fill="#333333" font-weight="normal" dominant-baseline="central" stroke="#333333" stroke-width="0.22" >Phospho-AKT1.(S473)</text>
<text x="499.0" y="131.5" font-size="10.2" text-anchor="middle" fill="#333333" font-weight="normal" dominant-baseline="central" stroke="#333333" stroke-width="0.22" >BIM</text>
<text x="469.1" y="136.2" font-size="10.2" text-anchor="middle" fill="#333333" font-weight="normal" dominant-baseline="central" stroke="#333333" stroke-width="0.22" >CD20</text>
<text x="504.6" y="147.4" font-size="10.2" text-anchor="middle" fill="#333333" font-weight="normal" dominant-baseline="central" stroke="#333333" stroke-width="0.22" >BAD</text>
<text x="474.3" y="152.0" font-size="10.2" text-anchor="middle" fill="#333333" font-weight="normal" dominant-baseline="central" stroke="#333333" stroke-width="0.22" >CD27</text>
<text x="442.0" y="159.5" font-size="10.2" text-anchor="middle" fill="#333333" font-weight="normal" dominant-baseline="central" stroke="#333333" stroke-width="0.22" >Tim-3</text>
<text x="434.1" y="173.1" font-size="10.2" text-anchor="middle" fill="#333333" font-weight="normal" dominant-baseline="central" stroke="#333333" stroke-width="0.22" >CD3</text>
<text x="479.0" y="178.2" font-size="10.2" text-anchor="middle" fill="#333333" font-weight="normal" dominant-baseline="central" stroke="#333333" stroke-width="0.22" >4-1BB</text>
<text x="512.6" y="179.1" font-size="10.2" text-anchor="middle" fill="#333333" font-weight="normal" dominant-baseline="central" stroke="#333333" stroke-width="0.22" >CD56</text>
<text x="447.9" y="187.1" font-size="10.2" text-anchor="middle" fill="#333333" font-weight="normal" dominant-baseline="central" stroke="#333333" stroke-width="0.22" >CD8</text>
<text x="504.2" y="192.9" font-size="10.2" text-anchor="middle" fill="#333333" font-weight="normal" dominant-baseline="central" stroke="#333333" stroke-width="0.22" >INPP4B</text>
<text x="464.7" y="201.1" font-size="10.2" text-anchor="middle" fill="#333333" font-weight="normal" dominant-baseline="central" stroke="#333333" stroke-width="0.22" >CD4</text>
<text x="467.3" y="217.5" font-size="10.2" text-anchor="middle" fill="#333333" font-weight="normal" dominant-baseline="central" stroke="#333333" stroke-width="0.22" >ER-alpha</text>
<text x="508.9" y="216.5" font-size="10.2" text-anchor="middle" fill="#333333" font-weight="normal" dominant-baseline="central" stroke="#333333" stroke-width="0.22" >PD-1</text>
<text x="393.3" y="245.3" font-size="10" text-anchor="start" fill="#333333" font-weight="normal" dominant-baseline="central" stroke="#333333" stroke-width="0.22" >P-value = 0.05</text>
<rect x="600.5" y="70.5" width="79.8" height="45.9" fill="#f7f7f7" stroke="#3a2a20" stroke-width="1.4" />
<circle cx="612.0" cy="79.8" r="5.5" fill="#e0262a"/>
<text x="623.3" y="79.8" font-size="8" text-anchor="start" fill="#4d4d4d" font-weight="normal" dominant-baseline="central" stroke="#4d4d4d" stroke-width="0.22" letter-spacing="-0.18">P-adjust &lt; 0.05</text>
<circle cx="612.0" cy="93.7" r="5.5" fill="#4a7fc2"/>
<text x="623.9" y="93.7" font-size="8" text-anchor="start" fill="#4d4d4d" font-weight="normal" dominant-baseline="central" stroke="#4d4d4d" stroke-width="0.22" letter-spacing="-0.18">P-value &lt; 0.05</text>
<circle cx="612.0" cy="107.7" r="5.5" fill="#bdbdbd"/>
<text x="623.9" y="107.7" font-size="8" text-anchor="start" fill="#4d4d4d" font-weight="normal" dominant-baseline="central" stroke="#4d4d4d" stroke-width="0.22" letter-spacing="-0.18">P-value &gt; 0.05</text>
<rect x="392.5" y="1.3" width="289.8" height="273.3" fill="none" stroke="#333333" stroke-width="1.1" />
<line x1="422.6" y1="274.6" x2="422.6" y2="278.0" stroke="#333333" stroke-width="1.4" />
<text x="422.6" y="282.3" font-size="9" text-anchor="middle" fill="#4d4d4d" font-weight="normal" dominant-baseline="central" stroke="#4d4d4d" stroke-width="0.22" letter-spacing="-0.6">-2</text>
<line x1="479.9" y1="274.6" x2="479.9" y2="278.0" stroke="#333333" stroke-width="1.4" />
<text x="479.9" y="282.3" font-size="9" text-anchor="middle" fill="#4d4d4d" font-weight="normal" dominant-baseline="central" stroke="#4d4d4d" stroke-width="0.22" letter-spacing="-0.6">-1</text>
<line x1="537.2" y1="274.6" x2="537.2" y2="278.0" stroke="#333333" stroke-width="1.4" />
<text x="537.2" y="282.3" font-size="9" text-anchor="middle" fill="#4d4d4d" font-weight="normal" dominant-baseline="central" stroke="#4d4d4d" stroke-width="0.22" letter-spacing="-0.6">0</text>
<line x1="594.5" y1="274.6" x2="594.5" y2="278.0" stroke="#333333" stroke-width="1.4" />
<text x="594.5" y="282.3" font-size="9" text-anchor="middle" fill="#4d4d4d" font-weight="normal" dominant-baseline="central" stroke="#4d4d4d" stroke-width="0.22" letter-spacing="-0.6">1</text>
<line x1="651.8" y1="274.6" x2="651.8" y2="278.0" stroke="#333333" stroke-width="1.4" />
<text x="651.8" y="282.3" font-size="9" text-anchor="middle" fill="#4d4d4d" font-weight="normal" dominant-baseline="central" stroke="#4d4d4d" stroke-width="0.22" letter-spacing="-0.6">2</text>
<line x1="389.1" y1="262.8" x2="392.5" y2="262.8" stroke="#333333" stroke-width="1.4" />
<text x="387.5" y="262.8" font-size="9" text-anchor="end" fill="#4d4d4d" font-weight="normal" dominant-baseline="central" stroke="#4d4d4d" stroke-width="0.22" letter-spacing="-0.6">0</text>
<line x1="389.1" y1="209.7" x2="392.5" y2="209.7" stroke="#333333" stroke-width="1.4" />
<text x="387.5" y="209.7" font-size="9" text-anchor="end" fill="#4d4d4d" font-weight="normal" dominant-baseline="central" stroke="#4d4d4d" stroke-width="0.22" letter-spacing="-0.6">5</text>
<line x1="389.1" y1="156.6" x2="392.5" y2="156.6" stroke="#333333" stroke-width="1.4" />
<text x="387.5" y="156.6" font-size="9" text-anchor="end" fill="#4d4d4d" font-weight="normal" dominant-baseline="central" stroke="#4d4d4d" stroke-width="0.22" letter-spacing="-0.6">10</text>
<line x1="389.1" y1="103.5" x2="392.5" y2="103.5" stroke="#333333" stroke-width="1.4" />
<text x="387.5" y="103.5" font-size="9" text-anchor="end" fill="#4d4d4d" font-weight="normal" dominant-baseline="central" stroke="#4d4d4d" stroke-width="0.22" letter-spacing="-0.6">15</text>
<line x1="389.1" y1="50.4" x2="392.5" y2="50.4" stroke="#333333" stroke-width="1.4" />
<text x="387.5" y="50.4" font-size="9" text-anchor="end" fill="#4d4d4d" font-weight="normal" dominant-baseline="central" stroke="#4d4d4d" stroke-width="0.22" letter-spacing="-0.6">20</text>
<text x="466.4" y="293.5" font-size="10" text-anchor="start" fill="#000" font-weight="normal" dominant-baseline="central" stroke="#000" stroke-width="0.22" >Primary</text>
<text x="513.2" y="293.5" font-size="10" text-anchor="start" fill="#000" font-weight="normal" dominant-baseline="central" stroke="#000" stroke-width="0.22" >log2 FC</text>
<text x="561.5" y="293.5" font-size="10" text-anchor="start" fill="#000" font-weight="normal" dominant-baseline="central" stroke="#000" stroke-width="0.22" >Metastasis</text>
<path d="M502.9,293.7 H512.3 M504.9,291.8 L502.7,293.7 L504.9,295.6" stroke="#000" stroke-width="0.8" fill="none"/>
<path d="M551.2,293.7 H560.6 M558.6,291.8 L560.8,293.7 L558.6,295.6" stroke="#000" stroke-width="0.8" fill="none"/>
<text x="0.0" y="0.0" font-size="10" text-anchor="middle" fill="#000" font-weight="normal" dominant-baseline="central" stroke="#000" stroke-width="0.22" transform="translate(371,138.2) rotate(-90)">Significance: -log10(P)</text>
<rect x="392.5" y="305.6" width="288.2" height="271.7" fill="#fff" stroke="none" stroke-width="1" />
<line x1="446.8" y1="305.6" x2="446.8" y2="577.3" stroke="#ebebeb" stroke-width="1" />
<line x1="506.7" y1="305.6" x2="506.7" y2="577.3" stroke="#ebebeb" stroke-width="1" />
<line x1="566.6" y1="305.6" x2="566.6" y2="577.3" stroke="#ebebeb" stroke-width="1" />
<line x1="626.5" y1="305.6" x2="626.5" y2="577.3" stroke="#ebebeb" stroke-width="1" />
<line x1="416.8" y1="305.6" x2="416.8" y2="577.3" stroke="#ebebeb" stroke-width="1.5" />
<line x1="536.6" y1="305.6" x2="536.6" y2="577.3" stroke="#ebebeb" stroke-width="1.5" />
<line x1="656.4" y1="305.6" x2="656.4" y2="577.3" stroke="#ebebeb" stroke-width="1.5" />
<line x1="392.5" y1="565.1" x2="680.7" y2="565.1" stroke="#ebebeb" stroke-width="1.1" />
<line x1="392.5" y1="524.5" x2="680.7" y2="524.5" stroke="#ebebeb" stroke-width="1.1" />
<line x1="392.5" y1="483.9" x2="680.7" y2="483.9" stroke="#ebebeb" stroke-width="1.1" />
<line x1="392.5" y1="443.3" x2="680.7" y2="443.3" stroke="#ebebeb" stroke-width="1.1" />
<line x1="392.5" y1="402.7" x2="680.7" y2="402.7" stroke="#ebebeb" stroke-width="1.1" />
<line x1="392.5" y1="362.1" x2="680.7" y2="362.1" stroke="#ebebeb" stroke-width="1.1" />
<line x1="392.5" y1="321.5" x2="680.7" y2="321.5" stroke="#ebebeb" stroke-width="1.1" />
<line x1="476.7" y1="577.3" x2="476.7" y2="305.6" stroke="#bdbdbd" stroke-width="1.5" stroke-dasharray="8.15,8.15"/>
<line x1="596.5" y1="577.3" x2="596.5" y2="305.6" stroke="#bdbdbd" stroke-width="1.5" stroke-dasharray="8.15,8.15"/>
<line x1="392.5" y1="544.0" x2="680.7" y2="544.0" stroke="#bdbdbd" stroke-width="1.5" stroke-dasharray="8.15,8.15"/>
<text x="538.8" y="338.4" font-size="11.8" text-anchor="middle" fill="#000" font-weight="normal" dominant-baseline="central" stroke="#000" stroke-width="0.22" >PankCK-</text>
<text x="538.8" y="352.6" font-size="11.8" text-anchor="middle" fill="#000" font-weight="normal" dominant-baseline="central" stroke="#000" stroke-width="0.22" >Segments</text>
<text x="538.8" y="366.8" font-size="11.8" text-anchor="middle" fill="#000" font-weight="normal" dominant-baseline="central" stroke="#000" stroke-width="0.22" >Only</text>
<line x1="534.3" y1="488.1" x2="496.2" y2="501.7" stroke="#a0a0a0" stroke-width="1" />
<line x1="462.0" y1="510.4" x2="496.2" y2="507.8" stroke="#a0a0a0" stroke-width="1" />
<line x1="489.6" y1="538.6" x2="496.2" y2="532.0" stroke="#a0a0a0" stroke-width="1" />
<line x1="501.5" y1="551.5" x2="500.6" y2="547.7" stroke="#a0a0a0" stroke-width="1" />
<line x1="572.8" y1="512.0" x2="568.6" y2="517.3" stroke="#a0a0a0" stroke-width="1" />
<line x1="563.3" y1="537.5" x2="563.3" y2="544.0" stroke="#a0a0a0" stroke-width="1" />
<circle cx="500.1" cy="547.7" r="2.6" fill="#bdbdbd"/>
<circle cx="506.7" cy="548.2" r="2.6" fill="#bdbdbd"/>
<circle cx="510.6" cy="550.4" r="2.6" fill="#bdbdbd"/>
<circle cx="513.3" cy="553.5" r="2.6" fill="#bdbdbd"/>
<circle cx="514.6" cy="555.6" r="2.6" fill="#bdbdbd"/>
<circle cx="525.1" cy="559.5" r="2.6" fill="#bdbdbd"/>
<circle cx="529.0" cy="561.4" r="2.6" fill="#bdbdbd"/>
<circle cx="535.6" cy="563.5" r="2.6" fill="#bdbdbd"/>
<circle cx="542.2" cy="561.4" r="2.6" fill="#bdbdbd"/>
<circle cx="533.0" cy="559.5" r="2.6" fill="#bdbdbd"/>
<circle cx="518.0" cy="556.0" r="2.6" fill="#bdbdbd"/>
<circle cx="521.0" cy="558.0" r="2.6" fill="#bdbdbd"/>
<circle cx="527.0" cy="560.0" r="2.6" fill="#bdbdbd"/>
<circle cx="531.0" cy="562.5" r="2.6" fill="#bdbdbd"/>
<circle cx="537.5" cy="564.8" r="2.6" fill="#bdbdbd"/>
<circle cx="509.0" cy="546.0" r="2.6" fill="#bdbdbd"/>
<circle cx="515.0" cy="549.0" r="2.6" fill="#bdbdbd"/>
<circle cx="522.0" cy="557.0" r="2.6" fill="#bdbdbd"/>
<circle cx="530.0" cy="563.5" r="2.6" fill="#bdbdbd"/>
<circle cx="538.2" cy="564.8" r="2.6" fill="#bdbdbd"/>
<circle cx="537.0" cy="560.5" r="2.6" fill="#bdbdbd"/>
<circle cx="526.0" cy="556.0" r="2.6" fill="#bdbdbd"/>
<circle cx="520.0" cy="553.0" r="2.6" fill="#bdbdbd"/>
<circle cx="505.4" cy="543.3" r="2.6" fill="#4a7fc2"/>
<circle cx="511.4" cy="542.5" r="2.6" fill="#4a7fc2"/>
<circle cx="517.2" cy="544.0" r="2.6" fill="#4a7fc2"/>
<circle cx="642.4" cy="317.9" r="2.6" fill="#e0262a"/>
<circle cx="656.1" cy="439.5" r="2.6" fill="#e0262a"/>
<circle cx="462.2" cy="398.9" r="2.6" fill="#e0262a"/>
<circle cx="484.4" cy="419.8" r="2.6" fill="#e0262a"/>
<circle cx="479.6" cy="427.5" r="2.6" fill="#e0262a"/>
<circle cx="461.0" cy="429.2" r="2.6" fill="#e0262a"/>
<circle cx="477.8" cy="465.7" r="2.6" fill="#e0262a"/>
<circle cx="483.3" cy="465.2" r="2.6" fill="#e0262a"/>
<circle cx="468.1" cy="480.0" r="2.6" fill="#e0262a"/>
<circle cx="469.4" cy="481.5" r="2.6" fill="#e0262a"/>
<circle cx="482.8" cy="476.3" r="2.6" fill="#e0262a"/>
<circle cx="475.4" cy="494.4" r="2.6" fill="#e0262a"/>
<circle cx="498.0" cy="493.6" r="2.6" fill="#e0262a"/>
<circle cx="467.6" cy="504.6" r="2.6" fill="#e0262a"/>
<circle cx="494.9" cy="502.0" r="2.6" fill="#e0262a"/>
<circle cx="496.2" cy="507.5" r="2.6" fill="#e0262a"/>
<circle cx="501.4" cy="508.8" r="2.6" fill="#e0262a"/>
<circle cx="500.1" cy="511.5" r="2.6" fill="#e0262a"/>
<circle cx="502.8" cy="513.6" r="2.6" fill="#e0262a"/>
<circle cx="504.1" cy="524.9" r="2.6" fill="#e0262a"/>
<circle cx="496.2" cy="526.7" r="2.6" fill="#e0262a"/>
<circle cx="498.0" cy="528.0" r="2.6" fill="#e0262a"/>
<circle cx="500.7" cy="531.7" r="2.6" fill="#e0262a"/>
<circle cx="496.2" cy="533.0" r="2.6" fill="#e0262a"/>
<circle cx="593.6" cy="477.1" r="2.6" fill="#e0262a"/>
<circle cx="615.1" cy="485.4" r="2.6" fill="#e0262a"/>
<circle cx="567.9" cy="518.0" r="2.6" fill="#e0262a"/>
<circle cx="555.8" cy="528.5" r="2.6" fill="#e0262a"/>
<circle cx="580.8" cy="525.4" r="2.6" fill="#e0262a"/>
<circle cx="562.7" cy="532.0" r="2.6" fill="#e0262a"/>
<circle cx="571.9" cy="529.3" r="2.6" fill="#e0262a"/>
<circle cx="570.6" cy="532.7" r="2.6" fill="#e0262a"/>
<circle cx="564.5" cy="537.2" r="2.6" fill="#e0262a"/>
<circle cx="567.7" cy="538.8" r="2.6" fill="#e0262a"/>
<text x="658.5" y="312.3" font-size="10.2" text-anchor="middle" fill="#333333" font-weight="normal" dominant-baseline="central" stroke="#333333" stroke-width="0.22" >Ki-67</text>
<text x="647.7" y="447.2" font-size="10.2" text-anchor="middle" fill="#333333" font-weight="normal" dominant-baseline="central" stroke="#333333" stroke-width="0.22" >Her2</text>
<text x="470.2" y="391.4" font-size="10.2" text-anchor="middle" fill="#333333" font-weight="normal" dominant-baseline="central" stroke="#333333" stroke-width="0.22" >CD27</text>
<text x="492.8" y="412.3" font-size="10.2" text-anchor="middle" fill="#333333" font-weight="normal" dominant-baseline="central" stroke="#333333" stroke-width="0.22" >BIM</text>
<text x="488.7" y="435.2" font-size="10.2" text-anchor="middle" fill="#333333" font-weight="normal" dominant-baseline="central" stroke="#333333" stroke-width="0.22" >BAD</text>
<text x="452.6" y="437.2" font-size="10.2" text-anchor="middle" fill="#333333" font-weight="normal" dominant-baseline="central" stroke="#333333" stroke-width="0.22" >Bcl-2</text>
<text x="460.7" y="458.4" font-size="10.2" text-anchor="middle" fill="#333333" font-weight="normal" dominant-baseline="central" stroke="#333333" stroke-width="0.22" >CD20</text>
<text x="498.8" y="457.9" font-size="10.2" text-anchor="middle" fill="#333333" font-weight="normal" dominant-baseline="central" stroke="#333333" stroke-width="0.22" >INPP4B</text>
<text x="458.9" y="472.8" font-size="10.2" text-anchor="middle" fill="#333333" font-weight="normal" dominant-baseline="central" stroke="#333333" stroke-width="0.22" >4-1BB</text>
<text x="500.1" y="472.8" font-size="10.2" text-anchor="middle" fill="#333333" font-weight="normal" dominant-baseline="central" stroke="#333333" stroke-width="0.22" >Tim-3</text>
<text x="483.8" y="487.3" font-size="10.2" text-anchor="middle" fill="#333333" font-weight="normal" dominant-baseline="central" stroke="#333333" stroke-width="0.22" >CD8</text>
<text x="515.1" y="487.3" font-size="10.2" text-anchor="middle" fill="#333333" font-weight="normal" dominant-baseline="central" stroke="#333333" stroke-width="0.22" >CD25</text>
<text x="557.9" y="487.8" font-size="10.2" text-anchor="middle" fill="#333333" font-weight="normal" dominant-baseline="central" stroke="#333333" stroke-width="0.22" >NY-ESO-1</text>
<text x="455.0" y="496.5" font-size="10.2" text-anchor="middle" fill="#333333" font-weight="normal" dominant-baseline="central" stroke="#333333" stroke-width="0.22" >CD3</text>
<text x="482.5" y="502.3" font-size="10.2" text-anchor="middle" fill="#333333" font-weight="normal" dominant-baseline="central" stroke="#333333" stroke-width="0.22" >SMA</text>
<text x="518.0" y="501.7" font-size="10.2" text-anchor="middle" fill="#333333" font-weight="normal" dominant-baseline="central" stroke="#333333" stroke-width="0.22" >CTLA4</text>
<text x="446.3" y="510.4" font-size="10.2" text-anchor="middle" fill="#333333" font-weight="normal" dominant-baseline="central" stroke="#333333" stroke-width="0.22" >GZMA</text>
<text x="482.0" y="516.2" font-size="10.2" text-anchor="middle" fill="#333333" font-weight="normal" dominant-baseline="central" stroke="#333333" stroke-width="0.22" >VISTA</text>
<text x="517.7" y="517.8" font-size="10.2" text-anchor="middle" fill="#333333" font-weight="normal" dominant-baseline="central" stroke="#333333" stroke-width="0.22" >PD-1</text>
<text x="479.9" y="530.1" font-size="10.2" text-anchor="middle" fill="#333333" font-weight="normal" dominant-baseline="central" stroke="#333333" stroke-width="0.22" >ICOS</text>
<text x="517.7" y="534.1" font-size="10.2" text-anchor="middle" fill="#333333" font-weight="normal" dominant-baseline="central" stroke="#333333" stroke-width="0.22" >BCL6</text>
<text x="485.2" y="544.3" font-size="10.2" text-anchor="middle" fill="#333333" font-weight="normal" dominant-baseline="central" stroke="#333333" stroke-width="0.22" >CD56</text>
<text x="564.0" y="551.7" font-size="10.2" text-anchor="middle" fill="#333333" font-weight="normal" dominant-baseline="central" stroke="#333333" stroke-width="0.22" >Beta-2-microglobulin</text>
<text x="500.1" y="557.4" font-size="10.2" text-anchor="middle" fill="#333333" font-weight="normal" dominant-baseline="central" stroke="#333333" stroke-width="0.22" >CD4</text>
<text x="585.0" y="468.9" font-size="10.2" text-anchor="middle" fill="#333333" font-weight="normal" dominant-baseline="central" stroke="#333333" stroke-width="0.22" >CD68</text>
<text x="623.6" y="493.4" font-size="10.2" text-anchor="middle" fill="#333333" font-weight="normal" dominant-baseline="central" stroke="#333333" stroke-width="0.22" >EpCAM</text>
<text x="577.1" y="507.0" font-size="10.2" text-anchor="middle" fill="#333333" font-weight="normal" dominant-baseline="central" stroke="#333333" stroke-width="0.22" >STING</text>
<text x="550.1" y="519.6" font-size="10.2" text-anchor="middle" fill="#333333" font-weight="normal" dominant-baseline="central" stroke="#333333" stroke-width="0.22" >PARP</text>
<text x="604.1" y="521.6" font-size="10.2" text-anchor="middle" fill="#333333" font-weight="normal" dominant-baseline="central" stroke="#333333" stroke-width="0.22" >HLA-DR</text>
<text x="581.3" y="536.8" font-size="10.2" text-anchor="middle" fill="#333333" font-weight="normal" dominant-baseline="central" stroke="#333333" stroke-width="0.22" >CD40</text>
<text x="393.3" y="537.8" font-size="10" text-anchor="start" fill="#333333" font-weight="normal" dominant-baseline="central" stroke="#333333" stroke-width="0.22" >P-value = 0.05</text>
<rect x="600.5" y="366.8" width="79.8" height="46.1" fill="#f7f7f7" stroke="#3a2a20" stroke-width="1.4" />
<circle cx="612.0" cy="376.1" r="5.5" fill="#e0262a"/>
<text x="623.3" y="376.1" font-size="8" text-anchor="start" fill="#4d4d4d" font-weight="normal" dominant-baseline="central" stroke="#4d4d4d" stroke-width="0.22" letter-spacing="-0.18">P-adjust &lt; 0.05</text>
<circle cx="612.0" cy="390.0" r="5.5" fill="#4a7fc2"/>
<text x="623.9" y="390.0" font-size="8" text-anchor="start" fill="#4d4d4d" font-weight="normal" dominant-baseline="central" stroke="#4d4d4d" stroke-width="0.22" letter-spacing="-0.18">P-value &lt; 0.05</text>
<circle cx="612.0" cy="404.0" r="5.5" fill="#bdbdbd"/>
<text x="623.9" y="404.0" font-size="8" text-anchor="start" fill="#4d4d4d" font-weight="normal" dominant-baseline="central" stroke="#4d4d4d" stroke-width="0.22" letter-spacing="-0.18">P-value &gt; 0.05</text>
<rect x="392.5" y="305.6" width="288.2" height="271.7" fill="none" stroke="#333333" stroke-width="1.1" />
<line x1="416.8" y1="577.3" x2="416.8" y2="580.7" stroke="#333333" stroke-width="1.4" />
<text x="416.8" y="585.4" font-size="9" text-anchor="middle" fill="#4d4d4d" font-weight="normal" dominant-baseline="central" stroke="#4d4d4d" stroke-width="0.22" letter-spacing="-0.6">-2</text>
<line x1="476.7" y1="577.3" x2="476.7" y2="580.7" stroke="#333333" stroke-width="1.4" />
<text x="476.7" y="585.4" font-size="9" text-anchor="middle" fill="#4d4d4d" font-weight="normal" dominant-baseline="central" stroke="#4d4d4d" stroke-width="0.22" letter-spacing="-0.6">-1</text>
<line x1="536.6" y1="577.3" x2="536.6" y2="580.7" stroke="#333333" stroke-width="1.4" />
<text x="536.6" y="585.4" font-size="9" text-anchor="middle" fill="#4d4d4d" font-weight="normal" dominant-baseline="central" stroke="#4d4d4d" stroke-width="0.22" letter-spacing="-0.6">0</text>
<line x1="596.5" y1="577.3" x2="596.5" y2="580.7" stroke="#333333" stroke-width="1.4" />
<text x="596.5" y="585.4" font-size="9" text-anchor="middle" fill="#4d4d4d" font-weight="normal" dominant-baseline="central" stroke="#4d4d4d" stroke-width="0.22" letter-spacing="-0.6">1</text>
<line x1="656.4" y1="577.3" x2="656.4" y2="580.7" stroke="#333333" stroke-width="1.4" />
<text x="656.4" y="585.4" font-size="9" text-anchor="middle" fill="#4d4d4d" font-weight="normal" dominant-baseline="central" stroke="#4d4d4d" stroke-width="0.22" letter-spacing="-0.6">2</text>
<line x1="389.1" y1="565.1" x2="392.5" y2="565.1" stroke="#333333" stroke-width="1.4" />
<text x="387.5" y="565.1" font-size="9" text-anchor="end" fill="#4d4d4d" font-weight="normal" dominant-baseline="central" stroke="#4d4d4d" stroke-width="0.22" letter-spacing="-0.6">0</text>
<line x1="389.1" y1="483.9" x2="392.5" y2="483.9" stroke="#333333" stroke-width="1.4" />
<text x="387.5" y="483.9" font-size="9" text-anchor="end" fill="#4d4d4d" font-weight="normal" dominant-baseline="central" stroke="#4d4d4d" stroke-width="0.22" letter-spacing="-0.6">5</text>
<line x1="389.1" y1="402.7" x2="392.5" y2="402.7" stroke="#333333" stroke-width="1.4" />
<text x="387.5" y="402.7" font-size="9" text-anchor="end" fill="#4d4d4d" font-weight="normal" dominant-baseline="central" stroke="#4d4d4d" stroke-width="0.22" letter-spacing="-0.6">10</text>
<line x1="389.1" y1="321.5" x2="392.5" y2="321.5" stroke="#333333" stroke-width="1.4" />
<text x="387.5" y="321.5" font-size="9" text-anchor="end" fill="#4d4d4d" font-weight="normal" dominant-baseline="central" stroke="#4d4d4d" stroke-width="0.22" letter-spacing="-0.6">15</text>
<text x="466.4" y="596.3" font-size="10" text-anchor="start" fill="#000" font-weight="normal" dominant-baseline="central" stroke="#000" stroke-width="0.22" >Primary</text>
<text x="513.2" y="596.3" font-size="10" text-anchor="start" fill="#000" font-weight="normal" dominant-baseline="central" stroke="#000" stroke-width="0.22" >log2 FC</text>
<text x="561.5" y="596.3" font-size="10" text-anchor="start" fill="#000" font-weight="normal" dominant-baseline="central" stroke="#000" stroke-width="0.22" >Metastasis</text>
<path d="M502.9,596.5 H512.3 M504.9,594.6 L502.7,596.5 L504.9,598.4" stroke="#000" stroke-width="0.8" fill="none"/>
<path d="M551.2,596.5 H560.6 M558.6,594.6 L560.8,596.5 L558.6,598.4" stroke="#000" stroke-width="0.8" fill="none"/>
<text x="0.0" y="0.0" font-size="10" text-anchor="middle" fill="#000" font-weight="normal" dominant-baseline="central" stroke="#000" stroke-width="0.22" transform="translate(371,435) rotate(-90)">Significance: -log10(P)</text>
<rect x="392.5" y="605.3" width="290.7" height="272.7" fill="#fff" stroke="none" stroke-width="1" />
<line x1="427.4" y1="605.3" x2="427.4" y2="878.0" stroke="#ebebeb" stroke-width="1" />
<line x1="649.1" y1="605.3" x2="649.1" y2="878.0" stroke="#ebebeb" stroke-width="1" />
<line x1="464.3" y1="605.3" x2="464.3" y2="878.0" stroke="#ebebeb" stroke-width="1.5" />
<line x1="538.2" y1="605.3" x2="538.2" y2="878.0" stroke="#ebebeb" stroke-width="1.5" />
<line x1="612.1" y1="605.3" x2="612.1" y2="878.0" stroke="#ebebeb" stroke-width="1.5" />
<line x1="392.5" y1="866.1" x2="683.2" y2="866.1" stroke="#ebebeb" stroke-width="1.1" />
<line x1="392.5" y1="835.0" x2="683.2" y2="835.0" stroke="#ebebeb" stroke-width="1.1" />
<line x1="392.5" y1="803.9" x2="683.2" y2="803.9" stroke="#ebebeb" stroke-width="1.1" />
<line x1="392.5" y1="772.7" x2="683.2" y2="772.7" stroke="#ebebeb" stroke-width="1.1" />
<line x1="392.5" y1="741.6" x2="683.2" y2="741.6" stroke="#ebebeb" stroke-width="1.1" />
<line x1="392.5" y1="710.5" x2="683.2" y2="710.5" stroke="#ebebeb" stroke-width="1.1" />
<line x1="392.5" y1="679.4" x2="683.2" y2="679.4" stroke="#ebebeb" stroke-width="1.1" />
<line x1="392.5" y1="648.2" x2="683.2" y2="648.2" stroke="#ebebeb" stroke-width="1.1" />
<line x1="392.5" y1="617.1" x2="683.2" y2="617.1" stroke="#ebebeb" stroke-width="1.1" />
<line x1="501.3" y1="878.0" x2="501.3" y2="605.3" stroke="#bdbdbd" stroke-width="1.5" stroke-dasharray="8.15,8.15"/>
<line x1="575.2" y1="878.0" x2="575.2" y2="605.3" stroke="#bdbdbd" stroke-width="1.5" stroke-dasharray="8.15,8.15"/>
<line x1="392.5" y1="849.9" x2="683.2" y2="849.9" stroke="#bdbdbd" stroke-width="1.5" stroke-dasharray="8.15,8.15"/>
<text x="536.9" y="639.3" font-size="11.8" text-anchor="middle" fill="#000" font-weight="normal" dominant-baseline="central" stroke="#000" stroke-width="0.22" >PanCK+</text>
<text x="536.9" y="653.5" font-size="11.8" text-anchor="middle" fill="#000" font-weight="normal" dominant-baseline="central" stroke="#000" stroke-width="0.22" >Segments</text>
<text x="536.9" y="667.7" font-size="11.8" text-anchor="middle" fill="#000" font-weight="normal" dominant-baseline="central" stroke="#000" stroke-width="0.22" >Only</text>
<line x1="460.7" y1="768.1" x2="483.1" y2="768.1" stroke="#a0a0a0" stroke-width="1" />
<line x1="503.6" y1="793.3" x2="527.8" y2="796.0" stroke="#a0a0a0" stroke-width="1" />
<circle cx="518.5" cy="850.9" r="2.6" fill="#bdbdbd"/>
<circle cx="525.1" cy="850.9" r="2.6" fill="#bdbdbd"/>
<circle cx="530.4" cy="851.1" r="2.6" fill="#bdbdbd"/>
<circle cx="527.7" cy="853.8" r="2.6" fill="#bdbdbd"/>
<circle cx="530.4" cy="856.4" r="2.6" fill="#bdbdbd"/>
<circle cx="521.2" cy="859.0" r="2.6" fill="#bdbdbd"/>
<circle cx="533.0" cy="859.5" r="2.6" fill="#bdbdbd"/>
<circle cx="536.9" cy="863.5" r="2.6" fill="#bdbdbd"/>
<circle cx="538.2" cy="865.6" r="2.6" fill="#bdbdbd"/>
<circle cx="540.9" cy="863.5" r="2.6" fill="#bdbdbd"/>
<circle cx="543.5" cy="862.2" r="2.6" fill="#bdbdbd"/>
<circle cx="546.6" cy="859.5" r="2.6" fill="#bdbdbd"/>
<circle cx="550.1" cy="856.9" r="2.6" fill="#bdbdbd"/>
<circle cx="535.1" cy="861.4" r="2.6" fill="#bdbdbd"/>
<circle cx="535.6" cy="864.8" r="2.6" fill="#bdbdbd"/>
<circle cx="539.5" cy="865.6" r="2.6" fill="#bdbdbd"/>
<circle cx="542.2" cy="864.0" r="2.6" fill="#bdbdbd"/>
<circle cx="533.0" cy="862.2" r="2.6" fill="#bdbdbd"/>
<circle cx="529.0" cy="858.2" r="2.6" fill="#bdbdbd"/>
<circle cx="526.4" cy="855.6" r="2.6" fill="#bdbdbd"/>
<circle cx="523.8" cy="853.0" r="2.6" fill="#bdbdbd"/>
<circle cx="534.0" cy="857.0" r="2.6" fill="#bdbdbd"/>
<circle cx="524.6" cy="848.3" r="2.6" fill="#4a7fc2"/>
<circle cx="557.4" cy="847.7" r="2.6" fill="#4a7fc2"/>
<circle cx="521.2" cy="849.8" r="2.6" fill="#4a7fc2"/>
<circle cx="418.6" cy="617.6" r="2.6" fill="#e0262a"/>
<circle cx="466.3" cy="710.4" r="2.6" fill="#e0262a"/>
<circle cx="472.3" cy="728.9" r="2.6" fill="#e0262a"/>
<circle cx="488.2" cy="737.8" r="2.6" fill="#e0262a"/>
<circle cx="491.5" cy="752.1" r="2.6" fill="#e0262a"/>
<circle cx="494.1" cy="757.9" r="2.6" fill="#e0262a"/>
<circle cx="491.5" cy="762.9" r="2.6" fill="#e0262a"/>
<circle cx="498.0" cy="769.7" r="2.6" fill="#e0262a"/>
<circle cx="483.6" cy="768.1" r="2.6" fill="#e0262a"/>
<circle cx="490.4" cy="781.0" r="2.6" fill="#e0262a"/>
<circle cx="505.9" cy="777.3" r="2.6" fill="#e0262a"/>
<circle cx="494.4" cy="788.1" r="2.6" fill="#e0262a"/>
<circle cx="503.6" cy="793.3" r="2.6" fill="#e0262a"/>
<circle cx="475.7" cy="803.1" r="2.6" fill="#e0262a"/>
<circle cx="499.6" cy="804.1" r="2.6" fill="#e0262a"/>
<circle cx="515.6" cy="813.6" r="2.6" fill="#e0262a"/>
<circle cx="493.6" cy="812.3" r="2.6" fill="#e0262a"/>
<circle cx="512.0" cy="822.8" r="2.6" fill="#e0262a"/>
<circle cx="512.5" cy="827.5" r="2.6" fill="#e0262a"/>
<circle cx="498.8" cy="828.8" r="2.6" fill="#e0262a"/>
<circle cx="492.5" cy="830.4" r="2.6" fill="#e0262a"/>
<circle cx="495.7" cy="837.7" r="2.6" fill="#e0262a"/>
<circle cx="506.7" cy="834.6" r="2.6" fill="#e0262a"/>
<circle cx="510.1" cy="835.1" r="2.6" fill="#e0262a"/>
<circle cx="512.5" cy="837.7" r="2.6" fill="#e0262a"/>
<circle cx="514.1" cy="836.2" r="2.6" fill="#e0262a"/>
<circle cx="519.3" cy="838.0" r="2.6" fill="#e0262a"/>
<circle cx="513.8" cy="839.3" r="2.6" fill="#e0262a"/>
<circle cx="520.4" cy="842.5" r="2.6" fill="#e0262a"/>
<circle cx="516.7" cy="843.8" r="2.6" fill="#e0262a"/>
<circle cx="517.7" cy="846.4" r="2.6" fill="#e0262a"/>
<circle cx="519.8" cy="847.2" r="2.6" fill="#e0262a"/>
<circle cx="517.2" cy="848.3" r="2.6" fill="#e0262a"/>
<circle cx="521.7" cy="845.1" r="2.6" fill="#e0262a"/>
<circle cx="564.0" cy="751.3" r="2.6" fill="#e0262a"/>
<circle cx="573.7" cy="801.5" r="2.6" fill="#e0262a"/>
<circle cx="575.8" cy="812.5" r="2.6" fill="#e0262a"/>
<circle cx="601.2" cy="743.6" r="2.6" fill="#e0262a"/>
<circle cx="611.0" cy="799.7" r="2.6" fill="#e0262a"/>
<text x="410.4" y="625.3" font-size="10.2" text-anchor="middle" fill="#333333" font-weight="normal" dominant-baseline="central" stroke="#333333" stroke-width="0.22" >SMA</text>
<text x="458.1" y="702.4" font-size="10.2" text-anchor="middle" fill="#333333" font-weight="normal" dominant-baseline="central" stroke="#333333" stroke-width="0.22" >Bcl-2</text>
<text x="464.1" y="720.4" font-size="10.2" text-anchor="middle" fill="#333333" font-weight="normal" dominant-baseline="central" stroke="#333333" stroke-width="0.22" >CD3</text>
<text x="497.1" y="730.1" font-size="10.2" text-anchor="middle" fill="#333333" font-weight="normal" dominant-baseline="central" stroke="#333333" stroke-width="0.22" >Tim-3</text>
<text x="477.3" y="745.8" font-size="10.2" text-anchor="middle" fill="#333333" font-weight="normal" dominant-baseline="central" stroke="#333333" stroke-width="0.22" >CD4</text>
<text x="509.9" y="748.4" font-size="10.2" text-anchor="middle" fill="#333333" font-weight="normal" dominant-baseline="central" stroke="#333333" stroke-width="0.22" >PTEN</text>
<text x="476.5" y="759.2" font-size="10.2" text-anchor="middle" fill="#333333" font-weight="normal" dominant-baseline="central" stroke="#333333" stroke-width="0.22" >CD8</text>
<text x="511.4" y="762.3" font-size="10.2" text-anchor="middle" fill="#333333" font-weight="normal" dominant-baseline="central" stroke="#333333" stroke-width="0.22" >CD20</text>
<text x="447.1" y="768.1" font-size="10.2" text-anchor="middle" fill="#333333" font-weight="normal" dominant-baseline="central" stroke="#333333" stroke-width="0.22" >CD45</text>
<text x="471.2" y="781.5" font-size="10.2" text-anchor="middle" fill="#333333" font-weight="normal" dominant-baseline="central" stroke="#333333" stroke-width="0.22" >CD11c</text>
<text x="514.6" y="785.2" font-size="10.2" text-anchor="middle" fill="#333333" font-weight="normal" dominant-baseline="central" stroke="#333333" stroke-width="0.22" >BIM</text>
<text x="485.7" y="796.0" font-size="10.2" text-anchor="middle" fill="#333333" font-weight="normal" dominant-baseline="central" stroke="#333333" stroke-width="0.22" >CD56</text>
<text x="543.0" y="795.7" font-size="10.2" text-anchor="middle" fill="#333333" font-weight="normal" dominant-baseline="central" stroke="#333333" stroke-width="0.22" >CD27</text>
<text x="450.2" y="810.4" font-size="10.2" text-anchor="middle" fill="#333333" font-weight="normal" dominant-baseline="central" stroke="#333333" stroke-width="0.22" >ER-alpha</text>
<text x="519.3" y="809.9" font-size="10.2" text-anchor="middle" fill="#333333" font-weight="normal" dominant-baseline="central" stroke="#333333" stroke-width="0.22" >4-1BB</text>
<text x="491.5" y="823.3" font-size="10.2" text-anchor="middle" fill="#333333" font-weight="normal" dominant-baseline="central" stroke="#333333" stroke-width="0.22" >CD80</text>
<text x="556.1" y="758.4" font-size="10.2" text-anchor="middle" fill="#333333" font-weight="normal" dominant-baseline="central" stroke="#333333" stroke-width="0.22" >PARP</text>
<text x="609.1" y="735.7" font-size="10.2" text-anchor="middle" fill="#333333" font-weight="normal" dominant-baseline="central" stroke="#333333" stroke-width="0.22" >Ki-67</text>
<text x="619.5" y="792.0" font-size="10.2" text-anchor="middle" fill="#333333" font-weight="normal" dominant-baseline="central" stroke="#333333" stroke-width="0.22" >Her2</text>
<text x="592.3" y="810.1" font-size="10.2" text-anchor="middle" fill="#333333" font-weight="normal" dominant-baseline="central" stroke="#333333" stroke-width="0.22" >Phospho-AKT1.(S473)</text>
<text x="393.3" y="845.6" font-size="10" text-anchor="start" fill="#333333" font-weight="normal" dominant-baseline="central" stroke="#333333" stroke-width="0.22" >P-value = 0.05</text>
<rect x="600.5" y="620.2" width="79.8" height="46.2" fill="#f7f7f7" stroke="#3a2a20" stroke-width="1.4" />
<circle cx="612.0" cy="629.5" r="5.5" fill="#e0262a"/>
<text x="623.3" y="629.5" font-size="8" text-anchor="start" fill="#4d4d4d" font-weight="normal" dominant-baseline="central" stroke="#4d4d4d" stroke-width="0.22" letter-spacing="-0.18">P-adjust &lt; 0.05</text>
<circle cx="612.0" cy="643.4" r="5.5" fill="#4a7fc2"/>
<text x="623.9" y="643.4" font-size="8" text-anchor="start" fill="#4d4d4d" font-weight="normal" dominant-baseline="central" stroke="#4d4d4d" stroke-width="0.22" letter-spacing="-0.18">P-value &lt; 0.05</text>
<circle cx="612.0" cy="657.4" r="5.5" fill="#bdbdbd"/>
<text x="623.9" y="657.4" font-size="8" text-anchor="start" fill="#4d4d4d" font-weight="normal" dominant-baseline="central" stroke="#4d4d4d" stroke-width="0.22" letter-spacing="-0.18">P-value &gt; 0.05</text>
<rect x="392.5" y="605.3" width="290.7" height="272.7" fill="none" stroke="#333333" stroke-width="1.1" />
<line x1="464.3" y1="878.0" x2="464.3" y2="881.4" stroke="#333333" stroke-width="1.4" />
<text x="464.3" y="885.6" font-size="9" text-anchor="middle" fill="#4d4d4d" font-weight="normal" dominant-baseline="central" stroke="#4d4d4d" stroke-width="0.22" letter-spacing="-0.6">-2</text>
<line x1="538.2" y1="878.0" x2="538.2" y2="881.4" stroke="#333333" stroke-width="1.4" />
<text x="538.2" y="885.6" font-size="9" text-anchor="middle" fill="#4d4d4d" font-weight="normal" dominant-baseline="central" stroke="#4d4d4d" stroke-width="0.22" letter-spacing="-0.6">0</text>
<line x1="612.1" y1="878.0" x2="612.1" y2="881.4" stroke="#333333" stroke-width="1.4" />
<text x="612.1" y="885.6" font-size="9" text-anchor="middle" fill="#4d4d4d" font-weight="normal" dominant-baseline="central" stroke="#4d4d4d" stroke-width="0.22" letter-spacing="-0.6">2</text>
<line x1="389.1" y1="866.1" x2="392.5" y2="866.1" stroke="#333333" stroke-width="1.4" />
<text x="387.5" y="866.1" font-size="9" text-anchor="end" fill="#4d4d4d" font-weight="normal" dominant-baseline="central" stroke="#4d4d4d" stroke-width="0.22" letter-spacing="-0.6">0</text>
<line x1="389.1" y1="803.9" x2="392.5" y2="803.9" stroke="#333333" stroke-width="1.4" />
<text x="387.5" y="803.9" font-size="9" text-anchor="end" fill="#4d4d4d" font-weight="normal" dominant-baseline="central" stroke="#4d4d4d" stroke-width="0.22" letter-spacing="-0.6">5</text>
<line x1="389.1" y1="741.6" x2="392.5" y2="741.6" stroke="#333333" stroke-width="1.4" />
<text x="387.5" y="741.6" font-size="9" text-anchor="end" fill="#4d4d4d" font-weight="normal" dominant-baseline="central" stroke="#4d4d4d" stroke-width="0.22" letter-spacing="-0.6">10</text>
<line x1="389.1" y1="679.4" x2="392.5" y2="679.4" stroke="#333333" stroke-width="1.4" />
<text x="387.5" y="679.4" font-size="9" text-anchor="end" fill="#4d4d4d" font-weight="normal" dominant-baseline="central" stroke="#4d4d4d" stroke-width="0.22" letter-spacing="-0.6">15</text>
<line x1="389.1" y1="617.1" x2="392.5" y2="617.1" stroke="#333333" stroke-width="1.4" />
<text x="387.5" y="617.1" font-size="9" text-anchor="end" fill="#4d4d4d" font-weight="normal" dominant-baseline="central" stroke="#4d4d4d" stroke-width="0.22" letter-spacing="-0.6">20</text>
<text x="466.4" y="896.6" font-size="10" text-anchor="start" fill="#000" font-weight="normal" dominant-baseline="central" stroke="#000" stroke-width="0.22" >Primary</text>
<text x="513.2" y="896.6" font-size="10" text-anchor="start" fill="#000" font-weight="normal" dominant-baseline="central" stroke="#000" stroke-width="0.22" >log2 FC</text>
<text x="561.5" y="896.6" font-size="10" text-anchor="start" fill="#000" font-weight="normal" dominant-baseline="central" stroke="#000" stroke-width="0.22" >Metastasis</text>
<path d="M502.9,896.8 H512.3 M504.9,894.9 L502.7,896.8 L504.9,898.7" stroke="#000" stroke-width="0.8" fill="none"/>
<path d="M551.2,896.8 H560.6 M558.6,894.9 L560.8,896.8 L558.6,898.7" stroke="#000" stroke-width="0.8" fill="none"/>
<text x="0.0" y="0.0" font-size="10" text-anchor="middle" fill="#000" font-weight="normal" dominant-baseline="central" stroke="#000" stroke-width="0.22" transform="translate(371,741) rotate(-90)">Significance: -log10(P)</text>
</svg>
</body></html>
